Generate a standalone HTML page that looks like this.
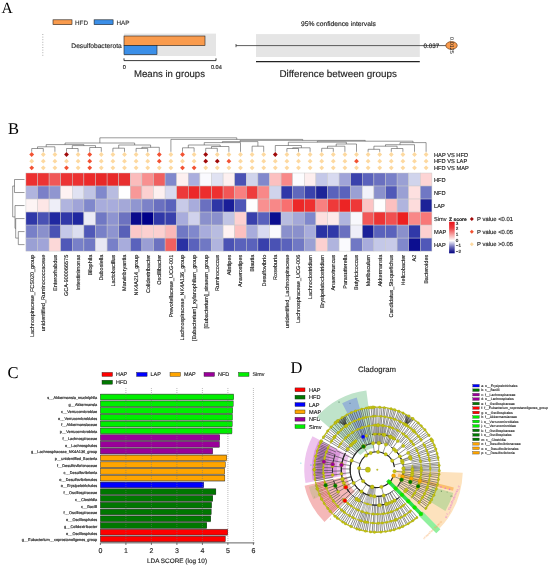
<!DOCTYPE html>
<html><head><meta charset="utf-8"><title>Figure</title><style>html,body{margin:0;padding:0;background:#fff;width:550px;height:566px;overflow:hidden}svg{display:block;filter:blur(0.4px)}</style></head><body>
<svg width="550" height="566" viewBox="0 0 550 566" text-rendering="geometricPrecision">
<rect width="550" height="566" fill="#fff"/>
<text x="1.50" y="13.40" font-size="15.5" fill="#000" stroke="#000" stroke-width="0" text-anchor="start" font-family='"Liberation Serif", serif' font-weight="normal" >A</text>
<text x="8.00" y="133.60" font-size="16.5" fill="#000" stroke="#000" stroke-width="0" text-anchor="start" font-family='"Liberation Serif", serif' font-weight="normal" >B</text>
<text x="7.60" y="377.60" font-size="16.5" fill="#000" stroke="#000" stroke-width="0" text-anchor="start" font-family='"Liberation Serif", serif' font-weight="normal" >C</text>
<text x="290.60" y="372.50" font-size="16.5" fill="#000" stroke="#000" stroke-width="0" text-anchor="start" font-family='"Liberation Serif", serif' font-weight="normal" >D</text>
<rect x="53" y="19.8" width="19" height="4.9" fill="#f99b4d" stroke="#222" stroke-width="0.6"/>
<text x="75.00" y="24.80" font-size="6.3" fill="#333" stroke="#333" stroke-width="0.14" text-anchor="start" font-family='"Liberation Sans", sans-serif' font-weight="normal" >HFD</text>
<rect x="94.1" y="19.8" width="19" height="4.9" fill="#3b8fe8" stroke="#222" stroke-width="0.6"/>
<text x="116.50" y="24.80" font-size="6.3" fill="#333" stroke="#333" stroke-width="0.14" text-anchor="start" font-family='"Liberation Sans", sans-serif' font-weight="normal" >HAP</text>
<line x1="42.8" y1="34" x2="42.8" y2="57" stroke="#999" stroke-width="0.8" stroke-dasharray="1,1.6"/>
<text x="121.70" y="48.40" font-size="6.67" fill="#222" stroke="#222" stroke-width="0.14" text-anchor="end" font-family='"Liberation Sans", sans-serif' font-weight="normal" >Desulfobacterota</text>
<rect x="124" y="33.6" width="92" height="22.4" fill="#e5e5e5"/>
<rect x="124" y="36" width="81" height="9.6" fill="#f99b4d" stroke="#222" stroke-width="0.6"/>
<rect x="124" y="45.6" width="33" height="9" fill="#3b8fe8" stroke="#222" stroke-width="0.6"/>
<path d="M124,58.3 V60.6 H216 V58.3" fill="none" stroke="#222" stroke-width="0.9"/>
<text x="124.40" y="69.30" font-size="5.6" fill="#222" stroke="#222" stroke-width="0.14" text-anchor="middle" font-family='"Liberation Sans", sans-serif' font-weight="normal" >0</text>
<text x="216.40" y="69.30" font-size="5.6" fill="#222" stroke="#222" stroke-width="0.14" text-anchor="middle" font-family='"Liberation Sans", sans-serif' font-weight="normal" >0.04</text>
<text x="169.50" y="77.00" font-size="9.6" fill="#222" stroke="#222" stroke-width="0.14" text-anchor="middle" font-family='"Liberation Sans", sans-serif' font-weight="normal" >Means in groups</text>
<text x="338.40" y="25.60" font-size="6.73" fill="#222" stroke="#222" stroke-width="0.14" text-anchor="middle" font-family='"Liberation Sans", sans-serif' font-weight="normal" >95% confidence intervals</text>
<rect x="256" y="34.1" width="163.8" height="22.9" fill="#e5e5e5"/>
<line x1="236" y1="45.6" x2="446" y2="45.6" stroke="#333" stroke-width="0.8"/>
<line x1="236" y1="44" x2="236" y2="47.2" stroke="#333" stroke-width="0.8"/>
<line x1="256" y1="61.6" x2="419.8" y2="61.6" stroke="#222" stroke-width="1.4"/>
<text x="338.20" y="77.20" font-size="9.86" fill="#222" stroke="#222" stroke-width="0.14" text-anchor="middle" font-family='"Liberation Sans", sans-serif' font-weight="normal" >Difference between groups</text>
<text x="431.50" y="48.40" font-size="6.3" fill="#222" stroke="#222" stroke-width="0.14" text-anchor="middle" font-family='"Liberation Sans", sans-serif' font-weight="normal" >0.037</text>
<ellipse cx="451.5" cy="45.5" rx="5.7" ry="3.9" fill="#f99b4d" stroke="#6a3a10" stroke-width="0.7"/>
<text x="0" y="0" font-size="5.5" fill="#222" text-anchor="middle" font-family='"Liberation Sans", sans-serif' transform="translate(450.2,45.5) rotate(90)">0.0125</text>
<rect x="25.90" y="173.00" width="11.60" height="13.02" fill="#ec3030" stroke="#c8c8c8" stroke-width="0.45"/>
<rect x="37.50" y="173.00" width="11.60" height="13.02" fill="#ec3434" stroke="#c8c8c8" stroke-width="0.45"/>
<rect x="49.10" y="173.00" width="11.60" height="13.02" fill="#f05858" stroke="#c8c8c8" stroke-width="0.45"/>
<rect x="60.70" y="173.00" width="11.60" height="13.02" fill="#ec3434" stroke="#c8c8c8" stroke-width="0.45"/>
<rect x="72.30" y="173.00" width="11.60" height="13.02" fill="#ec3232" stroke="#c8c8c8" stroke-width="0.45"/>
<rect x="83.90" y="173.00" width="11.60" height="13.02" fill="#ec2a2a" stroke="#c8c8c8" stroke-width="0.45"/>
<rect x="95.50" y="173.00" width="11.60" height="13.02" fill="#e82828" stroke="#c8c8c8" stroke-width="0.45"/>
<rect x="107.10" y="173.00" width="11.60" height="13.02" fill="#e82828" stroke="#c8c8c8" stroke-width="0.45"/>
<rect x="118.70" y="173.00" width="11.60" height="13.02" fill="#e83030" stroke="#c8c8c8" stroke-width="0.45"/>
<rect x="130.30" y="173.00" width="11.60" height="13.02" fill="#fbbcbc" stroke="#c8c8c8" stroke-width="0.45"/>
<rect x="141.90" y="173.00" width="11.60" height="13.02" fill="#f89090" stroke="#c8c8c8" stroke-width="0.45"/>
<rect x="153.50" y="173.00" width="11.60" height="13.02" fill="#f06060" stroke="#c8c8c8" stroke-width="0.45"/>
<rect x="165.10" y="173.00" width="11.60" height="13.02" fill="#8088cc" stroke="#c8c8c8" stroke-width="0.45"/>
<rect x="176.70" y="173.00" width="11.60" height="13.02" fill="#fdf0f0" stroke="#c8c8c8" stroke-width="0.45"/>
<rect x="188.30" y="173.00" width="11.60" height="13.02" fill="#aaaedd" stroke="#c8c8c8" stroke-width="0.45"/>
<rect x="199.90" y="173.00" width="11.60" height="13.02" fill="#fafafe" stroke="#c8c8c8" stroke-width="0.45"/>
<rect x="211.50" y="173.00" width="11.60" height="13.02" fill="#e0e2f2" stroke="#c8c8c8" stroke-width="0.45"/>
<rect x="223.10" y="173.00" width="11.60" height="13.02" fill="#fdf0f0" stroke="#c8c8c8" stroke-width="0.45"/>
<rect x="234.70" y="173.00" width="11.60" height="13.02" fill="#4a52b4" stroke="#c8c8c8" stroke-width="0.45"/>
<rect x="246.30" y="173.00" width="11.60" height="13.02" fill="#d0d4ec" stroke="#c8c8c8" stroke-width="0.45"/>
<rect x="257.90" y="173.00" width="11.60" height="13.02" fill="#8088cc" stroke="#c8c8c8" stroke-width="0.45"/>
<rect x="269.50" y="173.00" width="11.60" height="13.02" fill="#fcc0c0" stroke="#c8c8c8" stroke-width="0.45"/>
<rect x="281.10" y="173.00" width="11.60" height="13.02" fill="#f88888" stroke="#c8c8c8" stroke-width="0.45"/>
<rect x="292.70" y="173.00" width="11.60" height="13.02" fill="#fcfcfe" stroke="#c8c8c8" stroke-width="0.45"/>
<rect x="304.30" y="173.00" width="11.60" height="13.02" fill="#fdeeee" stroke="#c8c8c8" stroke-width="0.45"/>
<rect x="315.90" y="173.00" width="11.60" height="13.02" fill="#c4c8e8" stroke="#c8c8c8" stroke-width="0.45"/>
<rect x="327.50" y="173.00" width="11.60" height="13.02" fill="#d8daf0" stroke="#c8c8c8" stroke-width="0.45"/>
<rect x="339.10" y="173.00" width="11.60" height="13.02" fill="#a0a4d8" stroke="#c8c8c8" stroke-width="0.45"/>
<rect x="350.70" y="173.00" width="11.60" height="13.02" fill="#3a42ac" stroke="#c8c8c8" stroke-width="0.45"/>
<rect x="362.30" y="173.00" width="11.60" height="13.02" fill="#5a62bc" stroke="#c8c8c8" stroke-width="0.45"/>
<rect x="373.90" y="173.00" width="11.60" height="13.02" fill="#6a70c0" stroke="#c8c8c8" stroke-width="0.45"/>
<rect x="385.50" y="173.00" width="11.60" height="13.02" fill="#7880c8" stroke="#c8c8c8" stroke-width="0.45"/>
<rect x="397.10" y="173.00" width="11.60" height="13.02" fill="#9aa0d4" stroke="#c8c8c8" stroke-width="0.45"/>
<rect x="408.70" y="173.00" width="11.60" height="13.02" fill="#d0d4ec" stroke="#c8c8c8" stroke-width="0.45"/>
<rect x="420.30" y="173.00" width="11.60" height="13.02" fill="#fdd4d4" stroke="#c8c8c8" stroke-width="0.45"/>
<rect x="25.90" y="186.02" width="11.60" height="13.02" fill="#b0b4de" stroke="#c8c8c8" stroke-width="0.45"/>
<rect x="37.50" y="186.02" width="11.60" height="13.02" fill="#7a80c8" stroke="#c8c8c8" stroke-width="0.45"/>
<rect x="49.10" y="186.02" width="11.60" height="13.02" fill="#9096d0" stroke="#c8c8c8" stroke-width="0.45"/>
<rect x="60.70" y="186.02" width="11.60" height="13.02" fill="#fef2f2" stroke="#c8c8c8" stroke-width="0.45"/>
<rect x="72.30" y="186.02" width="11.60" height="13.02" fill="#e0e2f2" stroke="#c8c8c8" stroke-width="0.45"/>
<rect x="83.90" y="186.02" width="11.60" height="13.02" fill="#c0c4e4" stroke="#c8c8c8" stroke-width="0.45"/>
<rect x="95.50" y="186.02" width="11.60" height="13.02" fill="#8088cc" stroke="#c8c8c8" stroke-width="0.45"/>
<rect x="107.10" y="186.02" width="11.60" height="13.02" fill="#b8bce0" stroke="#c8c8c8" stroke-width="0.45"/>
<rect x="118.70" y="186.02" width="11.60" height="13.02" fill="#ffffff" stroke="#c8c8c8" stroke-width="0.45"/>
<rect x="130.30" y="186.02" width="11.60" height="13.02" fill="#f89898" stroke="#c8c8c8" stroke-width="0.45"/>
<rect x="141.90" y="186.02" width="11.60" height="13.02" fill="#fcd0d0" stroke="#c8c8c8" stroke-width="0.45"/>
<rect x="153.50" y="186.02" width="11.60" height="13.02" fill="#fdf0f0" stroke="#c8c8c8" stroke-width="0.45"/>
<rect x="165.10" y="186.02" width="11.60" height="13.02" fill="#d8daf0" stroke="#c8c8c8" stroke-width="0.45"/>
<rect x="176.70" y="186.02" width="11.60" height="13.02" fill="#ec3a3a" stroke="#c8c8c8" stroke-width="0.45"/>
<rect x="188.30" y="186.02" width="11.60" height="13.02" fill="#ec2828" stroke="#c8c8c8" stroke-width="0.45"/>
<rect x="199.90" y="186.02" width="11.60" height="13.02" fill="#ec2e2e" stroke="#c8c8c8" stroke-width="0.45"/>
<rect x="211.50" y="186.02" width="11.60" height="13.02" fill="#ee3030" stroke="#c8c8c8" stroke-width="0.45"/>
<rect x="223.10" y="186.02" width="11.60" height="13.02" fill="#f25656" stroke="#c8c8c8" stroke-width="0.45"/>
<rect x="234.70" y="186.02" width="11.60" height="13.02" fill="#f88080" stroke="#c8c8c8" stroke-width="0.45"/>
<rect x="246.30" y="186.02" width="11.60" height="13.02" fill="#ee3c3c" stroke="#c8c8c8" stroke-width="0.45"/>
<rect x="257.90" y="186.02" width="11.60" height="13.02" fill="#f88888" stroke="#c8c8c8" stroke-width="0.45"/>
<rect x="269.50" y="186.02" width="11.60" height="13.02" fill="#d0d4ec" stroke="#c8c8c8" stroke-width="0.45"/>
<rect x="281.10" y="186.02" width="11.60" height="13.02" fill="#3038a8" stroke="#c8c8c8" stroke-width="0.45"/>
<rect x="292.70" y="186.02" width="11.60" height="13.02" fill="#6068bc" stroke="#c8c8c8" stroke-width="0.45"/>
<rect x="304.30" y="186.02" width="11.60" height="13.02" fill="#3a42ac" stroke="#c8c8c8" stroke-width="0.45"/>
<rect x="315.90" y="186.02" width="11.60" height="13.02" fill="#1e2498" stroke="#c8c8c8" stroke-width="0.45"/>
<rect x="327.50" y="186.02" width="11.60" height="13.02" fill="#5a62bc" stroke="#c8c8c8" stroke-width="0.45"/>
<rect x="339.10" y="186.02" width="11.60" height="13.02" fill="#5a62bc" stroke="#c8c8c8" stroke-width="0.45"/>
<rect x="350.70" y="186.02" width="11.60" height="13.02" fill="#9aa0d4" stroke="#c8c8c8" stroke-width="0.45"/>
<rect x="362.30" y="186.02" width="11.60" height="13.02" fill="#f2f2fa" stroke="#c8c8c8" stroke-width="0.45"/>
<rect x="373.90" y="186.02" width="11.60" height="13.02" fill="#8a90cc" stroke="#c8c8c8" stroke-width="0.45"/>
<rect x="385.50" y="186.02" width="11.60" height="13.02" fill="#5058b8" stroke="#c8c8c8" stroke-width="0.45"/>
<rect x="397.10" y="186.02" width="11.60" height="13.02" fill="#9aa0d4" stroke="#c8c8c8" stroke-width="0.45"/>
<rect x="408.70" y="186.02" width="11.60" height="13.02" fill="#fde0e0" stroke="#c8c8c8" stroke-width="0.45"/>
<rect x="420.30" y="186.02" width="11.60" height="13.02" fill="#7078c4" stroke="#c8c8c8" stroke-width="0.45"/>
<rect x="25.90" y="199.04" width="11.60" height="13.02" fill="#fdf4f4" stroke="#c8c8c8" stroke-width="0.45"/>
<rect x="37.50" y="199.04" width="11.60" height="13.02" fill="#fde6e6" stroke="#c8c8c8" stroke-width="0.45"/>
<rect x="49.10" y="199.04" width="11.60" height="13.02" fill="#eeeef8" stroke="#c8c8c8" stroke-width="0.45"/>
<rect x="60.70" y="199.04" width="11.60" height="13.02" fill="#b0b4de" stroke="#c8c8c8" stroke-width="0.45"/>
<rect x="72.30" y="199.04" width="11.60" height="13.02" fill="#a0a4d8" stroke="#c8c8c8" stroke-width="0.45"/>
<rect x="83.90" y="199.04" width="11.60" height="13.02" fill="#8088cc" stroke="#c8c8c8" stroke-width="0.45"/>
<rect x="95.50" y="199.04" width="11.60" height="13.02" fill="#a8acdc" stroke="#c8c8c8" stroke-width="0.45"/>
<rect x="107.10" y="199.04" width="11.60" height="13.02" fill="#a8acdc" stroke="#c8c8c8" stroke-width="0.45"/>
<rect x="118.70" y="199.04" width="11.60" height="13.02" fill="#a4a8d8" stroke="#c8c8c8" stroke-width="0.45"/>
<rect x="130.30" y="199.04" width="11.60" height="13.02" fill="#9096d0" stroke="#c8c8c8" stroke-width="0.45"/>
<rect x="141.90" y="199.04" width="11.60" height="13.02" fill="#7c82c8" stroke="#c8c8c8" stroke-width="0.45"/>
<rect x="153.50" y="199.04" width="11.60" height="13.02" fill="#6a70c0" stroke="#c8c8c8" stroke-width="0.45"/>
<rect x="165.10" y="199.04" width="11.60" height="13.02" fill="#5a62bc" stroke="#c8c8c8" stroke-width="0.45"/>
<rect x="176.70" y="199.04" width="11.60" height="13.02" fill="#c8cae8" stroke="#c8c8c8" stroke-width="0.45"/>
<rect x="188.30" y="199.04" width="11.60" height="13.02" fill="#a8acdc" stroke="#c8c8c8" stroke-width="0.45"/>
<rect x="199.90" y="199.04" width="11.60" height="13.02" fill="#6a70c0" stroke="#c8c8c8" stroke-width="0.45"/>
<rect x="211.50" y="199.04" width="11.60" height="13.02" fill="#2e36a6" stroke="#c8c8c8" stroke-width="0.45"/>
<rect x="223.10" y="199.04" width="11.60" height="13.02" fill="#1a1e98" stroke="#c8c8c8" stroke-width="0.45"/>
<rect x="234.70" y="199.04" width="11.60" height="13.02" fill="#4e56b6" stroke="#c8c8c8" stroke-width="0.45"/>
<rect x="246.30" y="199.04" width="11.60" height="13.02" fill="#fefefe" stroke="#c8c8c8" stroke-width="0.45"/>
<rect x="257.90" y="199.04" width="11.60" height="13.02" fill="#f89090" stroke="#c8c8c8" stroke-width="0.45"/>
<rect x="269.50" y="199.04" width="11.60" height="13.02" fill="#f88888" stroke="#c8c8c8" stroke-width="0.45"/>
<rect x="281.10" y="199.04" width="11.60" height="13.02" fill="#f87070" stroke="#c8c8c8" stroke-width="0.45"/>
<rect x="292.70" y="199.04" width="11.60" height="13.02" fill="#ec2828" stroke="#c8c8c8" stroke-width="0.45"/>
<rect x="304.30" y="199.04" width="11.60" height="13.02" fill="#ee3030" stroke="#c8c8c8" stroke-width="0.45"/>
<rect x="315.90" y="199.04" width="11.60" height="13.02" fill="#f88080" stroke="#c8c8c8" stroke-width="0.45"/>
<rect x="327.50" y="199.04" width="11.60" height="13.02" fill="#ee3a3a" stroke="#c8c8c8" stroke-width="0.45"/>
<rect x="339.10" y="199.04" width="11.60" height="13.02" fill="#ec2424" stroke="#c8c8c8" stroke-width="0.45"/>
<rect x="350.70" y="199.04" width="11.60" height="13.02" fill="#ee3838" stroke="#c8c8c8" stroke-width="0.45"/>
<rect x="362.30" y="199.04" width="11.60" height="13.02" fill="#fcc4c4" stroke="#c8c8c8" stroke-width="0.45"/>
<rect x="373.90" y="199.04" width="11.60" height="13.02" fill="#fefefe" stroke="#c8c8c8" stroke-width="0.45"/>
<rect x="385.50" y="199.04" width="11.60" height="13.02" fill="#fcc0c0" stroke="#c8c8c8" stroke-width="0.45"/>
<rect x="397.10" y="199.04" width="11.60" height="13.02" fill="#b0b4de" stroke="#c8c8c8" stroke-width="0.45"/>
<rect x="408.70" y="199.04" width="11.60" height="13.02" fill="#fddcdc" stroke="#c8c8c8" stroke-width="0.45"/>
<rect x="420.30" y="199.04" width="11.60" height="13.02" fill="#1c2298" stroke="#c8c8c8" stroke-width="0.45"/>
<rect x="25.90" y="212.06" width="11.60" height="13.02" fill="#3038a8" stroke="#c8c8c8" stroke-width="0.45"/>
<rect x="37.50" y="212.06" width="11.60" height="13.02" fill="#4a52b4" stroke="#c8c8c8" stroke-width="0.45"/>
<rect x="49.10" y="212.06" width="11.60" height="13.02" fill="#2028a0" stroke="#c8c8c8" stroke-width="0.45"/>
<rect x="60.70" y="212.06" width="11.60" height="13.02" fill="#3038a8" stroke="#c8c8c8" stroke-width="0.45"/>
<rect x="72.30" y="212.06" width="11.60" height="13.02" fill="#2028a0" stroke="#c8c8c8" stroke-width="0.45"/>
<rect x="83.90" y="212.06" width="11.60" height="13.02" fill="#ebebf6" stroke="#c8c8c8" stroke-width="0.45"/>
<rect x="95.50" y="212.06" width="11.60" height="13.02" fill="#7078c4" stroke="#c8c8c8" stroke-width="0.45"/>
<rect x="107.10" y="212.06" width="11.60" height="13.02" fill="#8e94d0" stroke="#c8c8c8" stroke-width="0.45"/>
<rect x="118.70" y="212.06" width="11.60" height="13.02" fill="#6c72c0" stroke="#c8c8c8" stroke-width="0.45"/>
<rect x="130.30" y="212.06" width="11.60" height="13.02" fill="#0a0a8c" stroke="#c8c8c8" stroke-width="0.45"/>
<rect x="141.90" y="212.06" width="11.60" height="13.02" fill="#00008a" stroke="#c8c8c8" stroke-width="0.45"/>
<rect x="153.50" y="212.06" width="11.60" height="13.02" fill="#3038a8" stroke="#c8c8c8" stroke-width="0.45"/>
<rect x="165.10" y="212.06" width="11.60" height="13.02" fill="#3840ac" stroke="#c8c8c8" stroke-width="0.45"/>
<rect x="176.70" y="212.06" width="11.60" height="13.02" fill="#a8acdc" stroke="#c8c8c8" stroke-width="0.45"/>
<rect x="188.30" y="212.06" width="11.60" height="13.02" fill="#d0d2ec" stroke="#c8c8c8" stroke-width="0.45"/>
<rect x="199.90" y="212.06" width="11.60" height="13.02" fill="#8a90cc" stroke="#c8c8c8" stroke-width="0.45"/>
<rect x="211.50" y="212.06" width="11.60" height="13.02" fill="#8a90cc" stroke="#c8c8c8" stroke-width="0.45"/>
<rect x="223.10" y="212.06" width="11.60" height="13.02" fill="#c0c4e4" stroke="#c8c8c8" stroke-width="0.45"/>
<rect x="234.70" y="212.06" width="11.60" height="13.02" fill="#fdd0d0" stroke="#c8c8c8" stroke-width="0.45"/>
<rect x="246.30" y="212.06" width="11.60" height="13.02" fill="#3840ac" stroke="#c8c8c8" stroke-width="0.45"/>
<rect x="257.90" y="212.06" width="11.60" height="13.02" fill="#5860bc" stroke="#c8c8c8" stroke-width="0.45"/>
<rect x="269.50" y="212.06" width="11.60" height="13.02" fill="#0c0e90" stroke="#c8c8c8" stroke-width="0.45"/>
<rect x="281.10" y="212.06" width="11.60" height="13.02" fill="#b8bce0" stroke="#c8c8c8" stroke-width="0.45"/>
<rect x="292.70" y="212.06" width="11.60" height="13.02" fill="#a4a8d8" stroke="#c8c8c8" stroke-width="0.45"/>
<rect x="304.30" y="212.06" width="11.60" height="13.02" fill="#8088cc" stroke="#c8c8c8" stroke-width="0.45"/>
<rect x="315.90" y="212.06" width="11.60" height="13.02" fill="#fde0e0" stroke="#c8c8c8" stroke-width="0.45"/>
<rect x="327.50" y="212.06" width="11.60" height="13.02" fill="#fdeaea" stroke="#c8c8c8" stroke-width="0.45"/>
<rect x="339.10" y="212.06" width="11.60" height="13.02" fill="#b0b4de" stroke="#c8c8c8" stroke-width="0.45"/>
<rect x="350.70" y="212.06" width="11.60" height="13.02" fill="#f8f8fc" stroke="#c8c8c8" stroke-width="0.45"/>
<rect x="362.30" y="212.06" width="11.60" height="13.02" fill="#f25858" stroke="#c8c8c8" stroke-width="0.45"/>
<rect x="373.90" y="212.06" width="11.60" height="13.02" fill="#ec3434" stroke="#c8c8c8" stroke-width="0.45"/>
<rect x="385.50" y="212.06" width="11.60" height="13.02" fill="#f05050" stroke="#c8c8c8" stroke-width="0.45"/>
<rect x="397.10" y="212.06" width="11.60" height="13.02" fill="#ec2020" stroke="#c8c8c8" stroke-width="0.45"/>
<rect x="408.70" y="212.06" width="11.60" height="13.02" fill="#f88888" stroke="#c8c8c8" stroke-width="0.45"/>
<rect x="420.30" y="212.06" width="11.60" height="13.02" fill="#f87878" stroke="#c8c8c8" stroke-width="0.45"/>
<rect x="25.90" y="225.08" width="11.60" height="13.02" fill="#7880c8" stroke="#c8c8c8" stroke-width="0.45"/>
<rect x="37.50" y="225.08" width="11.60" height="13.02" fill="#8a90cc" stroke="#c8c8c8" stroke-width="0.45"/>
<rect x="49.10" y="225.08" width="11.60" height="13.02" fill="#4a52b4" stroke="#c8c8c8" stroke-width="0.45"/>
<rect x="60.70" y="225.08" width="11.60" height="13.02" fill="#c4c8e8" stroke="#c8c8c8" stroke-width="0.45"/>
<rect x="72.30" y="225.08" width="11.60" height="13.02" fill="#dcdef0" stroke="#c8c8c8" stroke-width="0.45"/>
<rect x="83.90" y="225.08" width="11.60" height="13.02" fill="#5058b8" stroke="#c8c8c8" stroke-width="0.45"/>
<rect x="95.50" y="225.08" width="11.60" height="13.02" fill="#7880c8" stroke="#c8c8c8" stroke-width="0.45"/>
<rect x="107.10" y="225.08" width="11.60" height="13.02" fill="#8e94d0" stroke="#c8c8c8" stroke-width="0.45"/>
<rect x="118.70" y="225.08" width="11.60" height="13.02" fill="#5860b8" stroke="#c8c8c8" stroke-width="0.45"/>
<rect x="130.30" y="225.08" width="11.60" height="13.02" fill="#fcc8c8" stroke="#c8c8c8" stroke-width="0.45"/>
<rect x="141.90" y="225.08" width="11.60" height="13.02" fill="#fcd0d0" stroke="#c8c8c8" stroke-width="0.45"/>
<rect x="153.50" y="225.08" width="11.60" height="13.02" fill="#fcd0d0" stroke="#c8c8c8" stroke-width="0.45"/>
<rect x="165.10" y="225.08" width="11.60" height="13.02" fill="#fbb8b8" stroke="#c8c8c8" stroke-width="0.45"/>
<rect x="176.70" y="225.08" width="11.60" height="13.02" fill="#7078c4" stroke="#c8c8c8" stroke-width="0.45"/>
<rect x="188.30" y="225.08" width="11.60" height="13.02" fill="#8088cc" stroke="#c8c8c8" stroke-width="0.45"/>
<rect x="199.90" y="225.08" width="11.60" height="13.02" fill="#a8acdc" stroke="#c8c8c8" stroke-width="0.45"/>
<rect x="211.50" y="225.08" width="11.60" height="13.02" fill="#b8bce0" stroke="#c8c8c8" stroke-width="0.45"/>
<rect x="223.10" y="225.08" width="11.60" height="13.02" fill="#fff2f2" stroke="#c8c8c8" stroke-width="0.45"/>
<rect x="234.70" y="225.08" width="11.60" height="13.02" fill="#fcc0c0" stroke="#c8c8c8" stroke-width="0.45"/>
<rect x="246.30" y="225.08" width="11.60" height="13.02" fill="#a8acdc" stroke="#c8c8c8" stroke-width="0.45"/>
<rect x="257.90" y="225.08" width="11.60" height="13.02" fill="#d8daf0" stroke="#c8c8c8" stroke-width="0.45"/>
<rect x="269.50" y="225.08" width="11.60" height="13.02" fill="#fafafe" stroke="#c8c8c8" stroke-width="0.45"/>
<rect x="281.10" y="225.08" width="11.60" height="13.02" fill="#8a90cc" stroke="#c8c8c8" stroke-width="0.45"/>
<rect x="292.70" y="225.08" width="11.60" height="13.02" fill="#8a90cc" stroke="#c8c8c8" stroke-width="0.45"/>
<rect x="304.30" y="225.08" width="11.60" height="13.02" fill="#a8acdc" stroke="#c8c8c8" stroke-width="0.45"/>
<rect x="315.90" y="225.08" width="11.60" height="13.02" fill="#2a32a4" stroke="#c8c8c8" stroke-width="0.45"/>
<rect x="327.50" y="225.08" width="11.60" height="13.02" fill="#3038a8" stroke="#c8c8c8" stroke-width="0.45"/>
<rect x="339.10" y="225.08" width="11.60" height="13.02" fill="#6a70c0" stroke="#c8c8c8" stroke-width="0.45"/>
<rect x="350.70" y="225.08" width="11.60" height="13.02" fill="#eeeef8" stroke="#c8c8c8" stroke-width="0.45"/>
<rect x="362.30" y="225.08" width="11.60" height="13.02" fill="#1a2098" stroke="#c8c8c8" stroke-width="0.45"/>
<rect x="373.90" y="225.08" width="11.60" height="13.02" fill="#5a62bc" stroke="#c8c8c8" stroke-width="0.45"/>
<rect x="385.50" y="225.08" width="11.60" height="13.02" fill="#5a62bc" stroke="#c8c8c8" stroke-width="0.45"/>
<rect x="397.10" y="225.08" width="11.60" height="13.02" fill="#8a90cc" stroke="#c8c8c8" stroke-width="0.45"/>
<rect x="408.70" y="225.08" width="11.60" height="13.02" fill="#3038a8" stroke="#c8c8c8" stroke-width="0.45"/>
<rect x="420.30" y="225.08" width="11.60" height="13.02" fill="#fcd0d0" stroke="#c8c8c8" stroke-width="0.45"/>
<rect x="25.90" y="238.10" width="11.60" height="13.02" fill="#9aa0d4" stroke="#c8c8c8" stroke-width="0.45"/>
<rect x="37.50" y="238.10" width="11.60" height="13.02" fill="#a0a4d8" stroke="#c8c8c8" stroke-width="0.45"/>
<rect x="49.10" y="238.10" width="11.60" height="13.02" fill="#fcd8d8" stroke="#c8c8c8" stroke-width="0.45"/>
<rect x="60.70" y="238.10" width="11.60" height="13.02" fill="#5058b8" stroke="#c8c8c8" stroke-width="0.45"/>
<rect x="72.30" y="238.10" width="11.60" height="13.02" fill="#7880c8" stroke="#c8c8c8" stroke-width="0.45"/>
<rect x="83.90" y="238.10" width="11.60" height="13.02" fill="#7078c4" stroke="#c8c8c8" stroke-width="0.45"/>
<rect x="95.50" y="238.10" width="11.60" height="13.02" fill="#e8e8f4" stroke="#c8c8c8" stroke-width="0.45"/>
<rect x="107.10" y="238.10" width="11.60" height="13.02" fill="#7880c8" stroke="#c8c8c8" stroke-width="0.45"/>
<rect x="118.70" y="238.10" width="11.60" height="13.02" fill="#a8acdc" stroke="#c8c8c8" stroke-width="0.45"/>
<rect x="130.30" y="238.10" width="11.60" height="13.02" fill="#5a62bc" stroke="#c8c8c8" stroke-width="0.45"/>
<rect x="141.90" y="238.10" width="11.60" height="13.02" fill="#9a9ed4" stroke="#c8c8c8" stroke-width="0.45"/>
<rect x="153.50" y="238.10" width="11.60" height="13.02" fill="#6c72c0" stroke="#c8c8c8" stroke-width="0.45"/>
<rect x="165.10" y="238.10" width="11.60" height="13.02" fill="#f06060" stroke="#c8c8c8" stroke-width="0.45"/>
<rect x="176.70" y="238.10" width="11.60" height="13.02" fill="#2a32a4" stroke="#c8c8c8" stroke-width="0.45"/>
<rect x="188.30" y="238.10" width="11.60" height="13.02" fill="#5a62bc" stroke="#c8c8c8" stroke-width="0.45"/>
<rect x="199.90" y="238.10" width="11.60" height="13.02" fill="#7078c4" stroke="#c8c8c8" stroke-width="0.45"/>
<rect x="211.50" y="238.10" width="11.60" height="13.02" fill="#b0b4de" stroke="#c8c8c8" stroke-width="0.45"/>
<rect x="223.10" y="238.10" width="11.60" height="13.02" fill="#4a52b4" stroke="#c8c8c8" stroke-width="0.45"/>
<rect x="234.70" y="238.10" width="11.60" height="13.02" fill="#5a62bc" stroke="#c8c8c8" stroke-width="0.45"/>
<rect x="246.30" y="238.10" width="11.60" height="13.02" fill="#5a62bc" stroke="#c8c8c8" stroke-width="0.45"/>
<rect x="257.90" y="238.10" width="11.60" height="13.02" fill="#3840ac" stroke="#c8c8c8" stroke-width="0.45"/>
<rect x="269.50" y="238.10" width="11.60" height="13.02" fill="#4a52b4" stroke="#c8c8c8" stroke-width="0.45"/>
<rect x="281.10" y="238.10" width="11.60" height="13.02" fill="#5a62bc" stroke="#c8c8c8" stroke-width="0.45"/>
<rect x="292.70" y="238.10" width="11.60" height="13.02" fill="#7078c4" stroke="#c8c8c8" stroke-width="0.45"/>
<rect x="304.30" y="238.10" width="11.60" height="13.02" fill="#9aa0d4" stroke="#c8c8c8" stroke-width="0.45"/>
<rect x="315.90" y="238.10" width="11.60" height="13.02" fill="#fcd0d0" stroke="#c8c8c8" stroke-width="0.45"/>
<rect x="327.50" y="238.10" width="11.60" height="13.02" fill="#b0b4de" stroke="#c8c8c8" stroke-width="0.45"/>
<rect x="339.10" y="238.10" width="11.60" height="13.02" fill="#fafafe" stroke="#c8c8c8" stroke-width="0.45"/>
<rect x="350.70" y="238.10" width="11.60" height="13.02" fill="#7078c4" stroke="#c8c8c8" stroke-width="0.45"/>
<rect x="362.30" y="238.10" width="11.60" height="13.02" fill="#a8acdc" stroke="#c8c8c8" stroke-width="0.45"/>
<rect x="373.90" y="238.10" width="11.60" height="13.02" fill="#c4c8e8" stroke="#c8c8c8" stroke-width="0.45"/>
<rect x="385.50" y="238.10" width="11.60" height="13.02" fill="#c8cae8" stroke="#c8c8c8" stroke-width="0.45"/>
<rect x="397.10" y="238.10" width="11.60" height="13.02" fill="#8088cc" stroke="#c8c8c8" stroke-width="0.45"/>
<rect x="408.70" y="238.10" width="11.60" height="13.02" fill="#0c0e90" stroke="#c8c8c8" stroke-width="0.45"/>
<rect x="420.30" y="238.10" width="11.60" height="13.02" fill="#5058b8" stroke="#c8c8c8" stroke-width="0.45"/>
<text x="434.00" y="181.51" font-size="5.7" fill="#222" stroke="#222" stroke-width="0.14" text-anchor="start" font-family='"Liberation Sans", sans-serif' font-weight="normal" >HFD</text>
<text x="434.00" y="194.53" font-size="5.7" fill="#222" stroke="#222" stroke-width="0.14" text-anchor="start" font-family='"Liberation Sans", sans-serif' font-weight="normal" >NFD</text>
<text x="434.00" y="207.55" font-size="5.7" fill="#222" stroke="#222" stroke-width="0.14" text-anchor="start" font-family='"Liberation Sans", sans-serif' font-weight="normal" >LAP</text>
<text x="434.00" y="220.57" font-size="5.7" fill="#222" stroke="#222" stroke-width="0.14" text-anchor="start" font-family='"Liberation Sans", sans-serif' font-weight="normal" >Simv</text>
<text x="434.00" y="233.59" font-size="5.7" fill="#222" stroke="#222" stroke-width="0.14" text-anchor="start" font-family='"Liberation Sans", sans-serif' font-weight="normal" >MAP</text>
<text x="434.00" y="246.61" font-size="5.7" fill="#222" stroke="#222" stroke-width="0.14" text-anchor="start" font-family='"Liberation Sans", sans-serif' font-weight="normal" >HAP</text>
<text x="434.00" y="156.50" font-size="5.7" fill="#222" stroke="#222" stroke-width="0.14" text-anchor="start" font-family='"Liberation Sans", sans-serif' font-weight="normal" >HAP VS HFD</text>
<text x="434.00" y="163.10" font-size="5.7" fill="#222" stroke="#222" stroke-width="0.14" text-anchor="start" font-family='"Liberation Sans", sans-serif' font-weight="normal" >HFD VS LAP</text>
<text x="434.00" y="169.60" font-size="5.7" fill="#222" stroke="#222" stroke-width="0.14" text-anchor="start" font-family='"Liberation Sans", sans-serif' font-weight="normal" >HFD VS MAP</text>
<path d="M31.70,152.10 L34.10,154.50 L31.70,156.90 L29.30,154.50 Z" fill="#f25232"/>
<path d="M31.70,158.80 L34.10,161.20 L31.70,163.60 L29.30,161.20 Z" fill="#fdd9a0"/>
<path d="M31.70,165.40 L34.10,167.80 L31.70,170.20 L29.30,167.80 Z" fill="#f25232"/>
<path d="M43.30,152.10 L45.70,154.50 L43.30,156.90 L40.90,154.50 Z" fill="#fdd9a0"/>
<path d="M43.30,158.80 L45.70,161.20 L43.30,163.60 L40.90,161.20 Z" fill="#fdd9a0"/>
<path d="M43.30,165.40 L45.70,167.80 L43.30,170.20 L40.90,167.80 Z" fill="#fdd9a0"/>
<path d="M54.90,152.10 L57.30,154.50 L54.90,156.90 L52.50,154.50 Z" fill="#fdd9a0"/>
<path d="M54.90,158.80 L57.30,161.20 L54.90,163.60 L52.50,161.20 Z" fill="#fdd9a0"/>
<path d="M54.90,165.40 L57.30,167.80 L54.90,170.20 L52.50,167.80 Z" fill="#fdd9a0"/>
<path d="M66.50,152.10 L68.90,154.50 L66.50,156.90 L64.10,154.50 Z" fill="#a00a0a"/>
<path d="M66.50,158.80 L68.90,161.20 L66.50,163.60 L64.10,161.20 Z" fill="#fdd9a0"/>
<path d="M66.50,165.40 L68.90,167.80 L66.50,170.20 L64.10,167.80 Z" fill="#f25232"/>
<path d="M78.10,152.10 L80.50,154.50 L78.10,156.90 L75.70,154.50 Z" fill="#fdd9a0"/>
<path d="M78.10,158.80 L80.50,161.20 L78.10,163.60 L75.70,161.20 Z" fill="#fdd9a0"/>
<path d="M78.10,165.40 L80.50,167.80 L78.10,170.20 L75.70,167.80 Z" fill="#fdd9a0"/>
<path d="M89.70,152.10 L92.10,154.50 L89.70,156.90 L87.30,154.50 Z" fill="#f25232"/>
<path d="M89.70,158.80 L92.10,161.20 L89.70,163.60 L87.30,161.20 Z" fill="#f25232"/>
<path d="M89.70,165.40 L92.10,167.80 L89.70,170.20 L87.30,167.80 Z" fill="#f25232"/>
<path d="M101.30,152.10 L103.70,154.50 L101.30,156.90 L98.90,154.50 Z" fill="#fdd9a0"/>
<path d="M101.30,158.80 L103.70,161.20 L101.30,163.60 L98.90,161.20 Z" fill="#fdd9a0"/>
<path d="M101.30,165.40 L103.70,167.80 L101.30,170.20 L98.90,167.80 Z" fill="#fdd9a0"/>
<path d="M112.90,152.10 L115.30,154.50 L112.90,156.90 L110.50,154.50 Z" fill="#fdd9a0"/>
<path d="M112.90,158.80 L115.30,161.20 L112.90,163.60 L110.50,161.20 Z" fill="#fdd9a0"/>
<path d="M112.90,165.40 L115.30,167.80 L112.90,170.20 L110.50,167.80 Z" fill="#fdd9a0"/>
<path d="M124.50,152.10 L126.90,154.50 L124.50,156.90 L122.10,154.50 Z" fill="#fdd9a0"/>
<path d="M124.50,158.80 L126.90,161.20 L124.50,163.60 L122.10,161.20 Z" fill="#fdd9a0"/>
<path d="M124.50,165.40 L126.90,167.80 L124.50,170.20 L122.10,167.80 Z" fill="#fdd9a0"/>
<path d="M136.10,152.10 L138.50,154.50 L136.10,156.90 L133.70,154.50 Z" fill="#fdd9a0"/>
<path d="M136.10,158.80 L138.50,161.20 L136.10,163.60 L133.70,161.20 Z" fill="#fdd9a0"/>
<path d="M136.10,165.40 L138.50,167.80 L136.10,170.20 L133.70,167.80 Z" fill="#fdd9a0"/>
<path d="M147.70,152.10 L150.10,154.50 L147.70,156.90 L145.30,154.50 Z" fill="#fdd9a0"/>
<path d="M147.70,158.80 L150.10,161.20 L147.70,163.60 L145.30,161.20 Z" fill="#fdd9a0"/>
<path d="M147.70,165.40 L150.10,167.80 L147.70,170.20 L145.30,167.80 Z" fill="#fdd9a0"/>
<path d="M159.30,152.10 L161.70,154.50 L159.30,156.90 L156.90,154.50 Z" fill="#f25232"/>
<path d="M159.30,158.80 L161.70,161.20 L159.30,163.60 L156.90,161.20 Z" fill="#f25232"/>
<path d="M159.30,165.40 L161.70,167.80 L159.30,170.20 L156.90,167.80 Z" fill="#fdd9a0"/>
<path d="M170.90,152.10 L173.30,154.50 L170.90,156.90 L168.50,154.50 Z" fill="#fdd9a0"/>
<path d="M170.90,158.80 L173.30,161.20 L170.90,163.60 L168.50,161.20 Z" fill="#fdd9a0"/>
<path d="M170.90,165.40 L173.30,167.80 L170.90,170.20 L168.50,167.80 Z" fill="#fdd9a0"/>
<path d="M182.50,152.10 L184.90,154.50 L182.50,156.90 L180.10,154.50 Z" fill="#f25232"/>
<path d="M182.50,158.80 L184.90,161.20 L182.50,163.60 L180.10,161.20 Z" fill="#fdd9a0"/>
<path d="M182.50,165.40 L184.90,167.80 L182.50,170.20 L180.10,167.80 Z" fill="#f25232"/>
<path d="M194.10,152.10 L196.50,154.50 L194.10,156.90 L191.70,154.50 Z" fill="#fdd9a0"/>
<path d="M194.10,158.80 L196.50,161.20 L194.10,163.60 L191.70,161.20 Z" fill="#fdd9a0"/>
<path d="M194.10,165.40 L196.50,167.80 L194.10,170.20 L191.70,167.80 Z" fill="#f25232"/>
<path d="M205.70,152.10 L208.10,154.50 L205.70,156.90 L203.30,154.50 Z" fill="#a00a0a"/>
<path d="M205.70,158.80 L208.10,161.20 L205.70,163.60 L203.30,161.20 Z" fill="#a00a0a"/>
<path d="M205.70,165.40 L208.10,167.80 L205.70,170.20 L203.30,167.80 Z" fill="#fdd9a0"/>
<path d="M217.30,152.10 L219.70,154.50 L217.30,156.90 L214.90,154.50 Z" fill="#fdd9a0"/>
<path d="M217.30,158.80 L219.70,161.20 L217.30,163.60 L214.90,161.20 Z" fill="#a00a0a"/>
<path d="M217.30,165.40 L219.70,167.80 L217.30,170.20 L214.90,167.80 Z" fill="#fdd9a0"/>
<path d="M228.90,152.10 L231.30,154.50 L228.90,156.90 L226.50,154.50 Z" fill="#fdd9a0"/>
<path d="M228.90,158.80 L231.30,161.20 L228.90,163.60 L226.50,161.20 Z" fill="#f25232"/>
<path d="M228.90,165.40 L231.30,167.80 L228.90,170.20 L226.50,167.80 Z" fill="#fdd9a0"/>
<path d="M240.50,152.10 L242.90,154.50 L240.50,156.90 L238.10,154.50 Z" fill="#fdd9a0"/>
<path d="M240.50,158.80 L242.90,161.20 L240.50,163.60 L238.10,161.20 Z" fill="#fdd9a0"/>
<path d="M240.50,165.40 L242.90,167.80 L240.50,170.20 L238.10,167.80 Z" fill="#fdd9a0"/>
<path d="M252.10,152.10 L254.50,154.50 L252.10,156.90 L249.70,154.50 Z" fill="#fdd9a0"/>
<path d="M252.10,158.80 L254.50,161.20 L252.10,163.60 L249.70,161.20 Z" fill="#fdd9a0"/>
<path d="M252.10,165.40 L254.50,167.80 L252.10,170.20 L249.70,167.80 Z" fill="#fdd9a0"/>
<path d="M263.70,152.10 L266.10,154.50 L263.70,156.90 L261.30,154.50 Z" fill="#fdd9a0"/>
<path d="M263.70,158.80 L266.10,161.20 L263.70,163.60 L261.30,161.20 Z" fill="#fdd9a0"/>
<path d="M263.70,165.40 L266.10,167.80 L263.70,170.20 L261.30,167.80 Z" fill="#fdd9a0"/>
<path d="M275.30,152.10 L277.70,154.50 L275.30,156.90 L272.90,154.50 Z" fill="#a00a0a"/>
<path d="M275.30,158.80 L277.70,161.20 L275.30,163.60 L272.90,161.20 Z" fill="#fdd9a0"/>
<path d="M275.30,165.40 L277.70,167.80 L275.30,170.20 L272.90,167.80 Z" fill="#fdd9a0"/>
<path d="M286.90,152.10 L289.30,154.50 L286.90,156.90 L284.50,154.50 Z" fill="#fdd9a0"/>
<path d="M286.90,158.80 L289.30,161.20 L286.90,163.60 L284.50,161.20 Z" fill="#fdd9a0"/>
<path d="M286.90,165.40 L289.30,167.80 L286.90,170.20 L284.50,167.80 Z" fill="#fdd9a0"/>
<path d="M298.50,152.10 L300.90,154.50 L298.50,156.90 L296.10,154.50 Z" fill="#fdd9a0"/>
<path d="M298.50,158.80 L300.90,161.20 L298.50,163.60 L296.10,161.20 Z" fill="#fdd9a0"/>
<path d="M298.50,165.40 L300.90,167.80 L298.50,170.20 L296.10,167.80 Z" fill="#fdd9a0"/>
<path d="M310.10,152.10 L312.50,154.50 L310.10,156.90 L307.70,154.50 Z" fill="#fdd9a0"/>
<path d="M310.10,158.80 L312.50,161.20 L310.10,163.60 L307.70,161.20 Z" fill="#fdd9a0"/>
<path d="M310.10,165.40 L312.50,167.80 L310.10,170.20 L307.70,167.80 Z" fill="#fdd9a0"/>
<path d="M321.70,152.10 L324.10,154.50 L321.70,156.90 L319.30,154.50 Z" fill="#fdd9a0"/>
<path d="M321.70,158.80 L324.10,161.20 L321.70,163.60 L319.30,161.20 Z" fill="#fdd9a0"/>
<path d="M321.70,165.40 L324.10,167.80 L321.70,170.20 L319.30,167.80 Z" fill="#fdd9a0"/>
<path d="M333.30,152.10 L335.70,154.50 L333.30,156.90 L330.90,154.50 Z" fill="#fdd9a0"/>
<path d="M333.30,158.80 L335.70,161.20 L333.30,163.60 L330.90,161.20 Z" fill="#fdd9a0"/>
<path d="M333.30,165.40 L335.70,167.80 L333.30,170.20 L330.90,167.80 Z" fill="#fdd9a0"/>
<path d="M344.90,152.10 L347.30,154.50 L344.90,156.90 L342.50,154.50 Z" fill="#fdd9a0"/>
<path d="M344.90,158.80 L347.30,161.20 L344.90,163.60 L342.50,161.20 Z" fill="#fdd9a0"/>
<path d="M344.90,165.40 L347.30,167.80 L344.90,170.20 L342.50,167.80 Z" fill="#fdd9a0"/>
<path d="M356.50,152.10 L358.90,154.50 L356.50,156.90 L354.10,154.50 Z" fill="#fdd9a0"/>
<path d="M356.50,158.80 L358.90,161.20 L356.50,163.60 L354.10,161.20 Z" fill="#f25232"/>
<path d="M356.50,165.40 L358.90,167.80 L356.50,170.20 L354.10,167.80 Z" fill="#fdd9a0"/>
<path d="M368.10,152.10 L370.50,154.50 L368.10,156.90 L365.70,154.50 Z" fill="#fdd9a0"/>
<path d="M368.10,158.80 L370.50,161.20 L368.10,163.60 L365.70,161.20 Z" fill="#fdd9a0"/>
<path d="M368.10,165.40 L370.50,167.80 L368.10,170.20 L365.70,167.80 Z" fill="#fdd9a0"/>
<path d="M379.70,152.10 L382.10,154.50 L379.70,156.90 L377.30,154.50 Z" fill="#fdd9a0"/>
<path d="M379.70,158.80 L382.10,161.20 L379.70,163.60 L377.30,161.20 Z" fill="#fdd9a0"/>
<path d="M379.70,165.40 L382.10,167.80 L379.70,170.20 L377.30,167.80 Z" fill="#fdd9a0"/>
<path d="M391.30,152.10 L393.70,154.50 L391.30,156.90 L388.90,154.50 Z" fill="#fdd9a0"/>
<path d="M391.30,158.80 L393.70,161.20 L391.30,163.60 L388.90,161.20 Z" fill="#fdd9a0"/>
<path d="M391.30,165.40 L393.70,167.80 L391.30,170.20 L388.90,167.80 Z" fill="#fdd9a0"/>
<path d="M402.90,152.10 L405.30,154.50 L402.90,156.90 L400.50,154.50 Z" fill="#fdd9a0"/>
<path d="M402.90,158.80 L405.30,161.20 L402.90,163.60 L400.50,161.20 Z" fill="#fdd9a0"/>
<path d="M402.90,165.40 L405.30,167.80 L402.90,170.20 L400.50,167.80 Z" fill="#fdd9a0"/>
<path d="M414.50,152.10 L416.90,154.50 L414.50,156.90 L412.10,154.50 Z" fill="#fdd9a0"/>
<path d="M414.50,158.80 L416.90,161.20 L414.50,163.60 L412.10,161.20 Z" fill="#fdd9a0"/>
<path d="M414.50,165.40 L416.90,167.80 L414.50,170.20 L412.10,167.80 Z" fill="#fdd9a0"/>
<path d="M426.10,152.10 L428.50,154.50 L426.10,156.90 L423.70,154.50 Z" fill="#fdd9a0"/>
<path d="M426.10,158.80 L428.50,161.20 L426.10,163.60 L423.70,161.20 Z" fill="#fdd9a0"/>
<path d="M426.10,165.40 L428.50,167.80 L426.10,170.20 L423.70,167.80 Z" fill="#fdd9a0"/>
<text x="0" y="0" font-size="5.5" fill="#222" stroke="#222" stroke-width="0.14" text-anchor="end" font-family='"Liberation Sans", sans-serif' transform="translate(33.60,254.8) rotate(-90)">Lachnospiraceae_FCS020_group</text>
<text x="0" y="0" font-size="5.5" fill="#222" stroke="#222" stroke-width="0.14" text-anchor="end" font-family='"Liberation Sans", sans-serif' transform="translate(45.20,254.8) rotate(-90)">unidentified_Ruminococcaceae</text>
<text x="0" y="0" font-size="5.5" fill="#222" stroke="#222" stroke-width="0.14" text-anchor="end" font-family='"Liberation Sans", sans-serif' transform="translate(56.80,254.8) rotate(-90)">Enterorhabdus</text>
<text x="0" y="0" font-size="5.5" fill="#222" stroke="#222" stroke-width="0.14" text-anchor="end" font-family='"Liberation Sans", sans-serif' transform="translate(68.40,254.8) rotate(-90)">GCA-900066575</text>
<text x="0" y="0" font-size="5.5" fill="#222" stroke="#222" stroke-width="0.14" text-anchor="end" font-family='"Liberation Sans", sans-serif' transform="translate(80.00,254.8) rotate(-90)">Intestinimonas</text>
<text x="0" y="0" font-size="5.5" fill="#222" stroke="#222" stroke-width="0.14" text-anchor="end" font-family='"Liberation Sans", sans-serif' transform="translate(91.60,254.8) rotate(-90)">Bilophila</text>
<text x="0" y="0" font-size="5.5" fill="#222" stroke="#222" stroke-width="0.14" text-anchor="end" font-family='"Liberation Sans", sans-serif' transform="translate(103.20,254.8) rotate(-90)">Dubosiella</text>
<text x="0" y="0" font-size="5.5" fill="#222" stroke="#222" stroke-width="0.14" text-anchor="end" font-family='"Liberation Sans", sans-serif' transform="translate(114.80,254.8) rotate(-90)">Lactobacillus</text>
<text x="0" y="0" font-size="5.5" fill="#222" stroke="#222" stroke-width="0.14" text-anchor="end" font-family='"Liberation Sans", sans-serif' transform="translate(126.40,254.8) rotate(-90)">Marvinbryantia</text>
<text x="0" y="0" font-size="5.5" fill="#222" stroke="#222" stroke-width="0.14" text-anchor="end" font-family='"Liberation Sans", sans-serif' transform="translate(138.00,254.8) rotate(-90)">NK4A214_group</text>
<text x="0" y="0" font-size="5.5" fill="#222" stroke="#222" stroke-width="0.14" text-anchor="end" font-family='"Liberation Sans", sans-serif' transform="translate(149.60,254.8) rotate(-90)">Colidextribacter</text>
<text x="0" y="0" font-size="5.5" fill="#222" stroke="#222" stroke-width="0.14" text-anchor="end" font-family='"Liberation Sans", sans-serif' transform="translate(161.20,254.8) rotate(-90)">Oscillibacter</text>
<text x="0" y="0" font-size="5.5" fill="#222" stroke="#222" stroke-width="0.14" text-anchor="end" font-family='"Liberation Sans", sans-serif' transform="translate(172.80,254.8) rotate(-90)">Prevotellaceae_UCG-001</text>
<text x="0" y="0" font-size="5.5" fill="#222" stroke="#222" stroke-width="0.14" text-anchor="end" font-family='"Liberation Sans", sans-serif' transform="translate(184.40,254.8) rotate(-90)">Lachnospiraceae_NK4A136_group</text>
<text x="0" y="0" font-size="5.5" fill="#222" stroke="#222" stroke-width="0.14" text-anchor="end" font-family='"Liberation Sans", sans-serif' transform="translate(196.00,254.8) rotate(-90)">[Eubacterium]_xylanophilum_group</text>
<text x="0" y="0" font-size="5.5" fill="#222" stroke="#222" stroke-width="0.14" text-anchor="end" font-family='"Liberation Sans", sans-serif' transform="translate(207.60,254.8) rotate(-90)">[Eubacterium]_siraeum_group</text>
<text x="0" y="0" font-size="5.5" fill="#222" stroke="#222" stroke-width="0.14" text-anchor="end" font-family='"Liberation Sans", sans-serif' transform="translate(219.20,254.8) rotate(-90)">Ruminococcus</text>
<text x="0" y="0" font-size="5.5" fill="#222" stroke="#222" stroke-width="0.14" text-anchor="end" font-family='"Liberation Sans", sans-serif' transform="translate(230.80,254.8) rotate(-90)">Alistipes</text>
<text x="0" y="0" font-size="5.5" fill="#222" stroke="#222" stroke-width="0.14" text-anchor="end" font-family='"Liberation Sans", sans-serif' transform="translate(242.40,254.8) rotate(-90)">Anaerostipes</text>
<text x="0" y="0" font-size="5.5" fill="#222" stroke="#222" stroke-width="0.14" text-anchor="end" font-family='"Liberation Sans", sans-serif' transform="translate(254.00,254.8) rotate(-90)">Blautia</text>
<text x="0" y="0" font-size="5.5" fill="#222" stroke="#222" stroke-width="0.14" text-anchor="end" font-family='"Liberation Sans", sans-serif' transform="translate(265.60,254.8) rotate(-90)">Desulfovibrio</text>
<text x="0" y="0" font-size="5.5" fill="#222" stroke="#222" stroke-width="0.14" text-anchor="end" font-family='"Liberation Sans", sans-serif' transform="translate(277.20,254.8) rotate(-90)">Roseburia</text>
<text x="0" y="0" font-size="5.5" fill="#222" stroke="#222" stroke-width="0.14" text-anchor="end" font-family='"Liberation Sans", sans-serif' transform="translate(288.80,254.8) rotate(-90)">unidentified_Lachnospiraceae</text>
<text x="0" y="0" font-size="5.5" fill="#222" stroke="#222" stroke-width="0.14" text-anchor="end" font-family='"Liberation Sans", sans-serif' transform="translate(300.40,254.8) rotate(-90)">Lachnospiraceae_UCG-006</text>
<text x="0" y="0" font-size="5.5" fill="#222" stroke="#222" stroke-width="0.14" text-anchor="end" font-family='"Liberation Sans", sans-serif' transform="translate(312.00,254.8) rotate(-90)">Lachnoclostridium</text>
<text x="0" y="0" font-size="5.5" fill="#222" stroke="#222" stroke-width="0.14" text-anchor="end" font-family='"Liberation Sans", sans-serif' transform="translate(323.60,254.8) rotate(-90)">Erysipelatoclostridium</text>
<text x="0" y="0" font-size="5.5" fill="#222" stroke="#222" stroke-width="0.14" text-anchor="end" font-family='"Liberation Sans", sans-serif' transform="translate(335.20,254.8) rotate(-90)">Anaerotruncus</text>
<text x="0" y="0" font-size="5.5" fill="#222" stroke="#222" stroke-width="0.14" text-anchor="end" font-family='"Liberation Sans", sans-serif' transform="translate(346.80,254.8) rotate(-90)">Parasutterella</text>
<text x="0" y="0" font-size="5.5" fill="#222" stroke="#222" stroke-width="0.14" text-anchor="end" font-family='"Liberation Sans", sans-serif' transform="translate(358.40,254.8) rotate(-90)">Butyricicoccus</text>
<text x="0" y="0" font-size="5.5" fill="#222" stroke="#222" stroke-width="0.14" text-anchor="end" font-family='"Liberation Sans", sans-serif' transform="translate(370.00,254.8) rotate(-90)">Muribaculum</text>
<text x="0" y="0" font-size="5.5" fill="#222" stroke="#222" stroke-width="0.14" text-anchor="end" font-family='"Liberation Sans", sans-serif' transform="translate(381.60,254.8) rotate(-90)">Akkermansia</text>
<text x="0" y="0" font-size="5.5" fill="#222" stroke="#222" stroke-width="0.14" text-anchor="end" font-family='"Liberation Sans", sans-serif' transform="translate(393.20,254.8) rotate(-90)">Candidatus_Stoquefichus</text>
<text x="0" y="0" font-size="5.5" fill="#222" stroke="#222" stroke-width="0.14" text-anchor="end" font-family='"Liberation Sans", sans-serif' transform="translate(404.80,254.8) rotate(-90)">Helicobacter</text>
<text x="0" y="0" font-size="5.5" fill="#222" stroke="#222" stroke-width="0.14" text-anchor="end" font-family='"Liberation Sans", sans-serif' transform="translate(416.40,254.8) rotate(-90)">A2</text>
<text x="0" y="0" font-size="5.5" fill="#222" stroke="#222" stroke-width="0.14" text-anchor="end" font-family='"Liberation Sans", sans-serif' transform="translate(428.00,254.8) rotate(-90)">Bacteroides</text>
<path d="M31.70,151.80 V148.50 H43.30 V151.80" fill="none" stroke="#444" stroke-width="0.55"/>
<path d="M37.50,148.50 V146.80 H54.90 V151.80" fill="none" stroke="#444" stroke-width="0.55"/>
<path d="M66.50,151.80 V148.50 H78.10 V151.80" fill="none" stroke="#444" stroke-width="0.55"/>
<path d="M89.70,151.80 V147.50 H101.30 V151.80" fill="none" stroke="#444" stroke-width="0.55"/>
<path d="M72.30,148.50 V145.60 H95.50 V147.50" fill="none" stroke="#444" stroke-width="0.55"/>
<path d="M46.20,146.80 V144.60 H83.90 V145.60" fill="none" stroke="#444" stroke-width="0.55"/>
<path d="M112.90,151.80 V148.20 H124.50 V151.80" fill="none" stroke="#444" stroke-width="0.55"/>
<path d="M136.10,151.80 V148.40 H147.70 V151.80" fill="none" stroke="#444" stroke-width="0.55"/>
<path d="M141.90,148.40 V147.30 H159.30 V151.80" fill="none" stroke="#444" stroke-width="0.55"/>
<path d="M118.70,148.20 V145.00 H150.60 V147.30" fill="none" stroke="#444" stroke-width="0.55"/>
<path d="M65.05,144.60 V143.00 H134.65 V145.00" fill="none" stroke="#444" stroke-width="0.55"/>
<path d="M182.50,151.80 V147.80 H194.10 V151.80" fill="none" stroke="#444" stroke-width="0.55"/>
<path d="M205.70,151.80 V148.30 H217.30 V151.80" fill="none" stroke="#444" stroke-width="0.55"/>
<path d="M211.50,148.30 V146.50 H228.90 V151.80" fill="none" stroke="#444" stroke-width="0.55"/>
<path d="M188.30,147.80 V145.00 H220.20 V146.50" fill="none" stroke="#444" stroke-width="0.55"/>
<path d="M204.25,145.00 V142.60 H240.50 V151.80" fill="none" stroke="#444" stroke-width="0.55"/>
<path d="M252.10,151.80 V146.20 H263.70 V151.80" fill="none" stroke="#444" stroke-width="0.55"/>
<path d="M222.38,142.60 V141.60 H257.90 V146.20" fill="none" stroke="#444" stroke-width="0.55"/>
<path d="M286.90,151.80 V148.50 H298.50 V151.80" fill="none" stroke="#444" stroke-width="0.55"/>
<path d="M292.70,148.50 V147.80 H310.10 V151.80" fill="none" stroke="#444" stroke-width="0.55"/>
<path d="M275.30,151.80 V145.50 H301.40 V147.80" fill="none" stroke="#444" stroke-width="0.55"/>
<path d="M321.70,151.80 V148.30 H333.30 V151.80" fill="none" stroke="#444" stroke-width="0.55"/>
<path d="M327.50,148.30 V146.20 H344.90 V151.80" fill="none" stroke="#444" stroke-width="0.55"/>
<path d="M336.20,146.20 V144.00 H356.50 V151.80" fill="none" stroke="#444" stroke-width="0.55"/>
<path d="M288.35,145.50 V142.20 H346.35 V144.00" fill="none" stroke="#444" stroke-width="0.55"/>
<path d="M368.10,151.80 V149.30 H379.70 V151.80" fill="none" stroke="#444" stroke-width="0.55"/>
<path d="M391.30,151.80 V148.50 H402.90 V151.80" fill="none" stroke="#444" stroke-width="0.55"/>
<path d="M373.90,149.30 V146.20 H397.10 V148.50" fill="none" stroke="#444" stroke-width="0.55"/>
<path d="M385.50,146.20 V144.70 H414.50 V151.80" fill="none" stroke="#444" stroke-width="0.55"/>
<path d="M400.00,144.70 V142.60 H426.10 V151.80" fill="none" stroke="#444" stroke-width="0.55"/>
<path d="M317.35,142.20 V141.20 H413.05 V142.60" fill="none" stroke="#444" stroke-width="0.55"/>
<path d="M240.14,141.60 V140.40 H365.20 V141.20" fill="none" stroke="#444" stroke-width="0.55"/>
<path d="M170.90,151.80 V139.40 H302.67 V140.40" fill="none" stroke="#444" stroke-width="0.55"/>
<path d="M99.85,143.00 V137.80 H236.78 V139.40" fill="none" stroke="#444" stroke-width="0.55"/>
<line x1="14.5" y1="179.51" x2="24.5" y2="179.51" stroke="#444" stroke-width="0.55"/>
<line x1="14.5" y1="192.53" x2="24.5" y2="192.53" stroke="#444" stroke-width="0.55"/>
<line x1="14.5" y1="179.51" x2="14.5" y2="192.53" stroke="#444" stroke-width="0.55"/>
<line x1="18.3" y1="231.59" x2="24.5" y2="231.59" stroke="#444" stroke-width="0.55"/>
<line x1="18.3" y1="244.61" x2="24.5" y2="244.61" stroke="#444" stroke-width="0.55"/>
<line x1="18.3" y1="231.59" x2="18.3" y2="244.61" stroke="#444" stroke-width="0.55"/>
<line x1="15.7" y1="218.57" x2="24.5" y2="218.57" stroke="#444" stroke-width="0.55"/>
<line x1="15.7" y1="238.10" x2="18.3" y2="238.10" stroke="#444" stroke-width="0.55"/>
<line x1="15.7" y1="218.57" x2="15.7" y2="238.10" stroke="#444" stroke-width="0.55"/>
<line x1="15.0" y1="205.55" x2="24.5" y2="205.55" stroke="#444" stroke-width="0.55"/>
<line x1="15.0" y1="228.34" x2="15.7" y2="228.34" stroke="#444" stroke-width="0.55"/>
<line x1="15.0" y1="205.55" x2="15.0" y2="228.34" stroke="#444" stroke-width="0.55"/>
<line x1="12.7" y1="186.02" x2="14.5" y2="186.02" stroke="#444" stroke-width="0.55"/>
<line x1="12.7" y1="216.94" x2="15.0" y2="216.94" stroke="#444" stroke-width="0.55"/>
<line x1="12.7" y1="186.02" x2="12.7" y2="216.94" stroke="#444" stroke-width="0.55"/>
<defs><linearGradient id="zs" x1="0" y1="0" x2="0" y2="1"><stop offset="0" stop-color="#e8141c"/><stop offset="0.2" stop-color="#ee3c40"/><stop offset="0.4" stop-color="#f6a0a0"/><stop offset="0.6" stop-color="#ffffff"/><stop offset="0.8" stop-color="#6a6ab8"/><stop offset="1" stop-color="#000080"/></linearGradient></defs>
<rect x="449.1" y="221.8" width="5.6" height="31.5" fill="url(#zs)"/>
<text x="449.00" y="220.60" font-size="5.0" fill="#111" stroke="#111" stroke-width="0.14" text-anchor="start" font-family='"Liberation Sans", sans-serif' font-weight="bold" >Z score</text>
<text x="455.80" y="224.80" font-size="4.6" fill="#222" stroke="#222" stroke-width="0.14" text-anchor="start" font-family='"Liberation Sans", sans-serif' font-weight="normal" >3</text>
<text x="455.80" y="230.45" font-size="4.6" fill="#222" stroke="#222" stroke-width="0.14" text-anchor="start" font-family='"Liberation Sans", sans-serif' font-weight="normal" >2</text>
<text x="455.80" y="236.10" font-size="4.6" fill="#222" stroke="#222" stroke-width="0.14" text-anchor="start" font-family='"Liberation Sans", sans-serif' font-weight="normal" >1</text>
<text x="455.80" y="241.75" font-size="4.6" fill="#222" stroke="#222" stroke-width="0.14" text-anchor="start" font-family='"Liberation Sans", sans-serif' font-weight="normal" >0</text>
<text x="455.80" y="247.40" font-size="4.6" fill="#222" stroke="#222" stroke-width="0.14" text-anchor="start" font-family='"Liberation Sans", sans-serif' font-weight="normal" >−1</text>
<text x="455.80" y="253.05" font-size="4.6" fill="#222" stroke="#222" stroke-width="0.14" text-anchor="start" font-family='"Liberation Sans", sans-serif' font-weight="normal" >−2</text>
<path d="M471.80,217.00 L473.80,219.00 L471.80,221.00 L469.80,219.00 Z" fill="#a00a0a"/>
<text x="477.00" y="221.10" font-size="5.9" fill="#222" stroke="#222" stroke-width="0.14" text-anchor="start" font-family='"Liberation Sans", sans-serif' font-weight="normal" >P value &lt;0.01</text>
<path d="M471.80,229.80 L473.80,231.80 L471.80,233.80 L469.80,231.80 Z" fill="#f25232"/>
<text x="477.00" y="233.90" font-size="5.9" fill="#222" stroke="#222" stroke-width="0.14" text-anchor="start" font-family='"Liberation Sans", sans-serif' font-weight="normal" >P value &lt;0.05</text>
<path d="M471.80,242.20 L473.80,244.20 L471.80,246.20 L469.80,244.20 Z" fill="#fdd9a0"/>
<text x="477.00" y="246.30" font-size="5.9" fill="#222" stroke="#222" stroke-width="0.14" text-anchor="start" font-family='"Liberation Sans", sans-serif' font-weight="normal" >P value &gt;0.05</text>
<rect x="102" y="372.4" width="10.5" height="4" fill="#ff0000" stroke="#222" stroke-width="0.4"/>
<text x="116.00" y="376.30" font-size="5.4" fill="#222" stroke="#222" stroke-width="0.14" text-anchor="start" font-family='"Liberation Sans", sans-serif' font-weight="normal" >HAP</text>
<rect x="136.6" y="372.4" width="10.5" height="4" fill="#0000ff" stroke="#222" stroke-width="0.4"/>
<text x="150.60" y="376.30" font-size="5.4" fill="#222" stroke="#222" stroke-width="0.14" text-anchor="start" font-family='"Liberation Sans", sans-serif' font-weight="normal" >LAP</text>
<rect x="170" y="372.4" width="10.5" height="4" fill="#ffa500" stroke="#222" stroke-width="0.4"/>
<text x="184.00" y="376.30" font-size="5.4" fill="#222" stroke="#222" stroke-width="0.14" text-anchor="start" font-family='"Liberation Sans", sans-serif' font-weight="normal" >MAP</text>
<rect x="204" y="372.4" width="10.5" height="4" fill="#990099" stroke="#222" stroke-width="0.4"/>
<text x="218.00" y="376.30" font-size="5.4" fill="#222" stroke="#222" stroke-width="0.14" text-anchor="start" font-family='"Liberation Sans", sans-serif' font-weight="normal" >NFD</text>
<rect x="238.5" y="372.4" width="10.5" height="4" fill="#00ee00" stroke="#222" stroke-width="0.4"/>
<text x="252.50" y="376.30" font-size="5.4" fill="#222" stroke="#222" stroke-width="0.14" text-anchor="start" font-family='"Liberation Sans", sans-serif' font-weight="normal" >Simv</text>
<rect x="102" y="380.2" width="10.5" height="4" fill="#007700" stroke="#222" stroke-width="0.4"/>
<text x="116.00" y="384.10" font-size="5.4" fill="#222" stroke="#222" stroke-width="0.14" text-anchor="start" font-family='"Liberation Sans", sans-serif' font-weight="normal" >HFD</text>
<rect x="100.4" y="393.70" width="133.29" height="6.76" fill="#999"/>
<rect x="100.4" y="400.46" width="132.80" height="6.76" fill="#999"/>
<rect x="100.4" y="407.22" width="132.29" height="6.76" fill="#999"/>
<rect x="100.4" y="413.98" width="131.99" height="6.76" fill="#999"/>
<rect x="100.4" y="420.74" width="131.81" height="6.76" fill="#999"/>
<rect x="100.4" y="427.50" width="131.61" height="6.76" fill="#999"/>
<rect x="100.4" y="434.26" width="119.39" height="6.76" fill="#999"/>
<rect x="100.4" y="441.02" width="119.01" height="6.76" fill="#999"/>
<rect x="100.4" y="447.78" width="112.30" height="6.76" fill="#999"/>
<rect x="100.4" y="454.54" width="126.40" height="6.76" fill="#999"/>
<rect x="100.4" y="461.30" width="124.90" height="6.76" fill="#999"/>
<rect x="100.4" y="468.06" width="124.39" height="6.76" fill="#999"/>
<rect x="100.4" y="474.82" width="124.47" height="6.76" fill="#999"/>
<rect x="100.4" y="481.58" width="103.30" height="6.76" fill="#999"/>
<rect x="100.4" y="488.34" width="115.49" height="6.76" fill="#999"/>
<rect x="100.4" y="495.10" width="112.40" height="6.76" fill="#999"/>
<rect x="100.4" y="501.86" width="111.21" height="6.76" fill="#999"/>
<rect x="100.4" y="508.62" width="110.80" height="6.76" fill="#999"/>
<rect x="100.4" y="515.38" width="110.39" height="6.76" fill="#999"/>
<rect x="100.4" y="522.14" width="106.41" height="6.76" fill="#999"/>
<rect x="100.4" y="528.90" width="127.40" height="6.76" fill="#999"/>
<rect x="100.4" y="535.66" width="124.90" height="6.76" fill="#999"/>
<rect x="100.4" y="394.30" width="133.29" height="5.46" fill="#00ee00" stroke="#222" stroke-width="0.35"/>
<text x="0" y="0" font-size="15.40" fill="#333" stroke="#333" stroke-width="0.80" text-anchor="end" font-family='"Liberation Sans", sans-serif' transform="translate(97.20,399.40) scale(0.25)">s__Akkermansia_muciniphila</text>
<rect x="100.4" y="401.06" width="132.80" height="5.46" fill="#00ee00" stroke="#222" stroke-width="0.35"/>
<text x="0" y="0" font-size="15.40" fill="#333" stroke="#333" stroke-width="0.80" text-anchor="end" font-family='"Liberation Sans", sans-serif' transform="translate(97.20,406.16) scale(0.25)">g__Akkermansia</text>
<rect x="100.4" y="407.82" width="132.29" height="5.46" fill="#00ee00" stroke="#222" stroke-width="0.35"/>
<text x="0" y="0" font-size="15.40" fill="#333" stroke="#333" stroke-width="0.80" text-anchor="end" font-family='"Liberation Sans", sans-serif' transform="translate(97.20,412.92) scale(0.25)">c__Verrucomicrobiae</text>
<rect x="100.4" y="414.58" width="131.99" height="5.46" fill="#00ee00" stroke="#222" stroke-width="0.35"/>
<text x="0" y="0" font-size="15.40" fill="#333" stroke="#333" stroke-width="0.80" text-anchor="end" font-family='"Liberation Sans", sans-serif' transform="translate(97.20,419.68) scale(0.25)">o__Verrucomicrobiales</text>
<rect x="100.4" y="421.34" width="131.81" height="5.46" fill="#00ee00" stroke="#222" stroke-width="0.35"/>
<text x="0" y="0" font-size="15.40" fill="#333" stroke="#333" stroke-width="0.80" text-anchor="end" font-family='"Liberation Sans", sans-serif' transform="translate(97.20,426.44) scale(0.25)">f__Akkermansiaceae</text>
<rect x="100.4" y="428.10" width="131.61" height="5.46" fill="#00ee00" stroke="#222" stroke-width="0.35"/>
<text x="0" y="0" font-size="15.40" fill="#333" stroke="#333" stroke-width="0.80" text-anchor="end" font-family='"Liberation Sans", sans-serif' transform="translate(97.20,433.20) scale(0.25)">p__Verrucomicrobiota</text>
<rect x="100.4" y="434.86" width="119.39" height="5.46" fill="#990099" stroke="#222" stroke-width="0.35"/>
<text x="0" y="0" font-size="15.40" fill="#333" stroke="#333" stroke-width="0.80" text-anchor="end" font-family='"Liberation Sans", sans-serif' transform="translate(97.20,439.96) scale(0.25)">f__Lachnospiraceae</text>
<rect x="100.4" y="441.62" width="119.01" height="5.46" fill="#990099" stroke="#222" stroke-width="0.35"/>
<text x="0" y="0" font-size="15.40" fill="#333" stroke="#333" stroke-width="0.80" text-anchor="end" font-family='"Liberation Sans", sans-serif' transform="translate(97.20,446.72) scale(0.25)">o__Lachnospirales</text>
<rect x="100.4" y="448.38" width="112.30" height="5.46" fill="#990099" stroke="#222" stroke-width="0.35"/>
<text x="0" y="0" font-size="15.40" fill="#333" stroke="#333" stroke-width="0.80" text-anchor="end" font-family='"Liberation Sans", sans-serif' transform="translate(97.20,453.48) scale(0.25)">g__Lachnospiraceae_NK4A136_group</text>
<rect x="100.4" y="455.14" width="126.40" height="5.46" fill="#ffa500" stroke="#222" stroke-width="0.35"/>
<text x="0" y="0" font-size="15.40" fill="#333" stroke="#333" stroke-width="0.80" text-anchor="end" font-family='"Liberation Sans", sans-serif' transform="translate(97.20,460.24) scale(0.25)">p__unidentified_Bacteria</text>
<rect x="100.4" y="461.90" width="124.90" height="5.46" fill="#ffa500" stroke="#222" stroke-width="0.35"/>
<text x="0" y="0" font-size="15.40" fill="#333" stroke="#333" stroke-width="0.80" text-anchor="end" font-family='"Liberation Sans", sans-serif' transform="translate(97.20,467.00) scale(0.25)">f__Desulfovibrionaceae</text>
<rect x="100.4" y="468.66" width="124.39" height="5.46" fill="#ffa500" stroke="#222" stroke-width="0.35"/>
<text x="0" y="0" font-size="15.40" fill="#333" stroke="#333" stroke-width="0.80" text-anchor="end" font-family='"Liberation Sans", sans-serif' transform="translate(97.20,473.76) scale(0.25)">c__Desulfovibrionia</text>
<rect x="100.4" y="475.42" width="124.47" height="5.46" fill="#ffa500" stroke="#222" stroke-width="0.35"/>
<text x="0" y="0" font-size="15.40" fill="#333" stroke="#333" stroke-width="0.80" text-anchor="end" font-family='"Liberation Sans", sans-serif' transform="translate(97.20,480.52) scale(0.25)">o__Desulfovibrionales</text>
<rect x="100.4" y="482.18" width="103.30" height="5.46" fill="#0000ff" stroke="#222" stroke-width="0.35"/>
<text x="0" y="0" font-size="15.40" fill="#333" stroke="#333" stroke-width="0.80" text-anchor="end" font-family='"Liberation Sans", sans-serif' transform="translate(97.20,487.28) scale(0.25)">o__Erysipelotrichales</text>
<rect x="100.4" y="488.94" width="115.49" height="5.46" fill="#007700" stroke="#222" stroke-width="0.35"/>
<text x="0" y="0" font-size="15.40" fill="#333" stroke="#333" stroke-width="0.80" text-anchor="end" font-family='"Liberation Sans", sans-serif' transform="translate(97.20,494.04) scale(0.25)">f__Oscillospiraceae</text>
<rect x="100.4" y="495.70" width="112.40" height="5.46" fill="#007700" stroke="#222" stroke-width="0.35"/>
<text x="0" y="0" font-size="15.40" fill="#333" stroke="#333" stroke-width="0.80" text-anchor="end" font-family='"Liberation Sans", sans-serif' transform="translate(97.20,500.80) scale(0.25)">c__Clostridia</text>
<rect x="100.4" y="502.46" width="111.21" height="5.46" fill="#007700" stroke="#222" stroke-width="0.35"/>
<text x="0" y="0" font-size="15.40" fill="#333" stroke="#333" stroke-width="0.80" text-anchor="end" font-family='"Liberation Sans", sans-serif' transform="translate(97.20,507.56) scale(0.25)">c__Bacilli</text>
<rect x="100.4" y="509.22" width="110.80" height="5.46" fill="#007700" stroke="#222" stroke-width="0.35"/>
<text x="0" y="0" font-size="15.40" fill="#333" stroke="#333" stroke-width="0.80" text-anchor="end" font-family='"Liberation Sans", sans-serif' transform="translate(97.20,514.32) scale(0.25)">f__Oscillospiraceae</text>
<rect x="100.4" y="515.98" width="110.39" height="5.46" fill="#007700" stroke="#222" stroke-width="0.35"/>
<text x="0" y="0" font-size="15.40" fill="#333" stroke="#333" stroke-width="0.80" text-anchor="end" font-family='"Liberation Sans", sans-serif' transform="translate(97.20,521.08) scale(0.25)">o__Oscillospirales</text>
<rect x="100.4" y="522.74" width="106.41" height="5.46" fill="#007700" stroke="#222" stroke-width="0.35"/>
<text x="0" y="0" font-size="15.40" fill="#333" stroke="#333" stroke-width="0.80" text-anchor="end" font-family='"Liberation Sans", sans-serif' transform="translate(97.20,527.84) scale(0.25)">g__Colidextribacter</text>
<rect x="100.4" y="529.50" width="127.40" height="5.46" fill="#ff0000" stroke="#222" stroke-width="0.35"/>
<text x="0" y="0" font-size="15.40" fill="#333" stroke="#333" stroke-width="0.80" text-anchor="end" font-family='"Liberation Sans", sans-serif' transform="translate(97.20,534.60) scale(0.25)">o__Oscillospirales</text>
<rect x="100.4" y="536.26" width="124.90" height="5.46" fill="#ff0000" stroke="#222" stroke-width="0.35"/>
<text x="0" y="0" font-size="15.40" fill="#333" stroke="#333" stroke-width="0.80" text-anchor="end" font-family='"Liberation Sans", sans-serif' transform="translate(97.20,541.36) scale(0.25)">g__Eubacterium__coprostanoligenes_group</text>
<line x1="125.90" y1="388" x2="125.90" y2="542.5" stroke="#777" stroke-width="0.5" stroke-dasharray="1,1"/>
<line x1="151.40" y1="388" x2="151.40" y2="542.5" stroke="#777" stroke-width="0.5" stroke-dasharray="1,1"/>
<line x1="176.90" y1="388" x2="176.90" y2="542.5" stroke="#777" stroke-width="0.5" stroke-dasharray="1,1"/>
<line x1="202.40" y1="388" x2="202.40" y2="542.5" stroke="#777" stroke-width="0.5" stroke-dasharray="1,1"/>
<line x1="227.90" y1="388" x2="227.90" y2="542.5" stroke="#777" stroke-width="0.5" stroke-dasharray="1,1"/>
<line x1="253.40" y1="388" x2="253.40" y2="542.5" stroke="#777" stroke-width="0.5" stroke-dasharray="1,1"/>
<line x1="100.4" y1="542.9" x2="254.40" y2="542.9" stroke="#222" stroke-width="0.7"/>
<line x1="100.40" y1="542.9" x2="100.40" y2="545" stroke="#222" stroke-width="0.6"/>
<text x="100.40" y="553.40" font-size="7.0" fill="#222" stroke="#222" stroke-width="0.14" text-anchor="middle" font-family='"Liberation Sans", sans-serif' font-weight="normal" >0</text>
<line x1="125.90" y1="542.9" x2="125.90" y2="545" stroke="#222" stroke-width="0.6"/>
<text x="125.90" y="553.40" font-size="7.0" fill="#222" stroke="#222" stroke-width="0.14" text-anchor="middle" font-family='"Liberation Sans", sans-serif' font-weight="normal" >1</text>
<line x1="151.40" y1="542.9" x2="151.40" y2="545" stroke="#222" stroke-width="0.6"/>
<text x="151.40" y="553.40" font-size="7.0" fill="#222" stroke="#222" stroke-width="0.14" text-anchor="middle" font-family='"Liberation Sans", sans-serif' font-weight="normal" >2</text>
<line x1="176.90" y1="542.9" x2="176.90" y2="545" stroke="#222" stroke-width="0.6"/>
<text x="176.90" y="553.40" font-size="7.0" fill="#222" stroke="#222" stroke-width="0.14" text-anchor="middle" font-family='"Liberation Sans", sans-serif' font-weight="normal" >3</text>
<line x1="202.40" y1="542.9" x2="202.40" y2="545" stroke="#222" stroke-width="0.6"/>
<text x="202.40" y="553.40" font-size="7.0" fill="#222" stroke="#222" stroke-width="0.14" text-anchor="middle" font-family='"Liberation Sans", sans-serif' font-weight="normal" >4</text>
<line x1="227.90" y1="542.9" x2="227.90" y2="545" stroke="#222" stroke-width="0.6"/>
<text x="227.90" y="553.40" font-size="7.0" fill="#222" stroke="#222" stroke-width="0.14" text-anchor="middle" font-family='"Liberation Sans", sans-serif' font-weight="normal" >5</text>
<line x1="253.40" y1="542.9" x2="253.40" y2="545" stroke="#222" stroke-width="0.6"/>
<text x="253.40" y="553.40" font-size="7.0" fill="#222" stroke="#222" stroke-width="0.14" text-anchor="middle" font-family='"Liberation Sans", sans-serif' font-weight="normal" >6</text>
<text x="177.00" y="562.60" font-size="6.4" fill="#222" stroke="#222" stroke-width="0.14" text-anchor="middle" font-family='"Liberation Sans", sans-serif' font-weight="normal" >LDA SCORE (log 10)</text>
<text x="377.00" y="372.30" font-size="7.8" fill="#222" stroke="#222" stroke-width="0.14" text-anchor="middle" font-family='"Liberation Sans", sans-serif' font-weight="normal" >Cladogram</text>
<rect x="295" y="387.90" width="10" height="3.8" fill="#ff0000" stroke="#222" stroke-width="0.4"/>
<text x="309.00" y="391.80" font-size="5.6" fill="#222" stroke="#222" stroke-width="0.14" text-anchor="start" font-family='"Liberation Sans", sans-serif' font-weight="normal" >HAP</text>
<rect x="295" y="395.26" width="10" height="3.8" fill="#007700" stroke="#222" stroke-width="0.4"/>
<text x="309.00" y="399.16" font-size="5.6" fill="#222" stroke="#222" stroke-width="0.14" text-anchor="start" font-family='"Liberation Sans", sans-serif' font-weight="normal" >HFD</text>
<rect x="295" y="402.62" width="10" height="3.8" fill="#0000ff" stroke="#222" stroke-width="0.4"/>
<text x="309.00" y="406.52" font-size="5.6" fill="#222" stroke="#222" stroke-width="0.14" text-anchor="start" font-family='"Liberation Sans", sans-serif' font-weight="normal" >LAP</text>
<rect x="295" y="409.98" width="10" height="3.8" fill="#ffa500" stroke="#222" stroke-width="0.4"/>
<text x="309.00" y="413.88" font-size="5.6" fill="#222" stroke="#222" stroke-width="0.14" text-anchor="start" font-family='"Liberation Sans", sans-serif' font-weight="normal" >MAP</text>
<rect x="295" y="417.34" width="10" height="3.8" fill="#990099" stroke="#222" stroke-width="0.4"/>
<text x="309.00" y="421.24" font-size="5.6" fill="#222" stroke="#222" stroke-width="0.14" text-anchor="start" font-family='"Liberation Sans", sans-serif' font-weight="normal" >NFD</text>
<rect x="295" y="424.70" width="10" height="3.8" fill="#00ee00" stroke="#222" stroke-width="0.4"/>
<text x="309.00" y="428.60" font-size="5.6" fill="#222" stroke="#222" stroke-width="0.14" text-anchor="start" font-family='"Liberation Sans", sans-serif' font-weight="normal" >Simv</text>
<rect x="472.8" y="384.40" width="6.5" height="2.6" fill="#0000ff" stroke="#222" stroke-width="0.3"/>
<text x="0" y="0" font-size="13.60" fill="#3a3a3a" stroke="#3a3a3a" stroke-width="0.60" text-anchor="start" font-family='"Liberation Sans", sans-serif' transform="translate(481.30,387.00) scale(0.25)">a: o__Erysipelotrichales</text>
<rect x="472.8" y="388.87" width="6.5" height="2.6" fill="#007700" stroke="#222" stroke-width="0.3"/>
<text x="0" y="0" font-size="13.60" fill="#3a3a3a" stroke="#3a3a3a" stroke-width="0.60" text-anchor="start" font-family='"Liberation Sans", sans-serif' transform="translate(481.30,391.47) scale(0.25)">b: c__Bacilli</text>
<rect x="472.8" y="393.34" width="6.5" height="2.6" fill="#990099" stroke="#222" stroke-width="0.3"/>
<text x="0" y="0" font-size="13.60" fill="#3a3a3a" stroke="#3a3a3a" stroke-width="0.60" text-anchor="start" font-family='"Liberation Sans", sans-serif' transform="translate(481.30,395.94) scale(0.25)">c: f__Lachnospiraceae</text>
<rect x="472.8" y="397.81" width="6.5" height="2.6" fill="#990099" stroke="#222" stroke-width="0.3"/>
<text x="0" y="0" font-size="13.60" fill="#3a3a3a" stroke="#3a3a3a" stroke-width="0.60" text-anchor="start" font-family='"Liberation Sans", sans-serif' transform="translate(481.30,400.41) scale(0.25)">d: o__Lachnospirales</text>
<rect x="472.8" y="402.28" width="6.5" height="2.6" fill="#007700" stroke="#222" stroke-width="0.3"/>
<text x="0" y="0" font-size="13.60" fill="#3a3a3a" stroke="#3a3a3a" stroke-width="0.60" text-anchor="start" font-family='"Liberation Sans", sans-serif' transform="translate(481.30,404.88) scale(0.25)">e: f__Oscillospiraceae</text>
<rect x="472.8" y="406.75" width="6.5" height="2.6" fill="#ff0000" stroke="#222" stroke-width="0.3"/>
<text x="0" y="0" font-size="13.60" fill="#3a3a3a" stroke="#3a3a3a" stroke-width="0.60" text-anchor="start" font-family='"Liberation Sans", sans-serif' transform="translate(481.30,409.35) scale(0.25)">f: f__Eubacterium_coprostanoligenes_group</text>
<rect x="472.8" y="411.22" width="6.5" height="2.6" fill="#ff0000" stroke="#222" stroke-width="0.3"/>
<text x="0" y="0" font-size="13.60" fill="#3a3a3a" stroke="#3a3a3a" stroke-width="0.60" text-anchor="start" font-family='"Liberation Sans", sans-serif' transform="translate(481.30,413.82) scale(0.25)">g: o__Oscillospirales</text>
<rect x="472.8" y="415.69" width="6.5" height="2.6" fill="#00ee00" stroke="#222" stroke-width="0.3"/>
<text x="0" y="0" font-size="13.60" fill="#3a3a3a" stroke="#3a3a3a" stroke-width="0.60" text-anchor="start" font-family='"Liberation Sans", sans-serif' transform="translate(481.30,418.29) scale(0.25)">h: f__Akkermansiaceae</text>
<rect x="472.8" y="420.16" width="6.5" height="2.6" fill="#00ee00" stroke="#222" stroke-width="0.3"/>
<text x="0" y="0" font-size="13.60" fill="#3a3a3a" stroke="#3a3a3a" stroke-width="0.60" text-anchor="start" font-family='"Liberation Sans", sans-serif' transform="translate(481.30,422.76) scale(0.25)">i: o__Verrucomicrobiales</text>
<rect x="472.8" y="424.63" width="6.5" height="2.6" fill="#00ee00" stroke="#222" stroke-width="0.3"/>
<text x="0" y="0" font-size="13.60" fill="#3a3a3a" stroke="#3a3a3a" stroke-width="0.60" text-anchor="start" font-family='"Liberation Sans", sans-serif' transform="translate(481.30,427.23) scale(0.25)">j: c__Verrucomicrobiae</text>
<rect x="472.8" y="429.10" width="6.5" height="2.6" fill="#007700" stroke="#222" stroke-width="0.3"/>
<text x="0" y="0" font-size="13.60" fill="#3a3a3a" stroke="#3a3a3a" stroke-width="0.60" text-anchor="start" font-family='"Liberation Sans", sans-serif' transform="translate(481.30,431.70) scale(0.25)">k: f__Oscillospiraceae</text>
<rect x="472.8" y="433.57" width="6.5" height="2.6" fill="#007700" stroke="#222" stroke-width="0.3"/>
<text x="0" y="0" font-size="13.60" fill="#3a3a3a" stroke="#3a3a3a" stroke-width="0.60" text-anchor="start" font-family='"Liberation Sans", sans-serif' transform="translate(481.30,436.17) scale(0.25)">l: o__Oscillospirales</text>
<rect x="472.8" y="438.04" width="6.5" height="2.6" fill="#007700" stroke="#222" stroke-width="0.3"/>
<text x="0" y="0" font-size="13.60" fill="#3a3a3a" stroke="#3a3a3a" stroke-width="0.60" text-anchor="start" font-family='"Liberation Sans", sans-serif' transform="translate(481.30,440.64) scale(0.25)">m: c__Clostridia</text>
<rect x="472.8" y="442.51" width="6.5" height="2.6" fill="#ffa500" stroke="#222" stroke-width="0.3"/>
<text x="0" y="0" font-size="13.60" fill="#3a3a3a" stroke="#3a3a3a" stroke-width="0.60" text-anchor="start" font-family='"Liberation Sans", sans-serif' transform="translate(481.30,445.11) scale(0.25)">n: f__Desulfovibrionaceae</text>
<rect x="472.8" y="446.98" width="6.5" height="2.6" fill="#ffa500" stroke="#222" stroke-width="0.3"/>
<text x="0" y="0" font-size="13.60" fill="#3a3a3a" stroke="#3a3a3a" stroke-width="0.60" text-anchor="start" font-family='"Liberation Sans", sans-serif' transform="translate(481.30,449.58) scale(0.25)">o: o__Desulfovibrionales</text>
<rect x="472.8" y="451.45" width="6.5" height="2.6" fill="#ffa500" stroke="#222" stroke-width="0.3"/>
<text x="0" y="0" font-size="13.60" fill="#3a3a3a" stroke="#3a3a3a" stroke-width="0.60" text-anchor="start" font-family='"Liberation Sans", sans-serif' transform="translate(481.30,454.05) scale(0.25)">p: c__Desulfovibrionia</text>
<path d="M462.75,472.70 A86,86 0 0 1 439.70,528.35 L389.67,481.70 A17.6,17.6 0 0 0 394.39,470.31 Z" fill="#fde2bd" fill-opacity="1.0"/>
<path d="M453.30,493.09 A80,80 0 0 1 445.37,510.90 L426.52,499.57 A58,58 0 0 0 432.27,486.66 Z" fill="#c8d8a0" fill-opacity="1.0"/>
<path d="M397.74,476.65 L452.99,490.63 L453.78,487.53 L398.52,473.55 Z" fill="#fbbb66" fill-opacity="0.9"/>
<path d="M316.88,416.69 A80,80 0 0 1 366.36,390.38 L373.93,447.89 A22,22 0 0 0 360.32,455.12 Z" fill="#bfe3ca" fill-opacity="1.0"/>
<path d="M342.17,403.17 A75,75 0 0 1 356.76,397.43 L368.52,439.83 A31,31 0 0 0 362.49,442.20 Z" fill="#97b5d5" fill-opacity="1.0"/>
<path d="M305.51,482.91 A72.5,72.5 0 0 1 312.49,436.22 L349.30,455.39 A31,31 0 0 0 346.32,475.35 Z" fill="#eec4ee" fill-opacity="1.0"/>
<path d="M312.60,479.87 A65,65 0 0 1 318.38,441.21 L340.85,452.17 A40,40 0 0 0 337.29,475.96 Z" fill="#dc98dc" fill-opacity="1.0"/>
<path d="M316.95,473.89 A60,60 0 0 1 321.57,446.26 L331.70,450.55 A49,49 0 0 0 327.92,473.12 Z" fill="#cc88cc" fill-opacity="1.0"/>
<path d="M324.47,522.03 A74,74 0 0 1 304.55,485.72 L346.53,476.41 A31,31 0 0 0 354.88,491.62 Z" fill="#f5b8b8" fill-opacity="1.0"/>
<path d="M313.36,499.28 A70,70 0 0 1 308.88,486.63 L320.52,483.73 A58,58 0 0 0 324.23,494.21 Z" fill="#d9b8a0" fill-opacity="1.0"/>
<path d="M418.59,515.59 L436.27,533.27 L440.37,529.17 L422.69,511.49 Z" fill="#84ee94" fill-opacity="0.9"/>
<path d="M386.13,481.58 L420.07,515.52 L422.62,512.97 L388.68,479.03 Z" fill="#22dd44" fill-opacity="0.95"/>
<line x1="373.72" y1="443.18" x2="372.70" y2="434.34" stroke="#404040" stroke-width="0.6"/>
<line x1="375.31" y1="443.04" x2="374.82" y2="434.16" stroke="#404040" stroke-width="0.6"/>
<line x1="376.43" y1="443.00" x2="376.31" y2="434.10" stroke="#404040" stroke-width="0.6"/>
<line x1="377.60" y1="443.01" x2="377.86" y2="434.12" stroke="#404040" stroke-width="0.6"/>
<line x1="379.17" y1="443.11" x2="379.97" y2="434.24" stroke="#404040" stroke-width="0.6"/>
<line x1="380.22" y1="443.22" x2="381.36" y2="434.39" stroke="#404040" stroke-width="0.6"/>
<line x1="381.55" y1="443.43" x2="383.13" y2="434.67" stroke="#404040" stroke-width="0.6"/>
<line x1="383.17" y1="443.77" x2="385.30" y2="435.13" stroke="#404040" stroke-width="0.6"/>
<line x1="384.62" y1="444.17" x2="387.22" y2="435.66" stroke="#404040" stroke-width="0.6"/>
<line x1="385.72" y1="444.54" x2="388.70" y2="436.15" stroke="#404040" stroke-width="0.6"/>
<line x1="386.73" y1="444.91" x2="390.04" y2="436.65" stroke="#404040" stroke-width="0.6"/>
<line x1="387.91" y1="445.42" x2="391.62" y2="437.33" stroke="#404040" stroke-width="0.6"/>
<line x1="389.21" y1="446.06" x2="393.34" y2="438.18" stroke="#404040" stroke-width="0.6"/>
<line x1="390.47" y1="446.76" x2="395.02" y2="439.12" stroke="#404040" stroke-width="0.6"/>
<line x1="372.37" y1="434.38" x2="371.27" y2="425.55" stroke="#404040" stroke-width="0.6"/>
<line x1="373.61" y1="434.24" x2="372.81" y2="425.38" stroke="#404040" stroke-width="0.6"/>
<line x1="375.09" y1="434.14" x2="374.67" y2="425.25" stroke="#404040" stroke-width="0.6"/>
<line x1="376.38" y1="434.10" x2="376.28" y2="425.20" stroke="#404040" stroke-width="0.6"/>
<line x1="377.69" y1="434.11" x2="377.92" y2="425.21" stroke="#404040" stroke-width="0.6"/>
<line x1="378.46" y1="434.14" x2="378.88" y2="425.25" stroke="#404040" stroke-width="0.6"/>
<line x1="380.17" y1="434.26" x2="381.01" y2="425.40" stroke="#404040" stroke-width="0.6"/>
<line x1="381.45" y1="434.40" x2="382.61" y2="425.58" stroke="#404040" stroke-width="0.6"/>
<line x1="382.24" y1="434.52" x2="383.60" y2="425.72" stroke="#404040" stroke-width="0.6"/>
<line x1="383.82" y1="434.80" x2="385.57" y2="426.07" stroke="#404040" stroke-width="0.6"/>
<line x1="384.70" y1="434.99" x2="386.68" y2="426.31" stroke="#404040" stroke-width="0.6"/>
<line x1="386.34" y1="435.40" x2="388.73" y2="426.83" stroke="#404040" stroke-width="0.6"/>
<line x1="387.14" y1="435.63" x2="389.72" y2="427.12" stroke="#404040" stroke-width="0.6"/>
<line x1="388.32" y1="436.02" x2="391.20" y2="427.59" stroke="#404040" stroke-width="0.6"/>
<line x1="389.82" y1="436.57" x2="393.08" y2="428.28" stroke="#404040" stroke-width="0.6"/>
<line x1="390.87" y1="437.00" x2="394.39" y2="428.82" stroke="#404040" stroke-width="0.6"/>
<line x1="391.84" y1="437.43" x2="395.61" y2="429.37" stroke="#404040" stroke-width="0.6"/>
<line x1="392.94" y1="437.97" x2="396.98" y2="430.04" stroke="#404040" stroke-width="0.6"/>
<line x1="394.04" y1="438.55" x2="398.35" y2="430.77" stroke="#404040" stroke-width="0.6"/>
<line x1="395.17" y1="439.20" x2="399.76" y2="431.58" stroke="#404040" stroke-width="0.6"/>
<line x1="371.47" y1="425.52" x2="370.39" y2="416.59" stroke="#404040" stroke-width="0.6"/>
<line x1="372.61" y1="425.40" x2="371.76" y2="416.44" stroke="#404040" stroke-width="0.6"/>
<line x1="373.91" y1="425.29" x2="373.33" y2="416.31" stroke="#404040" stroke-width="0.6"/>
<line x1="375.42" y1="425.22" x2="375.14" y2="416.23" stroke="#404040" stroke-width="0.6"/>
<line x1="376.92" y1="425.20" x2="376.94" y2="416.20" stroke="#404040" stroke-width="0.6"/>
<line x1="378.67" y1="425.24" x2="379.05" y2="416.25" stroke="#404040" stroke-width="0.6"/>
<line x1="379.87" y1="425.31" x2="380.50" y2="416.33" stroke="#404040" stroke-width="0.6"/>
<line x1="381.07" y1="425.41" x2="381.93" y2="416.45" stroke="#404040" stroke-width="0.6"/>
<line x1="382.89" y1="425.62" x2="384.13" y2="416.70" stroke="#404040" stroke-width="0.6"/>
<line x1="383.93" y1="425.77" x2="385.37" y2="416.89" stroke="#404040" stroke-width="0.6"/>
<line x1="385.60" y1="426.08" x2="387.38" y2="417.26" stroke="#404040" stroke-width="0.6"/>
<line x1="386.69" y1="426.31" x2="388.69" y2="417.54" stroke="#404040" stroke-width="0.6"/>
<line x1="388.45" y1="426.75" x2="390.81" y2="418.07" stroke="#404040" stroke-width="0.6"/>
<line x1="389.57" y1="427.07" x2="392.15" y2="418.45" stroke="#404040" stroke-width="0.6"/>
<line x1="390.72" y1="427.43" x2="393.53" y2="418.88" stroke="#404040" stroke-width="0.6"/>
<line x1="392.17" y1="427.94" x2="395.27" y2="419.49" stroke="#404040" stroke-width="0.6"/>
<line x1="393.50" y1="428.45" x2="396.88" y2="420.11" stroke="#404040" stroke-width="0.6"/>
<line x1="394.99" y1="429.09" x2="398.67" y2="420.87" stroke="#404040" stroke-width="0.6"/>
<line x1="396.06" y1="429.59" x2="399.96" y2="421.47" stroke="#404040" stroke-width="0.6"/>
<line x1="397.28" y1="430.19" x2="401.42" y2="422.20" stroke="#404040" stroke-width="0.6"/>
<line x1="398.78" y1="431.01" x2="403.22" y2="423.18" stroke="#404040" stroke-width="0.6"/>
<line x1="400.03" y1="431.74" x2="404.73" y2="424.07" stroke="#404040" stroke-width="0.6"/>
<line x1="369.91" y1="416.65" x2="368.75" y2="407.72" stroke="#404040" stroke-width="0.6"/>
<line x1="371.95" y1="416.42" x2="371.13" y2="407.46" stroke="#404040" stroke-width="0.6"/>
<line x1="373.54" y1="416.30" x2="372.99" y2="407.32" stroke="#404040" stroke-width="0.6"/>
<line x1="374.81" y1="416.24" x2="374.47" y2="407.24" stroke="#404040" stroke-width="0.6"/>
<line x1="376.27" y1="416.20" x2="376.18" y2="407.20" stroke="#404040" stroke-width="0.6"/>
<line x1="377.69" y1="416.21" x2="377.84" y2="407.21" stroke="#404040" stroke-width="0.6"/>
<line x1="379.67" y1="416.28" x2="380.15" y2="407.29" stroke="#404040" stroke-width="0.6"/>
<line x1="381.23" y1="416.38" x2="381.98" y2="407.41" stroke="#404040" stroke-width="0.6"/>
<line x1="382.83" y1="416.54" x2="383.84" y2="407.60" stroke="#404040" stroke-width="0.6"/>
<line x1="384.11" y1="416.70" x2="385.34" y2="407.79" stroke="#404040" stroke-width="0.6"/>
<line x1="386.00" y1="417.00" x2="387.55" y2="408.13" stroke="#404040" stroke-width="0.6"/>
<line x1="387.24" y1="417.23" x2="389.00" y2="408.40" stroke="#404040" stroke-width="0.6"/>
<line x1="389.05" y1="417.62" x2="391.11" y2="408.86" stroke="#404040" stroke-width="0.6"/>
<line x1="390.42" y1="417.96" x2="392.72" y2="409.26" stroke="#404040" stroke-width="0.6"/>
<line x1="391.91" y1="418.38" x2="394.45" y2="409.74" stroke="#404040" stroke-width="0.6"/>
<line x1="393.11" y1="418.75" x2="395.85" y2="410.17" stroke="#404040" stroke-width="0.6"/>
<line x1="395.13" y1="419.44" x2="398.21" y2="410.98" stroke="#404040" stroke-width="0.6"/>
<line x1="396.44" y1="419.94" x2="399.75" y2="411.56" stroke="#404040" stroke-width="0.6"/>
<line x1="397.90" y1="420.53" x2="401.44" y2="412.26" stroke="#404040" stroke-width="0.6"/>
<line x1="399.16" y1="421.10" x2="402.92" y2="412.92" stroke="#404040" stroke-width="0.6"/>
<line x1="400.37" y1="421.67" x2="404.34" y2="413.59" stroke="#404040" stroke-width="0.6"/>
<line x1="401.74" y1="422.37" x2="405.94" y2="414.41" stroke="#404040" stroke-width="0.6"/>
<line x1="403.36" y1="423.26" x2="407.83" y2="415.45" stroke="#404040" stroke-width="0.6"/>
<line x1="404.83" y1="424.13" x2="409.54" y2="416.46" stroke="#404040" stroke-width="0.6"/>
<line x1="375.38" y1="443.04" x2="374.90" y2="434.15" stroke="#8a8a8a" stroke-width="0.6"/>
<line x1="375.98" y1="443.01" x2="375.70" y2="434.12" stroke="#8a8a8a" stroke-width="0.6"/>
<line x1="376.53" y1="443.00" x2="376.44" y2="434.10" stroke="#8a8a8a" stroke-width="0.6"/>
<line x1="377.40" y1="443.01" x2="377.60" y2="434.11" stroke="#8a8a8a" stroke-width="0.6"/>
<line x1="378.04" y1="443.03" x2="378.46" y2="434.14" stroke="#8a8a8a" stroke-width="0.6"/>
<line x1="378.60" y1="443.06" x2="379.20" y2="434.18" stroke="#8a8a8a" stroke-width="0.6"/>
<line x1="379.32" y1="443.12" x2="380.17" y2="434.26" stroke="#8a8a8a" stroke-width="0.6"/>
<line x1="379.93" y1="443.18" x2="380.98" y2="434.35" stroke="#8a8a8a" stroke-width="0.6"/>
<line x1="380.72" y1="443.29" x2="382.02" y2="434.49" stroke="#8a8a8a" stroke-width="0.6"/>
<line x1="381.30" y1="443.38" x2="382.80" y2="434.61" stroke="#8a8a8a" stroke-width="0.6"/>
<line x1="382.15" y1="443.54" x2="383.93" y2="434.82" stroke="#8a8a8a" stroke-width="0.6"/>
<line x1="374.90" y1="434.15" x2="374.42" y2="425.26" stroke="#8a8a8a" stroke-width="0.6"/>
<line x1="375.73" y1="434.12" x2="375.46" y2="425.22" stroke="#8a8a8a" stroke-width="0.6"/>
<line x1="376.61" y1="434.10" x2="376.56" y2="425.20" stroke="#8a8a8a" stroke-width="0.6"/>
<line x1="377.78" y1="434.11" x2="378.02" y2="425.22" stroke="#8a8a8a" stroke-width="0.6"/>
<line x1="378.68" y1="434.15" x2="379.15" y2="425.26" stroke="#8a8a8a" stroke-width="0.6"/>
<line x1="379.60" y1="434.21" x2="380.30" y2="425.34" stroke="#8a8a8a" stroke-width="0.6"/>
<line x1="380.75" y1="434.32" x2="381.73" y2="425.47" stroke="#8a8a8a" stroke-width="0.6"/>
<line x1="381.82" y1="434.46" x2="383.07" y2="425.64" stroke="#8a8a8a" stroke-width="0.6"/>
<line x1="382.92" y1="434.63" x2="384.45" y2="425.86" stroke="#8a8a8a" stroke-width="0.6"/>
<line x1="383.60" y1="434.75" x2="385.30" y2="426.02" stroke="#8a8a8a" stroke-width="0.6"/>
<line x1="392.53" y1="448.13" x2="397.77" y2="440.93" stroke="#404040" stroke-width="0.6"/>
<line x1="396.06" y1="451.21" x2="402.48" y2="445.04" stroke="#404040" stroke-width="0.6"/>
<line x1="398.46" y1="454.09" x2="405.68" y2="448.88" stroke="#404040" stroke-width="0.6"/>
<line x1="396.78" y1="440.24" x2="401.78" y2="432.87" stroke="#404040" stroke-width="0.6"/>
<line x1="398.30" y1="441.33" x2="403.68" y2="434.23" stroke="#404040" stroke-width="0.6"/>
<line x1="399.53" y1="442.30" x2="405.21" y2="435.45" stroke="#404040" stroke-width="0.6"/>
<line x1="400.33" y1="442.99" x2="406.22" y2="436.31" stroke="#404040" stroke-width="0.6"/>
<line x1="401.70" y1="444.25" x2="407.92" y2="437.89" stroke="#404040" stroke-width="0.6"/>
<line x1="402.68" y1="445.25" x2="409.15" y2="439.14" stroke="#404040" stroke-width="0.6"/>
<line x1="403.92" y1="446.64" x2="410.70" y2="440.88" stroke="#404040" stroke-width="0.6"/>
<line x1="404.93" y1="447.88" x2="411.96" y2="442.42" stroke="#404040" stroke-width="0.6"/>
<line x1="405.75" y1="448.98" x2="412.98" y2="443.80" stroke="#404040" stroke-width="0.6"/>
<line x1="406.65" y1="450.30" x2="414.11" y2="445.45" stroke="#404040" stroke-width="0.6"/>
<line x1="401.67" y1="432.80" x2="406.70" y2="425.33" stroke="#404040" stroke-width="0.6"/>
<line x1="403.41" y1="434.04" x2="408.80" y2="426.82" stroke="#404040" stroke-width="0.6"/>
<line x1="404.38" y1="434.78" x2="409.96" y2="427.72" stroke="#404040" stroke-width="0.6"/>
<line x1="405.99" y1="436.12" x2="411.90" y2="429.32" stroke="#404040" stroke-width="0.6"/>
<line x1="407.27" y1="437.27" x2="413.43" y2="430.71" stroke="#404040" stroke-width="0.6"/>
<line x1="408.32" y1="438.29" x2="414.70" y2="431.94" stroke="#404040" stroke-width="0.6"/>
<line x1="409.60" y1="439.62" x2="416.23" y2="433.54" stroke="#404040" stroke-width="0.6"/>
<line x1="411.04" y1="441.28" x2="417.97" y2="435.53" stroke="#404040" stroke-width="0.6"/>
<line x1="411.87" y1="442.30" x2="418.96" y2="436.76" stroke="#404040" stroke-width="0.6"/>
<line x1="413.16" y1="444.05" x2="420.51" y2="438.86" stroke="#404040" stroke-width="0.6"/>
<line x1="414.14" y1="445.49" x2="421.69" y2="440.59" stroke="#404040" stroke-width="0.6"/>
<line x1="406.79" y1="425.39" x2="411.83" y2="417.94" stroke="#404040" stroke-width="0.6"/>
<line x1="408.27" y1="426.43" x2="413.56" y2="419.15" stroke="#404040" stroke-width="0.6"/>
<line x1="410.14" y1="427.85" x2="415.74" y2="420.82" stroke="#404040" stroke-width="0.6"/>
<line x1="411.61" y1="429.07" x2="417.46" y2="422.23" stroke="#404040" stroke-width="0.6"/>
<line x1="412.87" y1="430.19" x2="418.94" y2="423.54" stroke="#404040" stroke-width="0.6"/>
<line x1="414.10" y1="431.35" x2="420.38" y2="424.90" stroke="#404040" stroke-width="0.6"/>
<line x1="415.64" y1="432.90" x2="422.17" y2="426.71" stroke="#404040" stroke-width="0.6"/>
<line x1="416.70" y1="434.06" x2="423.42" y2="428.07" stroke="#404040" stroke-width="0.6"/>
<line x1="418.21" y1="435.83" x2="425.18" y2="430.13" stroke="#404040" stroke-width="0.6"/>
<line x1="419.55" y1="437.53" x2="426.74" y2="432.12" stroke="#404040" stroke-width="0.6"/>
<line x1="420.55" y1="438.91" x2="427.91" y2="433.73" stroke="#404040" stroke-width="0.6"/>
<line x1="421.46" y1="440.25" x2="428.98" y2="435.29" stroke="#404040" stroke-width="0.6"/>
<line x1="400.35" y1="457.12" x2="408.20" y2="452.93" stroke="#404040" stroke-width="0.6"/>
<line x1="401.71" y1="460.09" x2="410.01" y2="456.88" stroke="#404040" stroke-width="0.6"/>
<line x1="402.26" y1="461.67" x2="410.75" y2="458.99" stroke="#404040" stroke-width="0.6"/>
<line x1="403.06" y1="464.88" x2="411.82" y2="463.28" stroke="#404040" stroke-width="0.6"/>
<line x1="407.82" y1="452.23" x2="415.57" y2="447.86" stroke="#404040" stroke-width="0.6"/>
<line x1="408.48" y1="453.46" x2="416.40" y2="449.40" stroke="#404040" stroke-width="0.6"/>
<line x1="409.16" y1="454.87" x2="417.25" y2="451.16" stroke="#404040" stroke-width="0.6"/>
<line x1="409.81" y1="456.36" x2="418.06" y2="453.03" stroke="#404040" stroke-width="0.6"/>
<line x1="410.42" y1="457.98" x2="418.82" y2="455.05" stroke="#404040" stroke-width="0.6"/>
<line x1="410.87" y1="459.37" x2="419.38" y2="456.78" stroke="#404040" stroke-width="0.6"/>
<line x1="411.31" y1="460.95" x2="419.94" y2="458.77" stroke="#404040" stroke-width="0.6"/>
<line x1="411.62" y1="462.27" x2="420.32" y2="460.41" stroke="#404040" stroke-width="0.6"/>
<line x1="411.95" y1="464.06" x2="420.74" y2="462.65" stroke="#404040" stroke-width="0.6"/>
<line x1="415.72" y1="448.12" x2="423.59" y2="443.75" stroke="#404040" stroke-width="0.6"/>
<line x1="416.35" y1="449.30" x2="424.34" y2="445.17" stroke="#404040" stroke-width="0.6"/>
<line x1="417.09" y1="450.80" x2="425.24" y2="446.98" stroke="#404040" stroke-width="0.6"/>
<line x1="417.98" y1="452.83" x2="426.31" y2="449.42" stroke="#404040" stroke-width="0.6"/>
<line x1="418.45" y1="454.04" x2="426.88" y2="450.87" stroke="#404040" stroke-width="0.6"/>
<line x1="419.04" y1="455.70" x2="427.58" y2="452.86" stroke="#404040" stroke-width="0.6"/>
<line x1="419.67" y1="457.75" x2="428.34" y2="455.33" stroke="#404040" stroke-width="0.6"/>
<line x1="420.09" y1="459.41" x2="428.85" y2="457.33" stroke="#404040" stroke-width="0.6"/>
<line x1="420.41" y1="460.86" x2="429.23" y2="459.07" stroke="#404040" stroke-width="0.6"/>
<line x1="420.68" y1="462.31" x2="429.56" y2="460.82" stroke="#404040" stroke-width="0.6"/>
<line x1="423.26" y1="443.17" x2="431.07" y2="438.70" stroke="#404040" stroke-width="0.6"/>
<line x1="424.15" y1="444.79" x2="432.11" y2="440.60" stroke="#404040" stroke-width="0.6"/>
<line x1="425.14" y1="446.77" x2="433.27" y2="442.92" stroke="#404040" stroke-width="0.6"/>
<line x1="425.81" y1="448.26" x2="434.06" y2="444.65" stroke="#404040" stroke-width="0.6"/>
<line x1="426.56" y1="450.06" x2="434.94" y2="446.76" stroke="#404040" stroke-width="0.6"/>
<line x1="427.43" y1="452.42" x2="435.95" y2="449.51" stroke="#404040" stroke-width="0.6"/>
<line x1="427.81" y1="453.58" x2="436.40" y2="450.87" stroke="#404040" stroke-width="0.6"/>
<line x1="428.53" y1="456.04" x2="437.23" y2="453.75" stroke="#404040" stroke-width="0.6"/>
<line x1="428.95" y1="457.76" x2="437.72" y2="455.75" stroke="#404040" stroke-width="0.6"/>
<line x1="429.30" y1="459.40" x2="438.13" y2="457.67" stroke="#404040" stroke-width="0.6"/>
<line x1="429.63" y1="461.26" x2="438.52" y2="459.84" stroke="#404040" stroke-width="0.6"/>
<line x1="403.30" y1="466.41" x2="412.13" y2="465.31" stroke="#8a8a8a" stroke-width="0.6"/>
<line x1="403.39" y1="467.23" x2="412.25" y2="466.41" stroke="#8a8a8a" stroke-width="0.6"/>
<line x1="403.44" y1="467.88" x2="412.32" y2="467.27" stroke="#8a8a8a" stroke-width="0.6"/>
<line x1="403.47" y1="468.39" x2="412.36" y2="467.96" stroke="#8a8a8a" stroke-width="0.6"/>
<line x1="403.49" y1="469.05" x2="412.39" y2="468.84" stroke="#8a8a8a" stroke-width="0.6"/>
<line x1="403.50" y1="469.76" x2="412.40" y2="469.78" stroke="#8a8a8a" stroke-width="0.6"/>
<line x1="403.49" y1="470.42" x2="412.39" y2="470.66" stroke="#8a8a8a" stroke-width="0.6"/>
<line x1="412.15" y1="465.50" x2="420.99" y2="464.46" stroke="#404040" stroke-width="0.6"/>
<line x1="412.27" y1="466.67" x2="421.14" y2="465.91" stroke="#404040" stroke-width="0.6"/>
<line x1="412.34" y1="467.61" x2="421.22" y2="467.08" stroke="#404040" stroke-width="0.6"/>
<line x1="412.38" y1="468.45" x2="421.27" y2="468.13" stroke="#404040" stroke-width="0.6"/>
<line x1="412.40" y1="469.30" x2="421.30" y2="469.20" stroke="#404040" stroke-width="0.6"/>
<line x1="412.39" y1="470.44" x2="421.29" y2="470.62" stroke="#404040" stroke-width="0.6"/>
<line x1="420.98" y1="464.37" x2="429.91" y2="463.29" stroke="#404040" stroke-width="0.6"/>
<line x1="421.13" y1="465.81" x2="430.09" y2="465.02" stroke="#404040" stroke-width="0.6"/>
<line x1="421.22" y1="467.03" x2="430.20" y2="466.49" stroke="#404040" stroke-width="0.6"/>
<line x1="421.27" y1="468.20" x2="430.27" y2="467.89" stroke="#404040" stroke-width="0.6"/>
<line x1="421.30" y1="469.65" x2="430.30" y2="469.65" stroke="#404040" stroke-width="0.6"/>
<line x1="421.29" y1="470.74" x2="430.29" y2="470.95" stroke="#404040" stroke-width="0.6"/>
<line x1="429.94" y1="463.52" x2="438.88" y2="462.48" stroke="#404040" stroke-width="0.6"/>
<line x1="430.07" y1="464.78" x2="439.03" y2="463.95" stroke="#404040" stroke-width="0.6"/>
<line x1="430.18" y1="466.13" x2="439.16" y2="465.53" stroke="#404040" stroke-width="0.6"/>
<line x1="430.27" y1="467.80" x2="439.26" y2="467.48" stroke="#404040" stroke-width="0.6"/>
<line x1="430.30" y1="469.20" x2="439.30" y2="469.12" stroke="#404040" stroke-width="0.6"/>
<line x1="430.29" y1="470.86" x2="439.29" y2="471.05" stroke="#404040" stroke-width="0.6"/>
<line x1="403.41" y1="471.94" x2="412.27" y2="472.68" stroke="#404040" stroke-width="0.6"/>
<line x1="403.21" y1="473.62" x2="412.02" y2="474.92" stroke="#404040" stroke-width="0.6"/>
<line x1="402.99" y1="474.91" x2="411.72" y2="476.64" stroke="#404040" stroke-width="0.6"/>
<line x1="402.60" y1="476.59" x2="411.19" y2="478.89" stroke="#404040" stroke-width="0.6"/>
<line x1="402.00" y1="478.53" x2="410.40" y2="481.47" stroke="#404040" stroke-width="0.6"/>
<line x1="401.43" y1="480.02" x2="409.63" y2="483.46" stroke="#404040" stroke-width="0.6"/>
<line x1="400.65" y1="481.69" x2="408.61" y2="485.69" stroke="#404040" stroke-width="0.6"/>
<line x1="399.94" y1="483.02" x2="407.65" y2="487.46" stroke="#404040" stroke-width="0.6"/>
<line x1="398.92" y1="484.65" x2="406.30" y2="489.63" stroke="#404040" stroke-width="0.6"/>
<line x1="398.03" y1="485.90" x2="405.10" y2="491.30" stroke="#404040" stroke-width="0.6"/>
<line x1="412.34" y1="471.74" x2="421.23" y2="472.25" stroke="#404040" stroke-width="0.6"/>
<line x1="412.17" y1="473.70" x2="421.02" y2="474.70" stroke="#404040" stroke-width="0.6"/>
<line x1="411.96" y1="475.31" x2="420.74" y2="476.71" stroke="#404040" stroke-width="0.6"/>
<line x1="411.78" y1="476.30" x2="420.53" y2="477.95" stroke="#404040" stroke-width="0.6"/>
<line x1="411.34" y1="478.34" x2="419.97" y2="480.49" stroke="#404040" stroke-width="0.6"/>
<line x1="410.94" y1="479.79" x2="419.47" y2="482.31" stroke="#404040" stroke-width="0.6"/>
<line x1="410.56" y1="481.00" x2="419.00" y2="483.83" stroke="#404040" stroke-width="0.6"/>
<line x1="410.09" y1="482.31" x2="418.41" y2="485.46" stroke="#404040" stroke-width="0.6"/>
<line x1="409.35" y1="484.12" x2="417.48" y2="487.73" stroke="#404040" stroke-width="0.6"/>
<line x1="408.82" y1="485.25" x2="416.83" y2="489.14" stroke="#404040" stroke-width="0.6"/>
<line x1="408.02" y1="486.80" x2="415.83" y2="491.08" stroke="#404040" stroke-width="0.6"/>
<line x1="407.48" y1="487.76" x2="415.15" y2="492.28" stroke="#404040" stroke-width="0.6"/>
<line x1="406.56" y1="489.24" x2="414.00" y2="494.12" stroke="#404040" stroke-width="0.6"/>
<line x1="405.83" y1="490.30" x2="413.09" y2="495.45" stroke="#404040" stroke-width="0.6"/>
<line x1="404.89" y1="491.57" x2="411.92" y2="497.03" stroke="#404040" stroke-width="0.6"/>
<line x1="421.20" y1="472.75" x2="430.17" y2="473.37" stroke="#404040" stroke-width="0.6"/>
<line x1="421.07" y1="474.25" x2="430.02" y2="475.17" stroke="#404040" stroke-width="0.6"/>
<line x1="420.89" y1="475.69" x2="429.81" y2="476.91" stroke="#404040" stroke-width="0.6"/>
<line x1="420.60" y1="477.56" x2="429.46" y2="479.15" stroke="#404040" stroke-width="0.6"/>
<line x1="420.26" y1="479.26" x2="429.05" y2="481.20" stroke="#404040" stroke-width="0.6"/>
<line x1="419.94" y1="480.62" x2="428.67" y2="482.82" stroke="#404040" stroke-width="0.6"/>
<line x1="419.34" y1="482.76" x2="427.94" y2="485.40" stroke="#404040" stroke-width="0.6"/>
<line x1="418.84" y1="484.30" x2="427.34" y2="487.25" stroke="#404040" stroke-width="0.6"/>
<line x1="418.40" y1="485.50" x2="426.81" y2="488.70" stroke="#404040" stroke-width="0.6"/>
<line x1="417.68" y1="487.29" x2="425.94" y2="490.85" stroke="#404040" stroke-width="0.6"/>
<line x1="417.00" y1="488.78" x2="425.13" y2="492.64" stroke="#404040" stroke-width="0.6"/>
<line x1="416.39" y1="490.02" x2="424.40" y2="494.13" stroke="#404040" stroke-width="0.6"/>
<line x1="415.43" y1="491.78" x2="423.25" y2="496.25" stroke="#404040" stroke-width="0.6"/>
<line x1="414.63" y1="493.13" x2="422.28" y2="497.87" stroke="#404040" stroke-width="0.6"/>
<line x1="413.78" y1="494.46" x2="421.25" y2="499.47" stroke="#404040" stroke-width="0.6"/>
<line x1="412.60" y1="496.14" x2="419.83" y2="501.48" stroke="#404040" stroke-width="0.6"/>
<line x1="411.85" y1="497.12" x2="418.93" y2="502.67" stroke="#404040" stroke-width="0.6"/>
<line x1="430.20" y1="472.94" x2="439.19" y2="473.48" stroke="#404040" stroke-width="0.6"/>
<line x1="430.08" y1="474.60" x2="439.04" y2="475.42" stroke="#404040" stroke-width="0.6"/>
<line x1="429.87" y1="476.49" x2="438.79" y2="477.63" stroke="#404040" stroke-width="0.6"/>
<line x1="429.53" y1="478.76" x2="438.40" y2="480.28" stroke="#404040" stroke-width="0.6"/>
<line x1="429.15" y1="480.73" x2="437.96" y2="482.59" stroke="#404040" stroke-width="0.6"/>
<line x1="428.70" y1="482.67" x2="437.44" y2="484.85" stroke="#404040" stroke-width="0.6"/>
<line x1="428.32" y1="484.11" x2="436.99" y2="486.53" stroke="#404040" stroke-width="0.6"/>
<line x1="427.80" y1="485.85" x2="436.38" y2="488.57" stroke="#404040" stroke-width="0.6"/>
<line x1="427.02" y1="488.14" x2="435.47" y2="491.24" stroke="#404040" stroke-width="0.6"/>
<line x1="426.46" y1="489.61" x2="434.81" y2="492.96" stroke="#404040" stroke-width="0.6"/>
<line x1="425.69" y1="491.43" x2="433.91" y2="495.09" stroke="#404040" stroke-width="0.6"/>
<line x1="424.87" y1="493.18" x2="432.96" y2="497.13" stroke="#404040" stroke-width="0.6"/>
<line x1="423.88" y1="495.12" x2="431.80" y2="499.39" stroke="#404040" stroke-width="0.6"/>
<line x1="422.85" y1="496.93" x2="430.60" y2="501.51" stroke="#404040" stroke-width="0.6"/>
<line x1="421.85" y1="498.56" x2="429.43" y2="503.41" stroke="#404040" stroke-width="0.6"/>
<line x1="420.83" y1="500.09" x2="428.24" y2="505.20" stroke="#404040" stroke-width="0.6"/>
<line x1="419.94" y1="501.35" x2="427.19" y2="506.67" stroke="#404040" stroke-width="0.6"/>
<line x1="418.48" y1="503.24" x2="425.49" y2="508.89" stroke="#404040" stroke-width="0.6"/>
<line x1="393.83" y1="490.26" x2="399.51" y2="497.12" stroke="#404040" stroke-width="0.6"/>
<line x1="391.85" y1="491.75" x2="396.87" y2="499.11" stroke="#404040" stroke-width="0.6"/>
<line x1="389.81" y1="493.02" x2="394.14" y2="500.79" stroke="#404040" stroke-width="0.6"/>
<line x1="388.10" y1="493.89" x2="391.86" y2="501.96" stroke="#404040" stroke-width="0.6"/>
<line x1="386.22" y1="494.68" x2="389.36" y2="503.01" stroke="#404040" stroke-width="0.6"/>
<line x1="384.31" y1="495.32" x2="386.81" y2="503.86" stroke="#404040" stroke-width="0.6"/>
<line x1="382.84" y1="495.71" x2="384.85" y2="504.38" stroke="#404040" stroke-width="0.6"/>
<line x1="380.77" y1="496.10" x2="382.10" y2="504.90" stroke="#404040" stroke-width="0.6"/>
<line x1="378.32" y1="496.36" x2="378.82" y2="505.24" stroke="#404040" stroke-width="0.6"/>
<line x1="376.17" y1="496.39" x2="375.96" y2="505.29" stroke="#404040" stroke-width="0.6"/>
<line x1="374.12" y1="496.27" x2="373.23" y2="505.12" stroke="#404040" stroke-width="0.6"/>
<line x1="399.66" y1="496.99" x2="405.37" y2="503.82" stroke="#404040" stroke-width="0.6"/>
<line x1="398.32" y1="498.06" x2="403.70" y2="505.15" stroke="#404040" stroke-width="0.6"/>
<line x1="397.17" y1="498.90" x2="402.26" y2="506.20" stroke="#404040" stroke-width="0.6"/>
<line x1="395.83" y1="499.79" x2="400.59" y2="507.31" stroke="#404040" stroke-width="0.6"/>
<line x1="394.69" y1="500.48" x2="399.17" y2="508.17" stroke="#404040" stroke-width="0.6"/>
<line x1="393.24" y1="501.28" x2="397.35" y2="509.17" stroke="#404040" stroke-width="0.6"/>
<line x1="391.81" y1="501.98" x2="395.56" y2="510.05" stroke="#404040" stroke-width="0.6"/>
<line x1="390.39" y1="502.61" x2="393.78" y2="510.83" stroke="#404040" stroke-width="0.6"/>
<line x1="389.12" y1="503.10" x2="392.20" y2="511.45" stroke="#404040" stroke-width="0.6"/>
<line x1="387.66" y1="503.60" x2="390.37" y2="512.08" stroke="#404040" stroke-width="0.6"/>
<line x1="386.38" y1="503.99" x2="388.78" y2="512.56" stroke="#404040" stroke-width="0.6"/>
<line x1="385.08" y1="504.32" x2="387.15" y2="512.98" stroke="#404040" stroke-width="0.6"/>
<line x1="383.11" y1="504.74" x2="384.69" y2="513.50" stroke="#404040" stroke-width="0.6"/>
<line x1="382.11" y1="504.90" x2="383.44" y2="513.70" stroke="#404040" stroke-width="0.6"/>
<line x1="380.47" y1="505.11" x2="381.38" y2="513.96" stroke="#404040" stroke-width="0.6"/>
<line x1="378.64" y1="505.25" x2="379.10" y2="514.14" stroke="#404040" stroke-width="0.6"/>
<line x1="377.53" y1="505.29" x2="377.71" y2="514.19" stroke="#404040" stroke-width="0.6"/>
<line x1="375.82" y1="505.29" x2="375.57" y2="514.18" stroke="#404040" stroke-width="0.6"/>
<line x1="374.59" y1="505.23" x2="374.04" y2="514.11" stroke="#404040" stroke-width="0.6"/>
<line x1="372.93" y1="505.09" x2="371.96" y2="513.94" stroke="#404040" stroke-width="0.6"/>
<line x1="405.35" y1="503.83" x2="411.13" y2="510.73" stroke="#404040" stroke-width="0.6"/>
<line x1="403.80" y1="505.07" x2="409.26" y2="512.23" stroke="#404040" stroke-width="0.6"/>
<line x1="402.72" y1="505.87" x2="407.96" y2="513.19" stroke="#404040" stroke-width="0.6"/>
<line x1="400.96" y1="507.07" x2="405.85" y2="514.63" stroke="#404040" stroke-width="0.6"/>
<line x1="399.94" y1="507.71" x2="404.61" y2="515.40" stroke="#404040" stroke-width="0.6"/>
<line x1="398.02" y1="508.81" x2="402.31" y2="516.73" stroke="#404040" stroke-width="0.6"/>
<line x1="396.84" y1="509.43" x2="400.90" y2="517.47" stroke="#404040" stroke-width="0.6"/>
<line x1="395.22" y1="510.21" x2="398.95" y2="518.40" stroke="#404040" stroke-width="0.6"/>
<line x1="393.35" y1="511.01" x2="396.69" y2="519.36" stroke="#404040" stroke-width="0.6"/>
<line x1="392.23" y1="511.44" x2="395.35" y2="519.88" stroke="#404040" stroke-width="0.6"/>
<line x1="390.53" y1="512.03" x2="393.30" y2="520.59" stroke="#404040" stroke-width="0.6"/>
<line x1="388.66" y1="512.59" x2="391.06" y2="521.26" stroke="#404040" stroke-width="0.6"/>
<line x1="387.37" y1="512.93" x2="389.51" y2="521.67" stroke="#404040" stroke-width="0.6"/>
<line x1="385.59" y1="513.32" x2="387.37" y2="522.15" stroke="#404040" stroke-width="0.6"/>
<line x1="383.54" y1="513.69" x2="384.90" y2="522.58" stroke="#404040" stroke-width="0.6"/>
<line x1="382.00" y1="513.90" x2="383.05" y2="522.83" stroke="#404040" stroke-width="0.6"/>
<line x1="380.55" y1="514.04" x2="381.31" y2="523.01" stroke="#404040" stroke-width="0.6"/>
<line x1="378.92" y1="514.15" x2="379.35" y2="523.14" stroke="#404040" stroke-width="0.6"/>
<line x1="377.31" y1="514.20" x2="377.41" y2="523.20" stroke="#404040" stroke-width="0.6"/>
<line x1="375.02" y1="514.16" x2="374.66" y2="523.16" stroke="#404040" stroke-width="0.6"/>
<line x1="373.83" y1="514.10" x2="373.23" y2="523.08" stroke="#404040" stroke-width="0.6"/>
<line x1="371.69" y1="513.91" x2="370.66" y2="522.85" stroke="#404040" stroke-width="0.6"/>
<line x1="411.43" y1="510.48" x2="417.25" y2="517.34" stroke="#404040" stroke-width="0.6"/>
<line x1="409.73" y1="511.86" x2="415.27" y2="518.95" stroke="#404040" stroke-width="0.6"/>
<line x1="408.29" y1="512.95" x2="413.59" y2="520.22" stroke="#404040" stroke-width="0.6"/>
<line x1="406.91" y1="513.92" x2="411.97" y2="521.36" stroke="#404040" stroke-width="0.6"/>
<line x1="405.10" y1="515.10" x2="409.86" y2="522.74" stroke="#404040" stroke-width="0.6"/>
<line x1="403.24" y1="516.21" x2="407.69" y2="524.03" stroke="#404040" stroke-width="0.6"/>
<line x1="402.13" y1="516.82" x2="406.39" y2="524.75" stroke="#404040" stroke-width="0.6"/>
<line x1="399.98" y1="517.92" x2="403.88" y2="526.03" stroke="#404040" stroke-width="0.6"/>
<line x1="398.36" y1="518.66" x2="401.99" y2="526.90" stroke="#404040" stroke-width="0.6"/>
<line x1="397.01" y1="519.23" x2="400.41" y2="527.57" stroke="#404040" stroke-width="0.6"/>
<line x1="394.69" y1="520.12" x2="397.70" y2="528.60" stroke="#404040" stroke-width="0.6"/>
<line x1="393.04" y1="520.68" x2="395.77" y2="529.25" stroke="#404040" stroke-width="0.6"/>
<line x1="391.40" y1="521.17" x2="393.86" y2="529.83" stroke="#404040" stroke-width="0.6"/>
<line x1="389.64" y1="521.64" x2="391.80" y2="530.37" stroke="#404040" stroke-width="0.6"/>
<line x1="387.73" y1="522.07" x2="389.57" y2="530.88" stroke="#404040" stroke-width="0.6"/>
<line x1="385.97" y1="522.41" x2="387.52" y2="531.27" stroke="#404040" stroke-width="0.6"/>
<line x1="383.75" y1="522.75" x2="384.92" y2="531.67" stroke="#404040" stroke-width="0.6"/>
<line x1="381.72" y1="522.97" x2="382.55" y2="531.94" stroke="#404040" stroke-width="0.6"/>
<line x1="380.00" y1="523.10" x2="380.54" y2="532.09" stroke="#404040" stroke-width="0.6"/>
<line x1="378.04" y1="523.19" x2="378.25" y2="532.18" stroke="#404040" stroke-width="0.6"/>
<line x1="376.67" y1="523.20" x2="376.65" y2="532.20" stroke="#404040" stroke-width="0.6"/>
<line x1="374.38" y1="523.15" x2="373.97" y2="532.14" stroke="#404040" stroke-width="0.6"/>
<line x1="372.87" y1="523.06" x2="372.21" y2="532.03" stroke="#404040" stroke-width="0.6"/>
<line x1="370.50" y1="522.83" x2="369.44" y2="531.77" stroke="#404040" stroke-width="0.6"/>
<line x1="374.20" y1="487.31" x2="372.90" y2="496.11" stroke="#8a8a8a" stroke-width="0.6"/>
<line x1="373.76" y1="487.24" x2="372.24" y2="496.01" stroke="#8a8a8a" stroke-width="0.6"/>
<line x1="373.41" y1="487.17" x2="371.71" y2="495.91" stroke="#8a8a8a" stroke-width="0.6"/>
<line x1="372.96" y1="487.08" x2="371.04" y2="495.77" stroke="#8a8a8a" stroke-width="0.6"/>
<line x1="372.53" y1="486.98" x2="370.39" y2="495.62" stroke="#8a8a8a" stroke-width="0.6"/>
<line x1="372.25" y1="486.91" x2="369.97" y2="495.51" stroke="#8a8a8a" stroke-width="0.6"/>
<line x1="371.75" y1="486.77" x2="369.23" y2="495.30" stroke="#8a8a8a" stroke-width="0.6"/>
<line x1="371.46" y1="486.68" x2="368.78" y2="495.17" stroke="#8a8a8a" stroke-width="0.6"/>
<line x1="371.11" y1="486.57" x2="368.27" y2="495.00" stroke="#8a8a8a" stroke-width="0.6"/>
<line x1="370.61" y1="486.39" x2="367.52" y2="494.74" stroke="#8a8a8a" stroke-width="0.6"/>
<line x1="370.28" y1="486.26" x2="367.03" y2="494.55" stroke="#8a8a8a" stroke-width="0.6"/>
<line x1="372.64" y1="496.07" x2="371.25" y2="504.87" stroke="#8a8a8a" stroke-width="0.6"/>
<line x1="372.01" y1="495.97" x2="370.41" y2="504.72" stroke="#8a8a8a" stroke-width="0.6"/>
<line x1="371.05" y1="495.77" x2="369.14" y2="504.47" stroke="#8a8a8a" stroke-width="0.6"/>
<line x1="370.34" y1="495.61" x2="368.18" y2="504.24" stroke="#8a8a8a" stroke-width="0.6"/>
<line x1="369.54" y1="495.39" x2="367.12" y2="503.96" stroke="#8a8a8a" stroke-width="0.6"/>
<line x1="368.83" y1="495.18" x2="366.18" y2="503.68" stroke="#8a8a8a" stroke-width="0.6"/>
<line x1="368.05" y1="494.93" x2="365.14" y2="503.34" stroke="#8a8a8a" stroke-width="0.6"/>
<line x1="367.16" y1="494.60" x2="363.95" y2="502.90" stroke="#8a8a8a" stroke-width="0.6"/>
<line x1="371.13" y1="504.85" x2="369.71" y2="513.63" stroke="#8a8a8a" stroke-width="0.6"/>
<line x1="370.10" y1="504.66" x2="368.43" y2="513.40" stroke="#8a8a8a" stroke-width="0.6"/>
<line x1="369.33" y1="504.51" x2="367.46" y2="513.21" stroke="#8a8a8a" stroke-width="0.6"/>
<line x1="368.20" y1="504.25" x2="366.05" y2="512.88" stroke="#8a8a8a" stroke-width="0.6"/>
<line x1="367.17" y1="503.97" x2="364.76" y2="512.54" stroke="#8a8a8a" stroke-width="0.6"/>
<line x1="365.88" y1="503.59" x2="363.15" y2="512.06" stroke="#8a8a8a" stroke-width="0.6"/>
<line x1="364.97" y1="503.28" x2="362.01" y2="511.67" stroke="#8a8a8a" stroke-width="0.6"/>
<line x1="364.16" y1="502.98" x2="361.00" y2="511.30" stroke="#8a8a8a" stroke-width="0.6"/>
<line x1="369.84" y1="513.65" x2="368.44" y2="522.54" stroke="#404040" stroke-width="0.6"/>
<line x1="368.66" y1="513.45" x2="367.01" y2="522.30" stroke="#404040" stroke-width="0.6"/>
<line x1="367.10" y1="513.13" x2="365.14" y2="521.91" stroke="#404040" stroke-width="0.6"/>
<line x1="365.96" y1="512.86" x2="363.76" y2="521.59" stroke="#404040" stroke-width="0.6"/>
<line x1="364.69" y1="512.52" x2="362.24" y2="521.18" stroke="#404040" stroke-width="0.6"/>
<line x1="363.50" y1="512.16" x2="360.80" y2="520.75" stroke="#404040" stroke-width="0.6"/>
<line x1="362.16" y1="511.72" x2="359.20" y2="520.22" stroke="#404040" stroke-width="0.6"/>
<line x1="360.85" y1="511.24" x2="357.62" y2="519.64" stroke="#404040" stroke-width="0.6"/>
<line x1="368.48" y1="522.55" x2="367.08" y2="531.44" stroke="#404040" stroke-width="0.6"/>
<line x1="366.99" y1="522.29" x2="365.34" y2="531.14" stroke="#404040" stroke-width="0.6"/>
<line x1="365.21" y1="521.93" x2="363.26" y2="530.72" stroke="#404040" stroke-width="0.6"/>
<line x1="363.58" y1="521.54" x2="361.36" y2="530.26" stroke="#404040" stroke-width="0.6"/>
<line x1="361.85" y1="521.07" x2="359.34" y2="529.71" stroke="#404040" stroke-width="0.6"/>
<line x1="360.38" y1="520.62" x2="357.62" y2="529.18" stroke="#404040" stroke-width="0.6"/>
<line x1="359.09" y1="520.18" x2="356.11" y2="528.68" stroke="#404040" stroke-width="0.6"/>
<line x1="357.27" y1="519.51" x2="353.99" y2="527.89" stroke="#404040" stroke-width="0.6"/>
<line x1="365.54" y1="493.91" x2="361.78" y2="501.98" stroke="#404040" stroke-width="0.6"/>
<line x1="364.17" y1="493.23" x2="359.97" y2="501.07" stroke="#404040" stroke-width="0.6"/>
<line x1="362.85" y1="492.47" x2="358.20" y2="500.05" stroke="#404040" stroke-width="0.6"/>
<line x1="361.54" y1="491.61" x2="356.45" y2="498.91" stroke="#404040" stroke-width="0.6"/>
<line x1="359.91" y1="490.38" x2="354.29" y2="497.28" stroke="#404040" stroke-width="0.6"/>
<line x1="358.84" y1="489.46" x2="352.85" y2="496.04" stroke="#404040" stroke-width="0.6"/>
<line x1="362.45" y1="502.28" x2="358.87" y2="510.43" stroke="#404040" stroke-width="0.6"/>
<line x1="361.18" y1="501.69" x2="357.28" y2="509.69" stroke="#404040" stroke-width="0.6"/>
<line x1="359.85" y1="501.01" x2="355.61" y2="508.83" stroke="#404040" stroke-width="0.6"/>
<line x1="358.16" y1="500.03" x2="353.50" y2="507.61" stroke="#404040" stroke-width="0.6"/>
<line x1="356.99" y1="499.28" x2="352.04" y2="506.67" stroke="#404040" stroke-width="0.6"/>
<line x1="355.85" y1="498.48" x2="350.61" y2="505.68" stroke="#404040" stroke-width="0.6"/>
<line x1="354.72" y1="497.63" x2="349.20" y2="504.61" stroke="#404040" stroke-width="0.6"/>
<line x1="353.37" y1="496.51" x2="347.52" y2="503.21" stroke="#404040" stroke-width="0.6"/>
<line x1="352.45" y1="495.67" x2="346.36" y2="502.16" stroke="#404040" stroke-width="0.6"/>
<line x1="359.09" y1="510.52" x2="355.50" y2="518.78" stroke="#404040" stroke-width="0.6"/>
<line x1="357.15" y1="509.63" x2="353.18" y2="517.70" stroke="#404040" stroke-width="0.6"/>
<line x1="355.92" y1="509.00" x2="351.70" y2="516.94" stroke="#404040" stroke-width="0.6"/>
<line x1="354.29" y1="508.09" x2="349.74" y2="515.85" stroke="#404040" stroke-width="0.6"/>
<line x1="353.14" y1="507.39" x2="348.36" y2="515.01" stroke="#404040" stroke-width="0.6"/>
<line x1="351.54" y1="506.33" x2="346.43" y2="513.74" stroke="#404040" stroke-width="0.6"/>
<line x1="349.78" y1="505.06" x2="344.32" y2="512.21" stroke="#404040" stroke-width="0.6"/>
<line x1="348.67" y1="504.18" x2="342.99" y2="511.16" stroke="#404040" stroke-width="0.6"/>
<line x1="347.45" y1="503.15" x2="341.51" y2="509.91" stroke="#404040" stroke-width="0.6"/>
<line x1="345.87" y1="501.69" x2="339.61" y2="508.16" stroke="#404040" stroke-width="0.6"/>
<line x1="355.67" y1="518.85" x2="352.12" y2="527.12" stroke="#404040" stroke-width="0.6"/>
<line x1="354.04" y1="518.12" x2="350.21" y2="526.26" stroke="#404040" stroke-width="0.6"/>
<line x1="351.89" y1="517.05" x2="347.70" y2="525.01" stroke="#404040" stroke-width="0.6"/>
<line x1="350.11" y1="516.07" x2="345.63" y2="523.87" stroke="#404040" stroke-width="0.6"/>
<line x1="348.61" y1="515.17" x2="343.87" y2="522.82" stroke="#404040" stroke-width="0.6"/>
<line x1="347.03" y1="514.15" x2="342.02" y2="521.63" stroke="#404040" stroke-width="0.6"/>
<line x1="345.63" y1="513.18" x2="340.39" y2="520.50" stroke="#404040" stroke-width="0.6"/>
<line x1="344.25" y1="512.16" x2="338.77" y2="519.30" stroke="#404040" stroke-width="0.6"/>
<line x1="342.48" y1="510.74" x2="336.71" y2="517.65" stroke="#404040" stroke-width="0.6"/>
<line x1="341.35" y1="509.77" x2="335.39" y2="516.51" stroke="#404040" stroke-width="0.6"/>
<line x1="339.69" y1="508.24" x2="333.45" y2="514.72" stroke="#404040" stroke-width="0.6"/>
<line x1="357.13" y1="487.75" x2="350.57" y2="493.77" stroke="#404040" stroke-width="0.6"/>
<line x1="354.90" y1="484.97" x2="347.60" y2="490.06" stroke="#404040" stroke-width="0.6"/>
<line x1="353.21" y1="482.20" x2="345.34" y2="486.37" stroke="#404040" stroke-width="0.6"/>
<line x1="352.02" y1="479.64" x2="343.76" y2="482.95" stroke="#404040" stroke-width="0.6"/>
<line x1="351.09" y1="476.91" x2="342.52" y2="479.32" stroke="#404040" stroke-width="0.6"/>
<line x1="350.58" y1="493.78" x2="344.03" y2="499.80" stroke="#404040" stroke-width="0.6"/>
<line x1="348.41" y1="491.18" x2="341.31" y2="496.54" stroke="#404040" stroke-width="0.6"/>
<line x1="345.88" y1="487.34" x2="338.15" y2="491.75" stroke="#404040" stroke-width="0.6"/>
<line x1="344.44" y1="484.54" x2="336.35" y2="488.25" stroke="#404040" stroke-width="0.6"/>
<line x1="343.07" y1="481.08" x2="334.63" y2="483.92" stroke="#404040" stroke-width="0.6"/>
<line x1="342.37" y1="478.74" x2="333.76" y2="481.01" stroke="#404040" stroke-width="0.6"/>
<line x1="344.38" y1="500.18" x2="337.82" y2="506.35" stroke="#404040" stroke-width="0.6"/>
<line x1="342.92" y1="498.55" x2="336.07" y2="504.39" stroke="#404040" stroke-width="0.6"/>
<line x1="341.63" y1="496.96" x2="334.52" y2="502.48" stroke="#404040" stroke-width="0.6"/>
<line x1="340.18" y1="494.98" x2="332.77" y2="500.09" stroke="#404040" stroke-width="0.6"/>
<line x1="339.13" y1="493.40" x2="331.52" y2="498.19" stroke="#404040" stroke-width="0.6"/>
<line x1="338.17" y1="491.79" x2="330.36" y2="496.26" stroke="#404040" stroke-width="0.6"/>
<line x1="337.14" y1="489.89" x2="329.12" y2="493.97" stroke="#404040" stroke-width="0.6"/>
<line x1="336.18" y1="487.87" x2="327.96" y2="491.54" stroke="#404040" stroke-width="0.6"/>
<line x1="335.17" y1="485.43" x2="326.75" y2="488.61" stroke="#404040" stroke-width="0.6"/>
<line x1="334.45" y1="483.36" x2="325.88" y2="486.12" stroke="#404040" stroke-width="0.6"/>
<line x1="333.90" y1="481.53" x2="325.22" y2="483.92" stroke="#404040" stroke-width="0.6"/>
<line x1="333.36" y1="479.34" x2="324.57" y2="481.29" stroke="#404040" stroke-width="0.6"/>
<line x1="338.22" y1="506.77" x2="331.73" y2="513.00" stroke="#c05050" stroke-width="0.6"/>
<line x1="337.20" y1="505.68" x2="330.54" y2="511.73" stroke="#c05050" stroke-width="0.6"/>
<line x1="336.40" y1="504.77" x2="329.60" y2="510.67" stroke="#c05050" stroke-width="0.6"/>
<line x1="335.59" y1="503.81" x2="328.65" y2="509.55" stroke="#c05050" stroke-width="0.6"/>
<line x1="334.67" y1="502.67" x2="327.58" y2="508.22" stroke="#c05050" stroke-width="0.6"/>
<line x1="333.80" y1="501.53" x2="326.57" y2="506.89" stroke="#c05050" stroke-width="0.6"/>
<line x1="332.90" y1="500.28" x2="325.51" y2="505.42" stroke="#c05050" stroke-width="0.6"/>
<line x1="332.08" y1="499.07" x2="324.56" y2="504.01" stroke="#c05050" stroke-width="0.6"/>
<line x1="331.24" y1="497.75" x2="323.58" y2="502.47" stroke="#c05050" stroke-width="0.6"/>
<line x1="330.67" y1="496.81" x2="322.92" y2="501.37" stroke="#c05050" stroke-width="0.6"/>
<line x1="329.85" y1="495.35" x2="321.95" y2="499.66" stroke="#c05050" stroke-width="0.6"/>
<line x1="329.16" y1="494.04" x2="321.14" y2="498.13" stroke="#c05050" stroke-width="0.6"/>
<line x1="328.62" y1="492.95" x2="320.51" y2="496.87" stroke="#c05050" stroke-width="0.6"/>
<line x1="328.06" y1="491.76" x2="319.86" y2="495.47" stroke="#c05050" stroke-width="0.6"/>
<line x1="327.53" y1="490.55" x2="319.24" y2="494.05" stroke="#c05050" stroke-width="0.6"/>
<line x1="326.84" y1="488.84" x2="318.44" y2="492.07" stroke="#c05050" stroke-width="0.6"/>
<line x1="326.47" y1="487.84" x2="318.00" y2="490.89" stroke="#c05050" stroke-width="0.6"/>
<line x1="325.90" y1="486.16" x2="317.33" y2="488.93" stroke="#c05050" stroke-width="0.6"/>
<line x1="325.45" y1="484.72" x2="316.81" y2="487.25" stroke="#c05050" stroke-width="0.6"/>
<line x1="325.14" y1="483.62" x2="316.45" y2="485.96" stroke="#c05050" stroke-width="0.6"/>
<line x1="324.79" y1="482.22" x2="316.04" y2="484.33" stroke="#c05050" stroke-width="0.6"/>
<line x1="324.52" y1="481.05" x2="315.72" y2="482.96" stroke="#c05050" stroke-width="0.6"/>
<line x1="350.27" y1="472.70" x2="341.43" y2="473.70" stroke="#404040" stroke-width="0.6"/>
<line x1="350.11" y1="469.03" x2="341.21" y2="468.80" stroke="#404040" stroke-width="0.6"/>
<line x1="350.42" y1="465.58" x2="341.63" y2="464.20" stroke="#404040" stroke-width="0.6"/>
<line x1="351.17" y1="462.23" x2="342.62" y2="459.74" stroke="#404040" stroke-width="0.6"/>
<line x1="352.64" y1="458.34" x2="344.58" y2="454.55" stroke="#404040" stroke-width="0.6"/>
<line x1="341.45" y1="473.94" x2="332.62" y2="475.00" stroke="#404040" stroke-width="0.6"/>
<line x1="341.22" y1="470.89" x2="332.32" y2="471.19" stroke="#404040" stroke-width="0.6"/>
<line x1="341.31" y1="466.91" x2="332.44" y2="466.21" stroke="#404040" stroke-width="0.6"/>
<line x1="341.95" y1="462.45" x2="333.23" y2="460.64" stroke="#404040" stroke-width="0.6"/>
<line x1="342.97" y1="458.60" x2="334.52" y2="455.83" stroke="#404040" stroke-width="0.6"/>
<line x1="344.60" y1="454.53" x2="336.55" y2="450.73" stroke="#404040" stroke-width="0.6"/>
<line x1="332.93" y1="477.17" x2="324.06" y2="478.68" stroke="#404040" stroke-width="0.6"/>
<line x1="332.62" y1="474.99" x2="323.68" y2="476.07" stroke="#404040" stroke-width="0.6"/>
<line x1="332.38" y1="472.42" x2="323.40" y2="472.97" stroke="#404040" stroke-width="0.6"/>
<line x1="332.31" y1="470.42" x2="323.31" y2="470.57" stroke="#404040" stroke-width="0.6"/>
<line x1="332.34" y1="467.88" x2="323.34" y2="467.51" stroke="#404040" stroke-width="0.6"/>
<line x1="332.55" y1="464.95" x2="323.61" y2="464.00" stroke="#404040" stroke-width="0.6"/>
<line x1="332.77" y1="463.26" x2="323.86" y2="461.95" stroke="#404040" stroke-width="0.6"/>
<line x1="333.14" y1="461.08" x2="324.31" y2="459.34" stroke="#404040" stroke-width="0.6"/>
<line x1="333.70" y1="458.63" x2="324.98" y2="456.39" stroke="#404040" stroke-width="0.6"/>
<line x1="334.44" y1="456.08" x2="325.87" y2="453.33" stroke="#404040" stroke-width="0.6"/>
<line x1="334.97" y1="454.51" x2="326.52" y2="451.43" stroke="#404040" stroke-width="0.6"/>
<line x1="335.96" y1="452.04" x2="327.69" y2="448.47" stroke="#404040" stroke-width="0.6"/>
<line x1="337.14" y1="449.52" x2="329.12" y2="445.44" stroke="#404040" stroke-width="0.6"/>
<line x1="324.15" y1="479.17" x2="315.29" y2="480.76" stroke="#404040" stroke-width="0.6"/>
<line x1="323.88" y1="477.57" x2="314.98" y2="478.90" stroke="#404040" stroke-width="0.6"/>
<line x1="323.73" y1="476.45" x2="314.80" y2="477.58" stroke="#404040" stroke-width="0.6"/>
<line x1="323.54" y1="474.78" x2="314.58" y2="475.64" stroke="#404040" stroke-width="0.6"/>
<line x1="323.44" y1="473.57" x2="314.46" y2="474.23" stroke="#404040" stroke-width="0.6"/>
<line x1="323.36" y1="472.27" x2="314.37" y2="472.70" stroke="#404040" stroke-width="0.6"/>
<line x1="323.31" y1="470.81" x2="314.31" y2="471.00" stroke="#404040" stroke-width="0.6"/>
<line x1="323.30" y1="469.59" x2="314.30" y2="469.57" stroke="#404040" stroke-width="0.6"/>
<line x1="323.33" y1="467.90" x2="314.34" y2="467.60" stroke="#404040" stroke-width="0.6"/>
<line x1="323.41" y1="466.28" x2="314.43" y2="465.71" stroke="#404040" stroke-width="0.6"/>
<line x1="323.50" y1="465.06" x2="314.54" y2="464.28" stroke="#404040" stroke-width="0.6"/>
<line x1="323.61" y1="463.93" x2="314.66" y2="462.96" stroke="#404040" stroke-width="0.6"/>
<line x1="323.81" y1="462.30" x2="314.90" y2="461.05" stroke="#404040" stroke-width="0.6"/>
<line x1="324.04" y1="460.81" x2="315.17" y2="459.31" stroke="#404040" stroke-width="0.6"/>
<line x1="324.27" y1="459.57" x2="315.43" y2="457.86" stroke="#404040" stroke-width="0.6"/>
<line x1="324.53" y1="458.31" x2="315.73" y2="456.40" stroke="#404040" stroke-width="0.6"/>
<line x1="324.79" y1="457.16" x2="316.04" y2="455.05" stroke="#404040" stroke-width="0.6"/>
<line x1="325.17" y1="455.66" x2="316.49" y2="453.30" stroke="#404040" stroke-width="0.6"/>
<line x1="325.55" y1="454.35" x2="316.93" y2="451.76" stroke="#404040" stroke-width="0.6"/>
<line x1="325.99" y1="452.95" x2="317.44" y2="450.14" stroke="#404040" stroke-width="0.6"/>
<line x1="326.40" y1="451.76" x2="317.92" y2="448.74" stroke="#404040" stroke-width="0.6"/>
<line x1="326.90" y1="450.41" x2="318.50" y2="447.17" stroke="#404040" stroke-width="0.6"/>
<line x1="327.44" y1="449.07" x2="319.13" y2="445.60" stroke="#404040" stroke-width="0.6"/>
<line x1="327.95" y1="447.89" x2="319.73" y2="444.22" stroke="#404040" stroke-width="0.6"/>
<line x1="328.67" y1="446.35" x2="320.57" y2="442.42" stroke="#404040" stroke-width="0.6"/>
<line x1="329.29" y1="445.10" x2="321.30" y2="440.96" stroke="#404040" stroke-width="0.6"/>
<line x1="354.20" y1="455.49" x2="346.66" y2="450.75" stroke="#404040" stroke-width="0.6"/>
<line x1="355.05" y1="454.21" x2="347.81" y2="449.04" stroke="#404040" stroke-width="0.6"/>
<line x1="356.25" y1="452.65" x2="349.40" y2="446.97" stroke="#404040" stroke-width="0.6"/>
<line x1="346.22" y1="451.48" x2="338.57" y2="446.93" stroke="#404040" stroke-width="0.6"/>
<line x1="346.92" y1="450.35" x2="339.45" y2="445.51" stroke="#404040" stroke-width="0.6"/>
<line x1="347.87" y1="448.95" x2="340.64" y2="443.76" stroke="#404040" stroke-width="0.6"/>
<line x1="348.59" y1="447.99" x2="341.53" y2="442.56" stroke="#404040" stroke-width="0.6"/>
<line x1="349.37" y1="447.01" x2="342.51" y2="441.34" stroke="#404040" stroke-width="0.6"/>
<line x1="338.47" y1="447.09" x2="330.72" y2="442.52" stroke="#404040" stroke-width="0.6"/>
<line x1="339.35" y1="445.67" x2="331.77" y2="440.81" stroke="#404040" stroke-width="0.6"/>
<line x1="340.39" y1="444.11" x2="333.03" y2="438.94" stroke="#404040" stroke-width="0.6"/>
<line x1="341.47" y1="442.65" x2="334.32" y2="437.17" stroke="#404040" stroke-width="0.6"/>
<line x1="342.68" y1="441.14" x2="335.78" y2="435.36" stroke="#404040" stroke-width="0.6"/>
<line x1="330.71" y1="442.53" x2="322.96" y2="437.96" stroke="#404040" stroke-width="0.6"/>
<line x1="331.82" y1="440.73" x2="324.26" y2="435.85" stroke="#404040" stroke-width="0.6"/>
<line x1="332.58" y1="439.59" x2="325.14" y2="434.52" stroke="#404040" stroke-width="0.6"/>
<line x1="333.62" y1="438.12" x2="326.35" y2="432.81" stroke="#404040" stroke-width="0.6"/>
<line x1="334.89" y1="436.45" x2="327.84" y2="430.85" stroke="#404040" stroke-width="0.6"/>
<line x1="336.17" y1="434.89" x2="329.34" y2="429.04" stroke="#404040" stroke-width="0.6"/>
<line x1="357.35" y1="451.41" x2="350.86" y2="445.32" stroke="#404040" stroke-width="0.6"/>
<line x1="358.63" y1="450.14" x2="352.57" y2="443.62" stroke="#404040" stroke-width="0.6"/>
<line x1="359.79" y1="449.12" x2="354.13" y2="442.26" stroke="#404040" stroke-width="0.6"/>
<line x1="361.02" y1="448.16" x2="355.77" y2="440.98" stroke="#404040" stroke-width="0.6"/>
<line x1="362.41" y1="447.21" x2="357.61" y2="439.71" stroke="#404040" stroke-width="0.6"/>
<line x1="363.87" y1="446.34" x2="359.56" y2="438.55" stroke="#404040" stroke-width="0.6"/>
<line x1="365.78" y1="445.38" x2="362.11" y2="437.27" stroke="#404040" stroke-width="0.6"/>
<line x1="366.96" y1="444.88" x2="363.68" y2="436.60" stroke="#404040" stroke-width="0.6"/>
<line x1="369.01" y1="444.16" x2="366.42" y2="435.65" stroke="#404040" stroke-width="0.6"/>
<line x1="370.41" y1="443.78" x2="368.28" y2="435.13" stroke="#404040" stroke-width="0.6"/>
<line x1="371.99" y1="443.44" x2="370.39" y2="434.68" stroke="#404040" stroke-width="0.6"/>
<line x1="350.57" y1="445.63" x2="344.01" y2="439.61" stroke="#404040" stroke-width="0.6"/>
<line x1="351.61" y1="444.54" x2="345.32" y2="438.25" stroke="#404040" stroke-width="0.6"/>
<line x1="352.85" y1="443.36" x2="346.87" y2="436.77" stroke="#404040" stroke-width="0.6"/>
<line x1="353.99" y1="442.37" x2="348.28" y2="435.54" stroke="#404040" stroke-width="0.6"/>
<line x1="354.94" y1="441.60" x2="349.47" y2="434.58" stroke="#404040" stroke-width="0.6"/>
<line x1="356.21" y1="440.66" x2="351.06" y2="433.40" stroke="#404040" stroke-width="0.6"/>
<line x1="357.50" y1="439.78" x2="352.68" y2="432.30" stroke="#404040" stroke-width="0.6"/>
<line x1="358.53" y1="439.14" x2="353.97" y2="431.50" stroke="#404040" stroke-width="0.6"/>
<line x1="359.73" y1="438.46" x2="355.46" y2="430.65" stroke="#404040" stroke-width="0.6"/>
<line x1="360.91" y1="437.84" x2="356.94" y2="429.88" stroke="#404040" stroke-width="0.6"/>
<line x1="362.73" y1="437.00" x2="359.21" y2="428.82" stroke="#404040" stroke-width="0.6"/>
<line x1="363.65" y1="436.62" x2="360.36" y2="428.35" stroke="#404040" stroke-width="0.6"/>
<line x1="365.17" y1="436.05" x2="362.27" y2="427.64" stroke="#404040" stroke-width="0.6"/>
<line x1="366.55" y1="435.61" x2="363.99" y2="427.08" stroke="#404040" stroke-width="0.6"/>
<line x1="368.29" y1="435.13" x2="366.17" y2="426.49" stroke="#404040" stroke-width="0.6"/>
<line x1="369.56" y1="434.84" x2="367.75" y2="426.13" stroke="#404040" stroke-width="0.6"/>
<line x1="370.61" y1="434.64" x2="369.07" y2="425.88" stroke="#404040" stroke-width="0.6"/>
<line x1="344.05" y1="439.57" x2="337.43" y2="433.48" stroke="#404040" stroke-width="0.6"/>
<line x1="345.43" y1="438.14" x2="339.08" y2="431.76" stroke="#404040" stroke-width="0.6"/>
<line x1="346.48" y1="437.12" x2="340.35" y2="430.54" stroke="#404040" stroke-width="0.6"/>
<line x1="347.85" y1="435.90" x2="342.00" y2="429.07" stroke="#404040" stroke-width="0.6"/>
<line x1="348.97" y1="434.98" x2="343.34" y2="427.96" stroke="#404040" stroke-width="0.6"/>
<line x1="350.31" y1="433.94" x2="344.96" y2="426.71" stroke="#404040" stroke-width="0.6"/>
<line x1="351.80" y1="432.88" x2="346.75" y2="425.44" stroke="#404040" stroke-width="0.6"/>
<line x1="353.17" y1="431.99" x2="348.39" y2="424.36" stroke="#404040" stroke-width="0.6"/>
<line x1="354.59" y1="431.14" x2="350.10" y2="423.34" stroke="#404040" stroke-width="0.6"/>
<line x1="356.18" y1="430.27" x2="352.01" y2="422.29" stroke="#404040" stroke-width="0.6"/>
<line x1="357.81" y1="429.46" x2="353.96" y2="421.32" stroke="#404040" stroke-width="0.6"/>
<line x1="359.51" y1="428.70" x2="356.02" y2="420.40" stroke="#404040" stroke-width="0.6"/>
<line x1="360.97" y1="428.11" x2="357.77" y2="419.70" stroke="#404040" stroke-width="0.6"/>
<line x1="362.47" y1="427.57" x2="359.57" y2="419.05" stroke="#404040" stroke-width="0.6"/>
<line x1="364.28" y1="427.00" x2="361.74" y2="418.36" stroke="#404040" stroke-width="0.6"/>
<line x1="365.86" y1="426.57" x2="363.64" y2="417.84" stroke="#404040" stroke-width="0.6"/>
<line x1="368.09" y1="426.06" x2="366.32" y2="417.24" stroke="#404040" stroke-width="0.6"/>
<line x1="369.70" y1="425.77" x2="368.26" y2="416.89" stroke="#404040" stroke-width="0.6"/>
<line x1="337.25" y1="433.67" x2="330.60" y2="427.61" stroke="#404040" stroke-width="0.6"/>
<line x1="338.48" y1="432.36" x2="332.04" y2="426.08" stroke="#404040" stroke-width="0.6"/>
<line x1="340.18" y1="430.70" x2="334.02" y2="424.14" stroke="#404040" stroke-width="0.6"/>
<line x1="341.43" y1="429.56" x2="335.48" y2="422.81" stroke="#404040" stroke-width="0.6"/>
<line x1="343.11" y1="428.14" x2="337.44" y2="421.15" stroke="#404040" stroke-width="0.6"/>
<line x1="344.49" y1="427.06" x2="339.05" y2="419.89" stroke="#404040" stroke-width="0.6"/>
<line x1="345.95" y1="425.99" x2="340.76" y2="418.64" stroke="#404040" stroke-width="0.6"/>
<line x1="347.54" y1="424.91" x2="342.62" y2="417.38" stroke="#404040" stroke-width="0.6"/>
<line x1="349.10" y1="423.93" x2="344.44" y2="416.23" stroke="#404040" stroke-width="0.6"/>
<line x1="350.28" y1="423.24" x2="345.82" y2="415.42" stroke="#404040" stroke-width="0.6"/>
<line x1="352.11" y1="422.24" x2="347.96" y2="414.25" stroke="#404040" stroke-width="0.6"/>
<line x1="353.68" y1="421.45" x2="349.80" y2="413.34" stroke="#404040" stroke-width="0.6"/>
<line x1="355.23" y1="420.74" x2="351.60" y2="412.51" stroke="#404040" stroke-width="0.6"/>
<line x1="357.09" y1="419.96" x2="353.77" y2="411.60" stroke="#404040" stroke-width="0.6"/>
<line x1="358.94" y1="419.27" x2="355.93" y2="410.79" stroke="#404040" stroke-width="0.6"/>
<line x1="361.02" y1="418.58" x2="358.37" y2="409.98" stroke="#404040" stroke-width="0.6"/>
<line x1="362.69" y1="418.09" x2="360.32" y2="409.41" stroke="#404040" stroke-width="0.6"/>
<line x1="364.24" y1="417.69" x2="362.13" y2="408.95" stroke="#404040" stroke-width="0.6"/>
<line x1="366.09" y1="417.28" x2="364.29" y2="408.46" stroke="#404040" stroke-width="0.6"/>
<line x1="367.94" y1="416.94" x2="366.45" y2="408.06" stroke="#404040" stroke-width="0.6"/>
<line x1="405.70" y1="424.68" x2="405.66" y2="414.26" stroke="#333" stroke-width="0.5"/>
<line x1="405.70" y1="424.68" x2="406.45" y2="414.68" stroke="#333" stroke-width="0.5"/>
<line x1="405.70" y1="424.68" x2="407.23" y2="415.11" stroke="#333" stroke-width="0.5"/>
<line x1="405.70" y1="424.68" x2="408.01" y2="415.55" stroke="#333" stroke-width="0.5"/>
<line x1="405.70" y1="424.68" x2="408.78" y2="416.00" stroke="#333" stroke-width="0.5"/>
<line x1="405.70" y1="424.68" x2="409.54" y2="416.46" stroke="#333" stroke-width="0.5"/>
<line x1="405.70" y1="424.68" x2="410.30" y2="416.93" stroke="#333" stroke-width="0.5"/>
<line x1="405.70" y1="424.68" x2="411.05" y2="417.42" stroke="#333" stroke-width="0.5"/>
<line x1="405.70" y1="424.68" x2="411.79" y2="417.91" stroke="#333" stroke-width="0.5"/>
<line x1="405.70" y1="424.68" x2="412.53" y2="418.42" stroke="#333" stroke-width="0.5"/>
<line x1="405.70" y1="424.68" x2="413.26" y2="418.93" stroke="#333" stroke-width="0.5"/>
<line x1="405.70" y1="424.68" x2="413.98" y2="419.46" stroke="#333" stroke-width="0.5"/>
<line x1="346.27" y1="425.77" x2="337.05" y2="421.47" stroke="#333" stroke-width="0.5"/>
<line x1="346.27" y1="425.77" x2="337.74" y2="420.91" stroke="#333" stroke-width="0.5"/>
<line x1="346.27" y1="425.77" x2="338.44" y2="420.36" stroke="#333" stroke-width="0.5"/>
<line x1="346.27" y1="425.77" x2="339.15" y2="419.82" stroke="#333" stroke-width="0.5"/>
<line x1="346.27" y1="425.77" x2="339.86" y2="419.28" stroke="#333" stroke-width="0.5"/>
<line x1="346.27" y1="425.77" x2="340.59" y2="418.76" stroke="#333" stroke-width="0.5"/>
<line x1="346.27" y1="425.77" x2="341.32" y2="418.25" stroke="#333" stroke-width="0.5"/>
<line x1="346.27" y1="425.77" x2="342.06" y2="417.75" stroke="#333" stroke-width="0.5"/>
<line x1="346.27" y1="425.77" x2="342.80" y2="417.26" stroke="#333" stroke-width="0.5"/>
<line x1="346.27" y1="425.77" x2="343.55" y2="416.78" stroke="#333" stroke-width="0.5"/>
<line x1="346.27" y1="425.77" x2="344.31" y2="416.31" stroke="#333" stroke-width="0.5"/>
<line x1="346.27" y1="425.77" x2="345.08" y2="415.85" stroke="#333" stroke-width="0.5"/>
<line x1="360.07" y1="463.61" x2="351.71" y2="460.57" stroke="#555" stroke-width="0.6"/>
<line x1="367.90" y1="454.28" x2="363.45" y2="446.58" stroke="#555" stroke-width="0.6"/>
<line x1="374.32" y1="452.07" x2="373.08" y2="443.26" stroke="#555" stroke-width="0.6"/>
<line x1="378.35" y1="451.97" x2="379.13" y2="443.10" stroke="#555" stroke-width="0.6"/>
<line x1="382.89" y1="452.97" x2="385.93" y2="444.61" stroke="#555" stroke-width="0.6"/>
<line x1="388.24" y1="456.06" x2="393.96" y2="449.25" stroke="#555" stroke-width="0.6"/>
<line x1="392.22" y1="460.80" x2="399.92" y2="456.35" stroke="#555" stroke-width="0.6"/>
<line x1="393.99" y1="465.09" x2="402.59" y2="462.79" stroke="#555" stroke-width="0.6"/>
<line x1="394.53" y1="471.25" x2="403.40" y2="472.03" stroke="#555" stroke-width="0.6"/>
<line x1="393.35" y1="476.25" x2="401.63" y2="479.53" stroke="#555" stroke-width="0.6"/>
<line x1="381.41" y1="486.89" x2="383.71" y2="495.49" stroke="#555" stroke-width="0.6"/>
<line x1="375.25" y1="487.43" x2="374.47" y2="496.30" stroke="#555" stroke-width="0.6"/>
<line x1="366.59" y1="484.28" x2="361.49" y2="491.57" stroke="#555" stroke-width="0.6"/>
<line x1="361.38" y1="478.60" x2="353.68" y2="483.05" stroke="#555" stroke-width="0.6"/>
<line x1="351.01" y1="476.61" x2="342.41" y2="478.91" stroke="#555" stroke-width="0.6"/>
<line x1="387.23" y1="445.12" x2="390.71" y2="436.93" stroke="#555" stroke-width="0.6"/>
<line x1="396.64" y1="451.83" x2="403.26" y2="445.88" stroke="#555" stroke-width="0.6"/>
<line x1="401.89" y1="460.57" x2="410.25" y2="457.52" stroke="#555" stroke-width="0.6"/>
<line x1="403.50" y1="469.70" x2="412.40" y2="469.70" stroke="#555" stroke-width="0.6"/>
<line x1="390.15" y1="492.82" x2="394.60" y2="500.53" stroke="#555" stroke-width="0.6"/>
<line x1="383.71" y1="495.49" x2="386.01" y2="504.09" stroke="#555" stroke-width="0.6"/>
<line x1="379.13" y1="496.30" x2="379.90" y2="505.16" stroke="#555" stroke-width="0.6"/>
<line x1="363.45" y1="492.82" x2="359.00" y2="500.53" stroke="#555" stroke-width="0.6"/>
<line x1="367.90" y1="469.54" x2="359.00" y2="469.39" stroke="#555" stroke-width="0.6"/>
<path d="M371.85,434.45 A35.6,35.6 0 0 1 395.82,439.61" fill="none" stroke="#bebe22" stroke-width="1.4" stroke-opacity="1.0"/>
<path d="M370.61,425.63 A44.5,44.5 0 0 1 400.58,432.09" fill="none" stroke="#bebe22" stroke-width="1.4" stroke-opacity="1.0"/>
<path d="M369.35,416.72 A53.5,53.5 0 0 1 405.39,424.48" fill="none" stroke="#bebe22" stroke-width="1.4" stroke-opacity="1.0"/>
<path d="M368.10,407.81 A62.5,62.5 0 0 1 410.20,416.87" fill="none" stroke="#bebe22" stroke-width="1.4" stroke-opacity="1.0"/>
<path d="M374.32,434.19 A35.6,35.6 0 0 1 384.20,434.88" fill="none" stroke="#bebe22" stroke-width="1.4" stroke-opacity="1.0"/>
<path d="M373.70,425.31 A44.5,44.5 0 0 1 386.05,426.17" fill="none" stroke="#bebe22" stroke-width="1.4" stroke-opacity="1.0"/>
<path d="M401.04,432.38 A44.5,44.5 0 0 1 414.54,446.12" fill="none" stroke="#bebe22" stroke-width="1.4" stroke-opacity="1.0"/>
<path d="M405.94,424.83 A53.5,53.5 0 0 1 422.17,441.35" fill="none" stroke="#bebe22" stroke-width="1.4" stroke-opacity="1.0"/>
<path d="M410.84,417.28 A62.5,62.5 0 0 1 429.80,436.58" fill="none" stroke="#bebe22" stroke-width="1.4" stroke-opacity="1.0"/>
<path d="M415.14,447.11 A44.5,44.5 0 0 1 420.87,463.51" fill="none" stroke="#bebe22" stroke-width="1.4" stroke-opacity="1.0"/>
<path d="M422.90,442.55 A53.5,53.5 0 0 1 429.78,462.25" fill="none" stroke="#bebe22" stroke-width="1.4" stroke-opacity="1.0"/>
<path d="M430.65,437.98 A62.5,62.5 0 0 1 438.69,461.00" fill="none" stroke="#bebe22" stroke-width="1.4" stroke-opacity="1.0"/>
<path d="M412.10,465.05 A35.6,35.6 0 0 1 412.38,470.94" fill="none" stroke="#bebe22" stroke-width="1.4" stroke-opacity="1.0"/>
<path d="M420.92,463.89 A44.5,44.5 0 0 1 421.27,471.25" fill="none" stroke="#bebe22" stroke-width="1.4" stroke-opacity="1.0"/>
<path d="M429.84,462.72 A53.5,53.5 0 0 1 430.27,471.57" fill="none" stroke="#bebe22" stroke-width="1.4" stroke-opacity="1.0"/>
<path d="M438.77,461.54 A62.5,62.5 0 0 1 439.26,471.88" fill="none" stroke="#bebe22" stroke-width="1.4" stroke-opacity="1.0"/>
<path d="M421.26,471.64 A44.5,44.5 0 0 1 411.14,498.01" fill="none" stroke="#bebe22" stroke-width="1.4" stroke-opacity="1.0"/>
<path d="M430.25,472.03 A53.5,53.5 0 0 1 418.08,503.73" fill="none" stroke="#bebe22" stroke-width="1.4" stroke-opacity="1.0"/>
<path d="M439.24,472.43 A62.5,62.5 0 0 1 425.03,509.45" fill="none" stroke="#bebe22" stroke-width="1.4" stroke-opacity="1.0"/>
<path d="M405.99,503.28 A44.5,44.5 0 0 1 370.99,513.82" fill="none" stroke="#bebe22" stroke-width="1.4" stroke-opacity="1.0"/>
<path d="M411.90,510.08 A53.5,53.5 0 0 1 369.82,522.74" fill="none" stroke="#bebe22" stroke-width="1.4" stroke-opacity="1.0"/>
<path d="M417.80,516.87 A62.5,62.5 0 0 1 368.64,531.67" fill="none" stroke="#bebe22" stroke-width="1.4" stroke-opacity="1.0"/>
<path d="M373.08,496.14 A26.7,26.7 0 0 1 366.80,494.46" fill="none" stroke="#bebe22" stroke-width="1.4" stroke-opacity="1.0"/>
<path d="M371.85,504.95 A35.6,35.6 0 0 1 363.46,502.71" fill="none" stroke="#bebe22" stroke-width="1.4" stroke-opacity="1.0"/>
<path d="M370.61,513.77 A44.5,44.5 0 0 1 360.13,510.96" fill="none" stroke="#bebe22" stroke-width="1.4" stroke-opacity="1.0"/>
<path d="M369.35,522.68 A53.5,53.5 0 0 1 356.76,519.30" fill="none" stroke="#bebe22" stroke-width="1.4" stroke-opacity="1.0"/>
<path d="M368.10,531.59 A62.5,62.5 0 0 1 353.39,527.65" fill="none" stroke="#bebe22" stroke-width="1.4" stroke-opacity="1.0"/>
<path d="M359.77,510.81 A44.5,44.5 0 0 1 345.44,501.28" fill="none" stroke="#bebe22" stroke-width="1.4" stroke-opacity="1.0"/>
<path d="M356.33,519.13 A53.5,53.5 0 0 1 339.10,507.66" fill="none" stroke="#bebe22" stroke-width="1.4" stroke-opacity="1.0"/>
<path d="M352.88,527.44 A62.5,62.5 0 0 1 332.76,514.05" fill="none" stroke="#bebe22" stroke-width="1.4" stroke-opacity="1.0"/>
<path d="M338.84,507.40 A53.5,53.5 0 0 1 324.32,480.09" fill="none" stroke="#bebe22" stroke-width="1.4" stroke-opacity="1.0"/>
<path d="M332.45,513.74 A62.5,62.5 0 0 1 315.49,481.84" fill="none" stroke="#bebe22" stroke-width="1.4" stroke-opacity="1.0"/>
<path d="M324.25,479.72 A53.5,53.5 0 0 1 329.56,444.58" fill="none" stroke="#bebe22" stroke-width="1.4" stroke-opacity="1.0"/>
<path d="M315.41,481.41 A62.5,62.5 0 0 1 321.62,440.36" fill="none" stroke="#bebe22" stroke-width="1.4" stroke-opacity="1.0"/>
<path d="M338.07,447.79 A44.5,44.5 0 0 1 343.32,440.39" fill="none" stroke="#bebe22" stroke-width="1.4" stroke-opacity="1.0"/>
<path d="M330.24,443.36 A53.5,53.5 0 0 1 336.55,434.46" fill="none" stroke="#bebe22" stroke-width="1.4" stroke-opacity="1.0"/>
<path d="M322.40,438.92 A62.5,62.5 0 0 1 329.77,428.53" fill="none" stroke="#bebe22" stroke-width="1.4" stroke-opacity="1.0"/>
<path d="M343.52,440.16 A44.5,44.5 0 0 1 370.30,425.68" fill="none" stroke="#bebe22" stroke-width="1.4" stroke-opacity="1.0"/>
<path d="M336.79,434.18 A53.5,53.5 0 0 1 368.98,416.77" fill="none" stroke="#bebe22" stroke-width="1.4" stroke-opacity="1.0"/>
<path d="M330.06,428.20 A62.5,62.5 0 0 1 367.67,407.87" fill="none" stroke="#bebe22" stroke-width="1.4" stroke-opacity="1.0"/>
<path d="M371.85,434.45 A35.6,35.6 0 0 1 395.82,439.61" fill="none" stroke="#333" stroke-width="0.8" stroke-opacity="1.0"/>
<path d="M374.94,443.07 A26.7,26.7 0 0 1 382.35,443.58" fill="none" stroke="#333" stroke-width="0.8" stroke-opacity="1.0"/>
<path d="M392.93,448.42 A26.7,26.7 0 0 1 398.36,453.94" fill="none" stroke="#333" stroke-width="0.8" stroke-opacity="1.0"/>
<path d="M391.34,447.31 A26.7,26.7 0 0 1 399.44,455.55" fill="none" stroke="#333" stroke-width="0.8" stroke-opacity="1.0"/>
<path d="M400.44,457.29 A26.7,26.7 0 0 1 403.03,464.69" fill="none" stroke="#333" stroke-width="0.8" stroke-opacity="1.0"/>
<path d="M399.81,456.15 A26.7,26.7 0 0 1 403.24,465.98" fill="none" stroke="#333" stroke-width="0.8" stroke-opacity="1.0"/>
<path d="M403.27,466.21 A26.7,26.7 0 0 1 403.48,470.63" fill="none" stroke="#333" stroke-width="0.8" stroke-opacity="1.0"/>
<path d="M403.42,471.73 A26.7,26.7 0 0 1 397.94,486.01" fill="none" stroke="#333" stroke-width="0.8" stroke-opacity="1.0"/>
<path d="M403.47,470.86 A26.7,26.7 0 0 1 397.40,486.68" fill="none" stroke="#333" stroke-width="0.8" stroke-opacity="1.0"/>
<path d="M393.53,490.51 A26.7,26.7 0 0 1 374.34,496.29" fill="none" stroke="#333" stroke-width="0.8" stroke-opacity="1.0"/>
<path d="M400.16,496.57 A35.6,35.6 0 0 1 372.15,505.00" fill="none" stroke="#333" stroke-width="0.8" stroke-opacity="1.0"/>
<path d="M374.32,487.33 A17.8,17.8 0 0 1 370.13,486.20" fill="none" stroke="#333" stroke-width="0.8" stroke-opacity="1.0"/>
<path d="M365.79,494.02 A26.7,26.7 0 0 1 358.61,489.25" fill="none" stroke="#333" stroke-width="0.8" stroke-opacity="1.0"/>
<path d="M363.18,502.59 A35.6,35.6 0 0 1 351.72,494.96" fill="none" stroke="#333" stroke-width="0.8" stroke-opacity="1.0"/>
<path d="M356.78,487.37 A26.7,26.7 0 0 1 350.96,476.41" fill="none" stroke="#333" stroke-width="0.8" stroke-opacity="1.0"/>
<path d="M350.34,493.52 A35.6,35.6 0 0 1 342.26,478.31" fill="none" stroke="#333" stroke-width="0.8" stroke-opacity="1.0"/>
<path d="M351.54,494.78 A35.6,35.6 0 0 1 341.88,476.61" fill="none" stroke="#333" stroke-width="0.8" stroke-opacity="1.0"/>
<path d="M350.29,472.92 A26.7,26.7 0 0 1 352.43,458.79" fill="none" stroke="#333" stroke-width="0.8" stroke-opacity="1.0"/>
<path d="M341.51,474.39 A35.6,35.6 0 0 1 344.47,454.79" fill="none" stroke="#333" stroke-width="0.8" stroke-opacity="1.0"/>
<path d="M341.83,476.37 A35.6,35.6 0 0 1 345.37,452.99" fill="none" stroke="#333" stroke-width="0.8" stroke-opacity="1.0"/>
<path d="M354.02,455.77 A26.7,26.7 0 0 1 356.12,452.81" fill="none" stroke="#333" stroke-width="0.8" stroke-opacity="1.0"/>
<path d="M345.82,452.17 A35.6,35.6 0 0 1 350.01,446.25" fill="none" stroke="#333" stroke-width="0.8" stroke-opacity="1.0"/>
<path d="M357.41,451.35 A26.7,26.7 0 0 1 372.06,443.42" fill="none" stroke="#333" stroke-width="0.8" stroke-opacity="1.0"/>
<path d="M356.83,451.97 A26.7,26.7 0 0 1 372.90,443.29" fill="none" stroke="#333" stroke-width="0.8" stroke-opacity="1.0"/>
<path d="M393.35,476.25 A17.8,17.8 0 1 1 394.40,467.04" fill="none" stroke="#222" stroke-width="1.15" stroke-opacity="1.0"/>
<path d="M371.25,495.82 A26.7,26.7 0 0 1 363.69,446.44" fill="none" stroke="#222" stroke-width="1.15" stroke-opacity="1.0"/>
<path d="M391.34,447.31 A26.7,26.7 0 0 1 401.89,460.57" fill="none" stroke="#222" stroke-width="1.0" stroke-opacity="1.0"/>
<path d="M385.49,494.95 A26.7,26.7 0 0 1 376.33,496.40" fill="none" stroke="#222" stroke-width="1.0" stroke-opacity="1.0"/>
<path d="M349.53,492.58 A35.6,35.6 0 0 1 345.37,452.99" fill="none" stroke="#222" stroke-width="1.0" stroke-opacity="1.0"/>
<path d="M338.26,491.95 A44.5,44.5 0 0 1 333.62,480.47" fill="none" stroke="#222" stroke-width="0.9" stroke-opacity="1.0"/>
<path d="M332.41,472.80 A44.5,44.5 0 0 1 334.98,454.48" fill="none" stroke="#222" stroke-width="0.9" stroke-opacity="1.0"/>
<path d="M398.72,497.75 A35.6,35.6 0 0 1 371.85,504.95" fill="none" stroke="#222" stroke-width="0.9" stroke-opacity="1.0"/>
<circle cx="390.04" cy="436.65" r="1.6113525064681915" fill="#c4c412" stroke="#9a9a08" stroke-width="0.3"/>
<circle cx="393.34" cy="438.18" r="1.5855737844893139" fill="#c4c412" stroke="#9a9a08" stroke-width="0.3"/>
<circle cx="374.39" cy="434.18" r="1.242087512375753" fill="#c4c412" stroke="#9a9a08" stroke-width="0.3"/>
<circle cx="379.34" cy="434.19" r="1.2487348595671106" fill="#c4c412" stroke="#9a9a08" stroke-width="0.3"/>
<circle cx="384.18" cy="434.87" r="1.1334488698991658" fill="#c4c412" stroke="#9a9a08" stroke-width="0.3"/>
<circle cx="390.38" cy="436.79" r="1.3487074924968598" fill="#c4c412" stroke="#9a9a08" stroke-width="0.3"/>
<circle cx="394.48" cy="438.80" r="1.2623428864493849" fill="#c4c412" stroke="#9a9a08" stroke-width="0.3"/>
<circle cx="374.50" cy="425.26" r="1.2910234509246215" fill="#c4c412" stroke="#9a9a08" stroke-width="0.3"/>
<circle cx="377.87" cy="425.21" r="1.3154595338246913" fill="#c4c412" stroke="#9a9a08" stroke-width="0.3"/>
<circle cx="382.81" cy="425.61" r="1.1682823911216165" fill="#c4c412" stroke="#9a9a08" stroke-width="0.3"/>
<circle cx="389.64" cy="427.09" r="1.2425506969771383" fill="#c4c412" stroke="#9a9a08" stroke-width="0.3"/>
<circle cx="392.61" cy="428.10" r="1.3467905092530519" fill="#c4c412" stroke="#9a9a08" stroke-width="0.3"/>
<circle cx="397.64" cy="430.38" r="1.1274832673584863" fill="#c4c412" stroke="#9a9a08" stroke-width="0.3"/>
<circle cx="372.84" cy="416.35" r="1.1111936638109055" fill="#c4c412" stroke="#9a9a08" stroke-width="0.3"/>
<circle cx="375.05" cy="416.23" r="1.1307581784086524" fill="#c4c412" stroke="#9a9a08" stroke-width="0.3"/>
<circle cx="380.94" cy="416.36" r="1.0681366727797645" fill="#c4c412" stroke="#9a9a08" stroke-width="0.3"/>
<circle cx="384.87" cy="416.81" r="1.160635611111679" fill="#c4c412" stroke="#9a9a08" stroke-width="0.3"/>
<circle cx="390.54" cy="417.99" r="1.0894735561881783" fill="#c4c412" stroke="#9a9a08" stroke-width="0.3"/>
<circle cx="394.48" cy="419.21" r="1.317282068990944" fill="#c4c412" stroke="#9a9a08" stroke-width="0.3"/>
<circle cx="400.39" cy="421.68" r="1.2470796139528717" fill="#c4c412" stroke="#9a9a08" stroke-width="0.3"/>
<circle cx="403.83" cy="423.53" r="1.2253320804540537" fill="#c4c412" stroke="#9a9a08" stroke-width="0.3"/>
<circle cx="368.75" cy="407.72" r="1.4071576788270261" fill="#c4c412" stroke="#9a9a08" stroke-width="0.3"/>
<circle cx="372.99" cy="407.32" r="1.6544738086308053" fill="#c4c412" stroke="#9a9a08" stroke-width="0.3"/>
<circle cx="370.84" cy="407.48" r="1.326139282032022" fill="#c4c412" stroke="#9a9a08" stroke-width="0.3"/>
<circle cx="374.73" cy="407.23" r="1.0533921615063058" fill="#c4c412" stroke="#9a9a08" stroke-width="0.3"/>
<circle cx="379.73" cy="407.27" r="1.2534410937393266" fill="#c4c412" stroke="#9a9a08" stroke-width="0.3"/>
<circle cx="384.33" cy="407.66" r="1.1008821459571376" fill="#c4c412" stroke="#9a9a08" stroke-width="0.3"/>
<circle cx="391.05" cy="408.85" r="1.247997001402754" fill="#c4c412" stroke="#9a9a08" stroke-width="0.3"/>
<circle cx="394.53" cy="409.77" r="1.3175180760953211" fill="#c4c412" stroke="#9a9a08" stroke-width="0.3"/>
<circle cx="398.86" cy="411.22" r="1.2497697187601016" fill="#c4c412" stroke="#9a9a08" stroke-width="0.3"/>
<circle cx="403.04" cy="412.97" r="1.1792685847067395" fill="#c4c412" stroke="#9a9a08" stroke-width="0.3"/>
<circle cx="408.84" cy="416.03" r="1.3242663596577016" fill="#c4c412" stroke="#9a9a08" stroke-width="0.3"/>
<circle cx="384.29" cy="434.90" r="1.8" fill="#c4c412" stroke="#9a9a08" stroke-width="0.3"/>
<circle cx="375.63" cy="434.12" r="1.0594457327085518" fill="#c4c412" stroke="#9a9a08" stroke-width="0.3"/>
<circle cx="382.77" cy="434.60" r="1.0624465197583766" fill="#c4c412" stroke="#9a9a08" stroke-width="0.3"/>
<circle cx="378.02" cy="425.22" r="1.7318673737836257" fill="#c4c412" stroke="#9a9a08" stroke-width="0.3"/>
<circle cx="375.91" cy="425.21" r="1.0532300004848487" fill="#c4c412" stroke="#9a9a08" stroke-width="0.3"/>
<circle cx="382.92" cy="425.62" r="1.2642512866173126" fill="#c4c412" stroke="#9a9a08" stroke-width="0.3"/>
<circle cx="378.66" cy="443.07" r="1.8" fill="#c4c412" stroke="#9a9a08" stroke-width="0.3"/>
<circle cx="397.77" cy="440.93" r="1.5382958130231175" fill="#c4c412" stroke="#9a9a08" stroke-width="0.3"/>
<circle cx="403.35" cy="433.99" r="1.265298586614767" fill="#c4c412" stroke="#9a9a08" stroke-width="0.3"/>
<circle cx="406.20" cy="436.30" r="1.3199951210399476" fill="#c4c412" stroke="#9a9a08" stroke-width="0.3"/>
<circle cx="411.05" cy="441.29" r="1.3432075567018784" fill="#c4c412" stroke="#9a9a08" stroke-width="0.3"/>
<circle cx="413.26" cy="444.18" r="1.2872361390268874" fill="#c4c412" stroke="#9a9a08" stroke-width="0.3"/>
<circle cx="413.43" cy="430.71" r="1.723656063877192" fill="#c4c412" stroke="#9a9a08" stroke-width="0.3"/>
<circle cx="407.85" cy="426.13" r="1.3347463124000947" fill="#c4c412" stroke="#9a9a08" stroke-width="0.3"/>
<circle cx="410.67" cy="428.29" r="1.116424250094791" fill="#c4c412" stroke="#9a9a08" stroke-width="0.3"/>
<circle cx="415.01" cy="432.25" r="1.137050903211146" fill="#c4c412" stroke="#9a9a08" stroke-width="0.3"/>
<circle cx="418.48" cy="436.16" r="1.241661342600771" fill="#c4c412" stroke="#9a9a08" stroke-width="0.3"/>
<circle cx="420.93" cy="439.45" r="1.3030870197129518" fill="#c4c412" stroke="#9a9a08" stroke-width="0.3"/>
<circle cx="412.90" cy="418.68" r="1.3370595234641303" fill="#c4c412" stroke="#9a9a08" stroke-width="0.3"/>
<circle cx="418.27" cy="422.94" r="1.1307641370138768" fill="#c4c412" stroke="#9a9a08" stroke-width="0.3"/>
<circle cx="421.33" cy="425.84" r="1.0880902767323275" fill="#c4c412" stroke="#9a9a08" stroke-width="0.3"/>
<circle cx="424.91" cy="429.80" r="1.294715116774342" fill="#c4c412" stroke="#9a9a08" stroke-width="0.3"/>
<circle cx="428.93" cy="435.22" r="1.192959814947058" fill="#c4c412" stroke="#9a9a08" stroke-width="0.3"/>
<circle cx="395.84" cy="450.99" r="1.8" fill="#c4c412" stroke="#9a9a08" stroke-width="0.3"/>
<circle cx="408.20" cy="452.93" r="1.647157952277107" fill="#c4c412" stroke="#9a9a08" stroke-width="0.3"/>
<circle cx="410.01" cy="456.88" r="1.7117155372419366" fill="#c4c412" stroke="#9a9a08" stroke-width="0.3"/>
<circle cx="410.75" cy="458.99" r="1.4909037292356273" fill="#c4c412" stroke="#9a9a08" stroke-width="0.3"/>
<circle cx="416.96" cy="450.54" r="1.2335133424102769" fill="#c4c412" stroke="#9a9a08" stroke-width="0.3"/>
<circle cx="419.13" cy="455.96" r="1.1197975179139306" fill="#c4c412" stroke="#9a9a08" stroke-width="0.3"/>
<circle cx="420.50" cy="461.29" r="1.2931524738988187" fill="#c4c412" stroke="#9a9a08" stroke-width="0.3"/>
<circle cx="424.41" cy="445.29" r="1.3234118919543343" fill="#c4c412" stroke="#9a9a08" stroke-width="0.3"/>
<circle cx="426.85" cy="450.81" r="1.0846230731264763" fill="#c4c412" stroke="#9a9a08" stroke-width="0.3"/>
<circle cx="428.12" cy="454.58" r="1.2774463296163758" fill="#c4c412" stroke="#9a9a08" stroke-width="0.3"/>
<circle cx="429.35" cy="459.67" r="1.255704789235329" fill="#c4c412" stroke="#9a9a08" stroke-width="0.3"/>
<circle cx="432.11" cy="440.60" r="1.6206686008374793" fill="#c4c412" stroke="#9a9a08" stroke-width="0.3"/>
<circle cx="431.21" cy="438.94" r="1.2603090272267408" fill="#c4c412" stroke="#9a9a08" stroke-width="0.3"/>
<circle cx="434.38" cy="445.40" r="1.1043807560383287" fill="#c4c412" stroke="#9a9a08" stroke-width="0.3"/>
<circle cx="435.76" cy="448.97" r="1.2718002707590026" fill="#c4c412" stroke="#9a9a08" stroke-width="0.3"/>
<circle cx="437.17" cy="453.53" r="1.10853777141468" fill="#c4c412" stroke="#9a9a08" stroke-width="0.3"/>
<circle cx="438.13" cy="457.67" r="1.2037682394512352" fill="#c4c412" stroke="#9a9a08" stroke-width="0.3"/>
<circle cx="402.01" cy="460.90" r="1.8" fill="#c4c412" stroke="#9a9a08" stroke-width="0.3"/>
<circle cx="412.39" cy="468.76" r="1.2943925163160168" fill="#c4c412" stroke="#9a9a08" stroke-width="0.3"/>
<circle cx="421.29" cy="470.62" r="1.5422548740821453" fill="#c4c412" stroke="#9a9a08" stroke-width="0.3"/>
<circle cx="421.27" cy="467.95" r="1.2372060836469454" fill="#c4c412" stroke="#9a9a08" stroke-width="0.3"/>
<circle cx="430.29" cy="468.46" r="1.0568461532475844" fill="#c4c412" stroke="#9a9a08" stroke-width="0.3"/>
<circle cx="439.15" cy="465.40" r="1.2203935522877831" fill="#c4c412" stroke="#9a9a08" stroke-width="0.3"/>
<circle cx="439.29" cy="470.66" r="1.2414037796356023" fill="#c4c412" stroke="#9a9a08" stroke-width="0.3"/>
<circle cx="403.47" cy="468.42" r="1.8" fill="#c4c412" stroke="#9a9a08" stroke-width="0.3"/>
<circle cx="412.27" cy="472.68" r="1.6390146335018552" fill="#c4c412" stroke="#9a9a08" stroke-width="0.3"/>
<circle cx="412.02" cy="474.92" r="1.7720615325528482" fill="#c4c412" stroke="#9a9a08" stroke-width="0.3"/>
<circle cx="410.40" cy="481.47" r="1.7781093641952668" fill="#c4c412" stroke="#9a9a08" stroke-width="0.3"/>
<circle cx="406.30" cy="489.63" r="1.68664071186706" fill="#c4c412" stroke="#9a9a08" stroke-width="0.3"/>
<circle cx="405.10" cy="491.30" r="1.4980091261440753" fill="#c4c412" stroke="#9a9a08" stroke-width="0.3"/>
<circle cx="421.04" cy="474.49" r="1.1866660295450338" fill="#c4c412" stroke="#9a9a08" stroke-width="0.3"/>
<circle cx="420.50" cy="478.12" r="1.224670995806172" fill="#c4c412" stroke="#9a9a08" stroke-width="0.3"/>
<circle cx="419.21" cy="483.18" r="1.2833900252220038" fill="#c4c412" stroke="#9a9a08" stroke-width="0.3"/>
<circle cx="417.39" cy="487.94" r="1.3492903772077862" fill="#c4c412" stroke="#9a9a08" stroke-width="0.3"/>
<circle cx="414.60" cy="493.19" r="1.2702854122121743" fill="#c4c412" stroke="#9a9a08" stroke-width="0.3"/>
<circle cx="413.03" cy="495.53" r="1.0841605659640174" fill="#c4c412" stroke="#9a9a08" stroke-width="0.3"/>
<circle cx="427.34" cy="487.25" r="1.4243147403284184" fill="#c4c412" stroke="#9a9a08" stroke-width="0.3"/>
<circle cx="430.00" cy="475.34" r="1.2371197406306624" fill="#c4c412" stroke="#9a9a08" stroke-width="0.3"/>
<circle cx="429.28" cy="480.11" r="1.1139493959643065" fill="#c4c412" stroke="#9a9a08" stroke-width="0.3"/>
<circle cx="428.36" cy="483.99" r="1.1274216735142297" fill="#c4c412" stroke="#9a9a08" stroke-width="0.3"/>
<circle cx="426.43" cy="489.67" r="1.1606849986764787" fill="#c4c412" stroke="#9a9a08" stroke-width="0.3"/>
<circle cx="424.58" cy="493.77" r="1.3467541730329162" fill="#c4c412" stroke="#9a9a08" stroke-width="0.3"/>
<circle cx="422.63" cy="497.30" r="1.2145840415931906" fill="#c4c412" stroke="#9a9a08" stroke-width="0.3"/>
<circle cx="419.20" cy="502.33" r="1.3262475084897893" fill="#c4c412" stroke="#9a9a08" stroke-width="0.3"/>
<circle cx="439.13" cy="474.25" r="1.1585082624000098" fill="#c4c412" stroke="#9a9a08" stroke-width="0.3"/>
<circle cx="438.51" cy="479.58" r="1.158993534021835" fill="#c4c412" stroke="#9a9a08" stroke-width="0.3"/>
<circle cx="437.50" cy="484.61" r="1.1662739637407593" fill="#c4c412" stroke="#9a9a08" stroke-width="0.3"/>
<circle cx="436.27" cy="488.93" r="1.2191414066439439" fill="#c4c412" stroke="#9a9a08" stroke-width="0.3"/>
<circle cx="433.87" cy="495.18" r="1.2121684360983667" fill="#c4c412" stroke="#9a9a08" stroke-width="0.3"/>
<circle cx="431.58" cy="499.80" r="1.218833761313457" fill="#c4c412" stroke="#9a9a08" stroke-width="0.3"/>
<circle cx="429.95" cy="502.58" r="1.277684206041029" fill="#c4c412" stroke="#9a9a08" stroke-width="0.3"/>
<circle cx="425.95" cy="508.31" r="1.1344364825156006" fill="#c4c412" stroke="#9a9a08" stroke-width="0.3"/>
<circle cx="401.73" cy="479.27" r="1.8" fill="#c4c412" stroke="#9a9a08" stroke-width="0.3"/>
<circle cx="391.86" cy="501.96" r="1.6187264362140734" fill="#c4c412" stroke="#9a9a08" stroke-width="0.3"/>
<circle cx="389.36" cy="503.01" r="1.4326690413762455" fill="#c4c412" stroke="#9a9a08" stroke-width="0.3"/>
<circle cx="378.82" cy="505.24" r="1.4881799384624028" fill="#c4c412" stroke="#9a9a08" stroke-width="0.3"/>
<circle cx="403.28" cy="505.47" r="1.0609123937321094" fill="#c4c412" stroke="#9a9a08" stroke-width="0.3"/>
<circle cx="401.23" cy="506.89" r="1.1053620264514987" fill="#c4c412" stroke="#9a9a08" stroke-width="0.3"/>
<circle cx="396.90" cy="509.40" r="1.1206226362288587" fill="#c4c412" stroke="#9a9a08" stroke-width="0.3"/>
<circle cx="391.29" cy="511.77" r="1.228435815517478" fill="#c4c412" stroke="#9a9a08" stroke-width="0.3"/>
<circle cx="388.09" cy="512.74" r="1.1054961112764201" fill="#c4c412" stroke="#9a9a08" stroke-width="0.3"/>
<circle cx="383.33" cy="513.72" r="1.1017540095240137" fill="#c4c412" stroke="#9a9a08" stroke-width="0.3"/>
<circle cx="377.33" cy="514.20" r="1.143519018501243" fill="#c4c412" stroke="#9a9a08" stroke-width="0.3"/>
<circle cx="373.20" cy="514.05" r="1.2951385182523965" fill="#c4c412" stroke="#9a9a08" stroke-width="0.3"/>
<circle cx="395.35" cy="519.88" r="1.5890584018982317" fill="#c4c412" stroke="#9a9a08" stroke-width="0.3"/>
<circle cx="410.01" cy="511.65" r="1.1905991168682104" fill="#c4c412" stroke="#9a9a08" stroke-width="0.3"/>
<circle cx="404.81" cy="515.28" r="1.2259900388346814" fill="#c4c412" stroke="#9a9a08" stroke-width="0.3"/>
<circle cx="400.65" cy="517.59" r="1.1410782337614105" fill="#c4c412" stroke="#9a9a08" stroke-width="0.3"/>
<circle cx="396.22" cy="519.55" r="1.1750911500895107" fill="#c4c412" stroke="#9a9a08" stroke-width="0.3"/>
<circle cx="391.11" cy="521.25" r="1.077283595013807" fill="#c4c412" stroke="#9a9a08" stroke-width="0.3"/>
<circle cx="386.45" cy="522.32" r="1.1125224911508453" fill="#c4c412" stroke="#9a9a08" stroke-width="0.3"/>
<circle cx="382.25" cy="522.92" r="1.2077018324155728" fill="#c4c412" stroke="#9a9a08" stroke-width="0.3"/>
<circle cx="378.29" cy="523.18" r="1.299602736452075" fill="#c4c412" stroke="#9a9a08" stroke-width="0.3"/>
<circle cx="372.84" cy="523.05" r="1.1432240040722372" fill="#c4c412" stroke="#9a9a08" stroke-width="0.3"/>
<circle cx="416.83" cy="517.69" r="1.1179748923309705" fill="#c4c412" stroke="#9a9a08" stroke-width="0.3"/>
<circle cx="412.88" cy="520.74" r="1.087232450620416" fill="#c4c412" stroke="#9a9a08" stroke-width="0.3"/>
<circle cx="408.25" cy="523.71" r="1.0718047529645007" fill="#c4c412" stroke="#9a9a08" stroke-width="0.3"/>
<circle cx="402.72" cy="526.57" r="1.178103811130442" fill="#c4c412" stroke="#9a9a08" stroke-width="0.3"/>
<circle cx="399.33" cy="528.00" r="1.2441742618503866" fill="#c4c412" stroke="#9a9a08" stroke-width="0.3"/>
<circle cx="394.11" cy="529.76" r="1.2963323876812776" fill="#c4c412" stroke="#9a9a08" stroke-width="0.3"/>
<circle cx="390.47" cy="530.69" r="1.1494231535225912" fill="#c4c412" stroke="#9a9a08" stroke-width="0.3"/>
<circle cx="385.66" cy="531.57" r="1.0546276436603181" fill="#c4c412" stroke="#9a9a08" stroke-width="0.3"/>
<circle cx="380.91" cy="532.06" r="1.2599642052897129" fill="#c4c412" stroke="#9a9a08" stroke-width="0.3"/>
<circle cx="374.50" cy="532.16" r="1.2869013039284602" fill="#c4c412" stroke="#9a9a08" stroke-width="0.3"/>
<circle cx="370.59" cy="531.89" r="1.2325812075955245" fill="#c4c412" stroke="#9a9a08" stroke-width="0.3"/>
<circle cx="387.06" cy="503.79" r="1.8" fill="#c4c412" stroke="#9a9a08" stroke-width="0.3"/>
<circle cx="370.70" cy="495.69" r="1.3334671363831498" fill="#c4c412" stroke="#9a9a08" stroke-width="0.3"/>
<circle cx="367.43" cy="504.04" r="1.1293104063761263" fill="#c4c412" stroke="#9a9a08" stroke-width="0.3"/>
<circle cx="366.62" cy="513.02" r="1.331833391634051" fill="#c4c412" stroke="#9a9a08" stroke-width="0.3"/>
<circle cx="362.27" cy="511.76" r="1.1422948898884029" fill="#c4c412" stroke="#9a9a08" stroke-width="0.3"/>
<circle cx="365.14" cy="521.91" r="1.4798138392329387" fill="#c4c412" stroke="#9a9a08" stroke-width="0.3"/>
<circle cx="367.39" cy="522.37" r="1.2512983779329994" fill="#c4c412" stroke="#9a9a08" stroke-width="0.3"/>
<circle cx="360.76" cy="520.74" r="1.337799072632683" fill="#c4c412" stroke="#9a9a08" stroke-width="0.3"/>
<circle cx="365.52" cy="531.17" r="1.1796673880972346" fill="#c4c412" stroke="#9a9a08" stroke-width="0.3"/>
<circle cx="359.55" cy="529.77" r="1.146207115591891" fill="#c4c412" stroke="#9a9a08" stroke-width="0.3"/>
<circle cx="356.93" cy="528.96" r="1.2676748639707471" fill="#c4c412" stroke="#9a9a08" stroke-width="0.3"/>
<circle cx="372.19" cy="486.89" r="1.8" fill="#c4c412" stroke="#9a9a08" stroke-width="0.3"/>
<circle cx="356.45" cy="498.91" r="1.5787833966086713" fill="#c4c412" stroke="#9a9a08" stroke-width="0.3"/>
<circle cx="358.08" cy="510.07" r="1.2112769914624555" fill="#c4c412" stroke="#9a9a08" stroke-width="0.3"/>
<circle cx="351.12" cy="506.04" r="1.0501729740860453" fill="#c4c412" stroke="#9a9a08" stroke-width="0.3"/>
<circle cx="348.09" cy="503.70" r="1.1397802480099894" fill="#c4c412" stroke="#9a9a08" stroke-width="0.3"/>
<circle cx="353.11" cy="517.67" r="1.1562462037041699" fill="#c4c412" stroke="#9a9a08" stroke-width="0.3"/>
<circle cx="349.42" cy="515.66" r="1.1015656530157734" fill="#c4c412" stroke="#9a9a08" stroke-width="0.3"/>
<circle cx="344.19" cy="512.11" r="1.3486212228830825" fill="#c4c412" stroke="#9a9a08" stroke-width="0.3"/>
<circle cx="341.61" cy="510.00" r="1.2397182589088764" fill="#c4c412" stroke="#9a9a08" stroke-width="0.3"/>
<circle cx="350.97" cy="526.61" r="1.2486026321152037" fill="#c4c412" stroke="#9a9a08" stroke-width="0.3"/>
<circle cx="345.40" cy="523.74" r="1.2269701246527869" fill="#c4c412" stroke="#9a9a08" stroke-width="0.3"/>
<circle cx="342.79" cy="522.14" r="1.1402802181887979" fill="#c4c412" stroke="#9a9a08" stroke-width="0.3"/>
<circle cx="337.31" cy="518.14" r="1.2501100440903419" fill="#c4c412" stroke="#9a9a08" stroke-width="0.3"/>
<circle cx="334.97" cy="516.14" r="1.241979058089407" fill="#c4c412" stroke="#9a9a08" stroke-width="0.3"/>
<circle cx="357.07" cy="499.33" r="1.8" fill="#c4c412" stroke="#9a9a08" stroke-width="0.3"/>
<circle cx="345.34" cy="486.37" r="1.6398798691825918" fill="#c4c412" stroke="#9a9a08" stroke-width="0.3"/>
<circle cx="343.76" cy="482.95" r="1.721288450266608" fill="#c4c412" stroke="#9a9a08" stroke-width="0.3"/>
<circle cx="342.52" cy="479.32" r="1.702272540895704" fill="#c4c412" stroke="#9a9a08" stroke-width="0.3"/>
<circle cx="344.03" cy="499.80" r="1.6192418903971544" fill="#c4c412" stroke="#9a9a08" stroke-width="0.3"/>
<circle cx="338.15" cy="491.75" r="1.5846529213083085" fill="#c4c412" stroke="#9a9a08" stroke-width="0.3"/>
<circle cx="337.91" cy="506.44" r="1.2290484688519683" fill="#c4c412" stroke="#9a9a08" stroke-width="0.3"/>
<circle cx="333.39" cy="500.97" r="1.2217920954116726" fill="#c4c412" stroke="#9a9a08" stroke-width="0.3"/>
<circle cx="330.33" cy="496.21" r="1.1040111496859524" fill="#c4c412" stroke="#9a9a08" stroke-width="0.3"/>
<circle cx="328.81" cy="493.35" r="1.0553366048825235" fill="#c4c412" stroke="#9a9a08" stroke-width="0.3"/>
<circle cx="326.40" cy="487.66" r="1.1803909119301597" fill="#c4c412" stroke="#9a9a08" stroke-width="0.3"/>
<circle cx="324.93" cy="482.80" r="1.1288836572840932" fill="#c4c412" stroke="#9a9a08" stroke-width="0.3"/>
<circle cx="317.33" cy="488.93" r="1.4962477875049598" fill="#c4c412" stroke="#9a9a08" stroke-width="0.3"/>
<circle cx="330.16" cy="511.30" r="1.2702186441699852" fill="#c4c412" stroke="#9a9a08" stroke-width="0.3"/>
<circle cx="327.74" cy="508.42" r="1.12596269649009" fill="#c4c412" stroke="#9a9a08" stroke-width="0.3"/>
<circle cx="324.19" cy="503.44" r="1.12250468377398" fill="#c4c412" stroke="#9a9a08" stroke-width="0.3"/>
<circle cx="321.67" cy="499.14" r="1.329735913635576" fill="#c4c412" stroke="#9a9a08" stroke-width="0.3"/>
<circle cx="319.50" cy="494.67" r="1.151113774507671" fill="#c4c412" stroke="#9a9a08" stroke-width="0.3"/>
<circle cx="317.09" cy="488.16" r="1.2332681005112631" fill="#c4c412" stroke="#9a9a08" stroke-width="0.3"/>
<circle cx="316.36" cy="485.63" r="1.1709151236382769" fill="#c4c412" stroke="#9a9a08" stroke-width="0.3"/>
<circle cx="345.37" cy="486.41" r="1.8" fill="#c4c412" stroke="#9a9a08" stroke-width="0.3"/>
<circle cx="341.43" cy="473.70" r="1.537280820510994" fill="#c4c412" stroke="#9a9a08" stroke-width="0.3"/>
<circle cx="332.62" cy="475.00" r="1.5389648295834348" fill="#c4c412" stroke="#9a9a08" stroke-width="0.3"/>
<circle cx="332.44" cy="466.21" r="1.4857814836319898" fill="#c4c412" stroke="#9a9a08" stroke-width="0.3"/>
<circle cx="323.73" cy="476.43" r="1.205790133034931" fill="#c4c412" stroke="#9a9a08" stroke-width="0.3"/>
<circle cx="323.42" cy="473.25" r="1.1681917382953693" fill="#c4c412" stroke="#9a9a08" stroke-width="0.3"/>
<circle cx="323.34" cy="467.57" r="1.0622470695996158" fill="#c4c412" stroke="#9a9a08" stroke-width="0.3"/>
<circle cx="323.77" cy="462.65" r="1.2286175656191398" fill="#c4c412" stroke="#9a9a08" stroke-width="0.3"/>
<circle cx="324.62" cy="457.88" r="1.1436840051651376" fill="#c4c412" stroke="#9a9a08" stroke-width="0.3"/>
<circle cx="326.36" cy="451.88" r="1.213196078749035" fill="#c4c412" stroke="#9a9a08" stroke-width="0.3"/>
<circle cx="327.98" cy="447.81" r="1.2619819712969942" fill="#c4c412" stroke="#9a9a08" stroke-width="0.3"/>
<circle cx="314.30" cy="469.57" r="1.6521575882518929" fill="#c4c412" stroke="#9a9a08" stroke-width="0.3"/>
<circle cx="321.30" cy="440.96" r="1.5565486047278059" fill="#c4c412" stroke="#9a9a08" stroke-width="0.3"/>
<circle cx="315.07" cy="479.46" r="1.0688814861605023" fill="#c4c412" stroke="#9a9a08" stroke-width="0.3"/>
<circle cx="314.50" cy="474.69" r="1.066385787823444" fill="#c4c412" stroke="#9a9a08" stroke-width="0.3"/>
<circle cx="314.30" cy="469.74" r="1.2257648064940978" fill="#c4c412" stroke="#9a9a08" stroke-width="0.3"/>
<circle cx="314.47" cy="465.11" r="1.1476594445543344" fill="#c4c412" stroke="#9a9a08" stroke-width="0.3"/>
<circle cx="314.90" cy="461.03" r="1.0570578710034917" fill="#c4c412" stroke="#9a9a08" stroke-width="0.3"/>
<circle cx="315.79" cy="456.15" r="1.3175285906492278" fill="#c4c412" stroke="#9a9a08" stroke-width="0.3"/>
<circle cx="317.16" cy="451.02" r="1.1285695079307894" fill="#c4c412" stroke="#9a9a08" stroke-width="0.3"/>
<circle cx="318.83" cy="446.33" r="1.1058012522212843" fill="#c4c412" stroke="#9a9a08" stroke-width="0.3"/>
<circle cx="320.51" cy="442.53" r="1.2345775820496065" fill="#c4c412" stroke="#9a9a08" stroke-width="0.3"/>
<circle cx="341.60" cy="464.38" r="1.8" fill="#c4c412" stroke="#9a9a08" stroke-width="0.3"/>
<circle cx="340.52" cy="443.94" r="1.1425822231807585" fill="#c4c412" stroke="#9a9a08" stroke-width="0.3"/>
<circle cx="334.32" cy="437.17" r="1.6175249397152425" fill="#c4c412" stroke="#9a9a08" stroke-width="0.3"/>
<circle cx="331.63" cy="441.03" r="1.2450504089116003" fill="#c4c412" stroke="#9a9a08" stroke-width="0.3"/>
<circle cx="334.88" cy="436.46" r="1.2373160403001353" fill="#c4c412" stroke="#9a9a08" stroke-width="0.3"/>
<circle cx="323.55" cy="436.98" r="1.2364838555960207" fill="#c4c412" stroke="#9a9a08" stroke-width="0.3"/>
<circle cx="327.72" cy="431.01" r="1.2191446586556984" fill="#c4c412" stroke="#9a9a08" stroke-width="0.3"/>
<circle cx="347.76" cy="449.10" r="1.8" fill="#c4c412" stroke="#9a9a08" stroke-width="0.3"/>
<circle cx="350.86" cy="445.32" r="1.6995865096688991" fill="#c4c412" stroke="#9a9a08" stroke-width="0.3"/>
<circle cx="352.57" cy="443.62" r="1.4997209857768452" fill="#c4c412" stroke="#9a9a08" stroke-width="0.3"/>
<circle cx="354.13" cy="442.26" r="1.6054975799844216" fill="#c4c412" stroke="#9a9a08" stroke-width="0.3"/>
<circle cx="355.77" cy="440.98" r="1.4274707013900103" fill="#c4c412" stroke="#9a9a08" stroke-width="0.3"/>
<circle cx="366.42" cy="435.65" r="1.5015583020370769" fill="#c4c412" stroke="#9a9a08" stroke-width="0.3"/>
<circle cx="345.75" cy="437.82" r="1.3480876269973283" fill="#c4c412" stroke="#9a9a08" stroke-width="0.3"/>
<circle cx="348.35" cy="435.49" r="1.1490173464374227" fill="#c4c412" stroke="#9a9a08" stroke-width="0.3"/>
<circle cx="352.29" cy="432.56" r="1.212769042377677" fill="#c4c412" stroke="#9a9a08" stroke-width="0.3"/>
<circle cx="357.90" cy="429.41" r="1.1620292635277951" fill="#c4c412" stroke="#9a9a08" stroke-width="0.3"/>
<circle cx="362.25" cy="427.64" r="1.2901434768806617" fill="#c4c412" stroke="#9a9a08" stroke-width="0.3"/>
<circle cx="368.67" cy="425.95" r="1.1351199862890062" fill="#c4c412" stroke="#9a9a08" stroke-width="0.3"/>
<circle cx="338.22" cy="432.64" r="1.2921018508667954" fill="#c4c412" stroke="#9a9a08" stroke-width="0.3"/>
<circle cx="341.55" cy="429.45" r="1.0672932614720172" fill="#c4c412" stroke="#9a9a08" stroke-width="0.3"/>
<circle cx="345.54" cy="426.28" r="1.2470658656070943" fill="#c4c412" stroke="#9a9a08" stroke-width="0.3"/>
<circle cx="349.62" cy="423.62" r="1.1331321228786435" fill="#c4c412" stroke="#9a9a08" stroke-width="0.3"/>
<circle cx="354.53" cy="421.06" r="1.3093791073178829" fill="#c4c412" stroke="#9a9a08" stroke-width="0.3"/>
<circle cx="359.00" cy="419.25" r="1.182960200096491" fill="#c4c412" stroke="#9a9a08" stroke-width="0.3"/>
<circle cx="363.03" cy="418.00" r="1.2674900808490597" fill="#c4c412" stroke="#9a9a08" stroke-width="0.3"/>
<circle cx="365.81" cy="417.34" r="1.0580338573709875" fill="#c4c412" stroke="#9a9a08" stroke-width="0.3"/>
<circle cx="335.48" cy="422.81" r="1.4840563954821362" fill="#c4c412" stroke="#9a9a08" stroke-width="0.3"/>
<circle cx="337.44" cy="421.15" r="1.6109009959248746" fill="#c4c412" stroke="#9a9a08" stroke-width="0.3"/>
<circle cx="331.16" cy="427.00" r="1.2729591588618598" fill="#c4c412" stroke="#9a9a08" stroke-width="0.3"/>
<circle cx="335.29" cy="422.97" r="1.2540664364531298" fill="#c4c412" stroke="#9a9a08" stroke-width="0.3"/>
<circle cx="338.23" cy="420.52" r="1.0817468743524243" fill="#c4c412" stroke="#9a9a08" stroke-width="0.3"/>
<circle cx="342.08" cy="417.73" r="1.1551012587152647" fill="#c4c412" stroke="#9a9a08" stroke-width="0.3"/>
<circle cx="346.91" cy="414.81" r="1.052832402437313" fill="#c4c412" stroke="#9a9a08" stroke-width="0.3"/>
<circle cx="351.43" cy="412.58" r="1.1710058482618735" fill="#c4c412" stroke="#9a9a08" stroke-width="0.3"/>
<circle cx="355.46" cy="410.96" r="1.211141911536145" fill="#c4c412" stroke="#9a9a08" stroke-width="0.3"/>
<circle cx="361.76" cy="409.04" r="1.1114058942067848" fill="#c4c412" stroke="#9a9a08" stroke-width="0.3"/>
<circle cx="366.31" cy="408.09" r="1.1462683172520356" fill="#c4c412" stroke="#9a9a08" stroke-width="0.3"/>
<circle cx="364.10" cy="446.21" r="1.8" fill="#c4c412" stroke="#9a9a08" stroke-width="0.3"/>
<circle cx="405.70" cy="424.68" r="1.7" fill="#c4c412" stroke="#9a9a08" stroke-width="0.3"/>
<circle cx="346.27" cy="425.77" r="1.7" fill="#c4c412" stroke="#9a9a08" stroke-width="0.3"/>
<circle cx="351.71" cy="460.57" r="1.7" fill="#c4c412" stroke="#9a9a08" stroke-width="0.3"/>
<circle cx="363.45" cy="446.58" r="1.7" fill="#c4c412" stroke="#9a9a08" stroke-width="0.3"/>
<circle cx="373.08" cy="443.26" r="1.7" fill="#c4c412" stroke="#9a9a08" stroke-width="0.3"/>
<circle cx="379.13" cy="443.10" r="1.7" fill="#c4c412" stroke="#9a9a08" stroke-width="0.3"/>
<circle cx="385.93" cy="444.61" r="1.7" fill="#c4c412" stroke="#9a9a08" stroke-width="0.3"/>
<circle cx="393.96" cy="449.25" r="1.7" fill="#c4c412" stroke="#9a9a08" stroke-width="0.3"/>
<circle cx="399.92" cy="456.35" r="1.7" fill="#c4c412" stroke="#9a9a08" stroke-width="0.3"/>
<circle cx="402.59" cy="462.79" r="1.7" fill="#c4c412" stroke="#9a9a08" stroke-width="0.3"/>
<circle cx="403.40" cy="472.03" r="1.7" fill="#c4c412" stroke="#9a9a08" stroke-width="0.3"/>
<circle cx="401.63" cy="479.53" r="1.7" fill="#c4c412" stroke="#9a9a08" stroke-width="0.3"/>
<circle cx="383.71" cy="495.49" r="1.7" fill="#c4c412" stroke="#9a9a08" stroke-width="0.3"/>
<circle cx="374.47" cy="496.30" r="1.7" fill="#c4c412" stroke="#9a9a08" stroke-width="0.3"/>
<circle cx="361.49" cy="491.57" r="1.7" fill="#c4c412" stroke="#9a9a08" stroke-width="0.3"/>
<circle cx="353.68" cy="483.05" r="1.7" fill="#c4c412" stroke="#9a9a08" stroke-width="0.3"/>
<circle cx="342.41" cy="478.91" r="1.7" fill="#c4c412" stroke="#9a9a08" stroke-width="0.3"/>
<circle cx="390.71" cy="436.93" r="1.7" fill="#c4c412" stroke="#9a9a08" stroke-width="0.3"/>
<circle cx="403.26" cy="445.88" r="1.7" fill="#c4c412" stroke="#9a9a08" stroke-width="0.3"/>
<circle cx="410.25" cy="457.52" r="1.7" fill="#c4c412" stroke="#9a9a08" stroke-width="0.3"/>
<circle cx="412.40" cy="469.70" r="1.7" fill="#c4c412" stroke="#9a9a08" stroke-width="0.3"/>
<circle cx="394.60" cy="500.53" r="1.7" fill="#c4c412" stroke="#9a9a08" stroke-width="0.3"/>
<circle cx="386.01" cy="504.09" r="1.7" fill="#c4c412" stroke="#9a9a08" stroke-width="0.3"/>
<circle cx="379.90" cy="505.16" r="1.7" fill="#c4c412" stroke="#9a9a08" stroke-width="0.3"/>
<circle cx="359.00" cy="500.53" r="1.7" fill="#c4c412" stroke="#9a9a08" stroke-width="0.3"/>
<circle cx="359.07" cy="468.15" r="1.7" fill="#c4c412" stroke="#9a9a08" stroke-width="0.3"/>
<circle cx="370.71" cy="452.97" r="1.7" fill="#c4c412" stroke="#9a9a08" stroke-width="0.3"/>
<circle cx="378.04" cy="451.94" r="1.7" fill="#c4c412" stroke="#9a9a08" stroke-width="0.3"/>
<circle cx="392.22" cy="460.80" r="1.7" fill="#c4c412" stroke="#9a9a08" stroke-width="0.3"/>
<circle cx="381.41" cy="486.89" r="1.7" fill="#c4c412" stroke="#9a9a08" stroke-width="0.3"/>
<circle cx="372.19" cy="486.89" r="1.7" fill="#c4c412" stroke="#9a9a08" stroke-width="0.3"/>
<circle cx="363.16" cy="481.14" r="1.7" fill="#c4c412" stroke="#9a9a08" stroke-width="0.3"/>
<circle cx="366.09" cy="455.48" r="1.7" fill="#c4c412" stroke="#9a9a08" stroke-width="0.3"/>
<circle cx="385.70" cy="454.28" r="1.7" fill="#c4c412" stroke="#9a9a08" stroke-width="0.3"/>
<circle cx="394.53" cy="471.25" r="1.7" fill="#c4c412" stroke="#9a9a08" stroke-width="0.3"/>
<circle cx="367.90" cy="469.70" r="2.6" fill="#c4c412" stroke="#9a9a08" stroke-width="0.3"/>
<circle cx="377.30" cy="469.70" r="0.8" fill="#c4c412" stroke="#9a9a08" stroke-width="0.3"/>
<circle cx="363.45" cy="446.58" r="2.0" fill="#007700" stroke="#9a9a08" stroke-width="0.3"/>
<circle cx="363.06" cy="436.86" r="2.0" fill="#0000ff" stroke="#9a9a08" stroke-width="0.3"/>
<circle cx="341.50" cy="465.05" r="2.0" fill="#990099" stroke="#9a9a08" stroke-width="0.3"/>
<circle cx="332.62" cy="464.35" r="2.0" fill="#990099" stroke="#9a9a08" stroke-width="0.3"/>
<circle cx="323.90" cy="461.70" r="2.0" fill="#990099" stroke="#9a9a08" stroke-width="0.3"/>
<circle cx="345.78" cy="487.18" r="2.0" fill="#ff0000" stroke="#9a9a08" stroke-width="0.3"/>
<circle cx="344.90" cy="500.72" r="2.0" fill="#ff0000" stroke="#9a9a08" stroke-width="0.3"/>
<circle cx="335.28" cy="485.72" r="2.0" fill="#007700" stroke="#9a9a08" stroke-width="0.3"/>
<circle cx="325.64" cy="485.34" r="2.0" fill="#007700" stroke="#9a9a08" stroke-width="0.3"/>
<circle cx="393.53" cy="475.79" r="2.0" fill="#ffa500" stroke="#9a9a08" stroke-width="0.3"/>
<circle cx="402.64" cy="476.43" r="2.0" fill="#ffa500" stroke="#9a9a08" stroke-width="0.3"/>
<circle cx="411.30" cy="478.49" r="2.0" fill="#ffa500" stroke="#9a9a08" stroke-width="0.3"/>
<circle cx="419.84" cy="480.99" r="2.0" fill="#ffa500" stroke="#9a9a08" stroke-width="0.3"/>
<circle cx="401.56" cy="479.70" r="2.0" fill="#007700" stroke="#9a9a08" stroke-width="0.3"/>
<circle cx="410.25" cy="481.88" r="2.0" fill="#007700" stroke="#9a9a08" stroke-width="0.3"/>
<circle cx="418.12" cy="486.23" r="2.0" fill="#007700" stroke="#9a9a08" stroke-width="0.3"/>
<circle cx="389.50" cy="482.18" r="2.0" fill="#00ee00" stroke="#9a9a08" stroke-width="0.3"/>
<circle cx="395.68" cy="488.58" r="2.0" fill="#00ee00" stroke="#9a9a08" stroke-width="0.3"/>
<circle cx="401.97" cy="494.87" r="2.0" fill="#00ee00" stroke="#9a9a08" stroke-width="0.3"/>
<circle cx="408.27" cy="501.17" r="2.0" fill="#00ee00" stroke="#9a9a08" stroke-width="0.3"/>
<circle cx="414.63" cy="507.53" r="2.0" fill="#00ee00" stroke="#9a9a08" stroke-width="0.3"/>
<circle cx="420.99" cy="513.89" r="2.0" fill="#00ee00" stroke="#9a9a08" stroke-width="0.3"/>
<text x="0" y="0" font-size="3.2" fill="#e070d0" font-family='"Liberation Sans", sans-serif' transform="translate(446.5,518.3) rotate(-67.2)">p: c__Desulfovibrionia_n</text>
<text x="0" y="0" font-size="2.7" fill="#f6a860" font-family='"Liberation Sans", sans-serif' transform="translate(424,539.5) rotate(-44)">unidentified_Bacteria</text>
<circle cx="441.0" cy="487.0" r="0.8" fill="#e878c8"/>
<circle cx="445.3" cy="488.2" r="0.8" fill="#e878c8"/>
<circle cx="449.6" cy="489.4" r="0.8" fill="#e878c8"/>
<text x="350.0" y="403.5" font-size="2.6" fill="#3a5a8a" text-anchor="middle" font-family='"Liberation Sans", sans-serif'>a</text>
<text x="339.3" y="402.5" font-size="2.6" fill="#4a7a5a" text-anchor="middle" font-family='"Liberation Sans", sans-serif'>b</text>
<text x="300.8" y="463.5" font-size="2.6" fill="#40c0d0" text-anchor="middle" font-family='"Liberation Sans", sans-serif'>c</text>
<text x="310.8" y="465.6" font-size="2.6" fill="#40c0d0" text-anchor="middle" font-family='"Liberation Sans", sans-serif'>d</text>
<text x="316.0" y="486.0" font-size="2.6" fill="#a08070" text-anchor="middle" font-family='"Liberation Sans", sans-serif'>g</text>
<text x="314.5" y="497.5" font-size="2.6" fill="#c06070" text-anchor="middle" font-family='"Liberation Sans", sans-serif'>f</text>
<text x="330.5" y="520.0" font-size="2.6" fill="#d07080" text-anchor="middle" font-family='"Liberation Sans", sans-serif'>e</text>
<text x="441.5" y="492.0" font-size="2.6" fill="#3a6a3a" text-anchor="middle" font-family='"Liberation Sans", sans-serif'>k</text>
<text x="447.0" y="492.5" font-size="2.6" fill="#3a6a3a" text-anchor="middle" font-family='"Liberation Sans", sans-serif'>l</text>
<text x="451.5" y="497.0" font-size="2.6" fill="#3a6a3a" text-anchor="middle" font-family='"Liberation Sans", sans-serif'>m</text>
</svg>
</body></html>
